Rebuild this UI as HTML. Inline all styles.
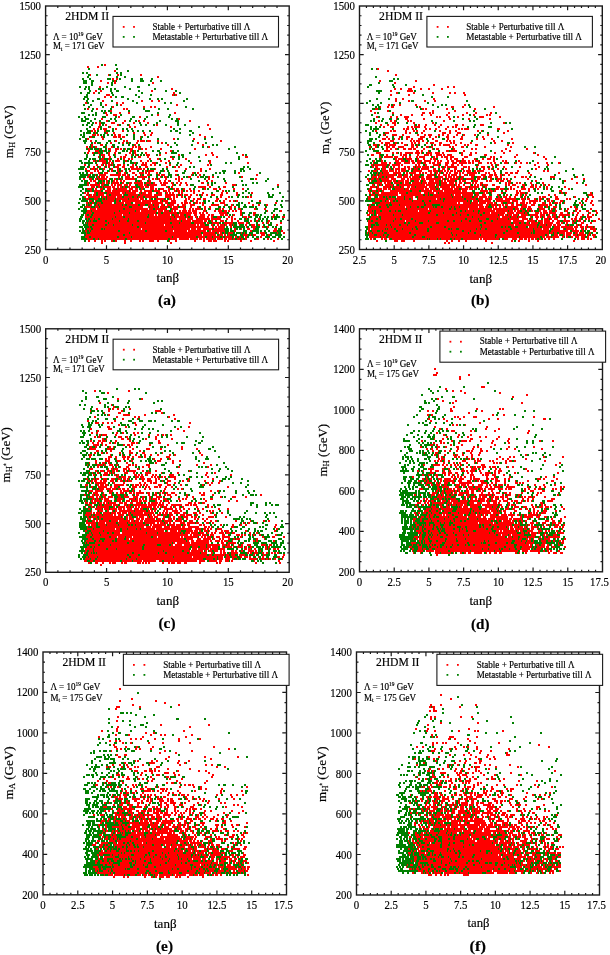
<!DOCTYPE html>
<html><head><meta charset="utf-8"><style>
html,body{margin:0;padding:0;background:#fff;width:610px;height:955px;overflow:hidden}
svg{display:block;will-change:transform}
text{font-family:"Liberation Serif",serif;stroke:#000;stroke-width:0.18px}
</style></head><body>
<svg width="610" height="955" viewBox="0 0 610 955" font-family='"Liberation Serif", serif' fill="#000">
<path d="M104 65h2M87 67h2m8 0h2M377 69h2M114 71h2m271 0h2M90 75h1m17 0h1m8 0h2m21 0h2m253 0h2M157 77h2M112 79h2m2 0h2M100 81h2m12 0h2m263 0h2m34 0h2M107 83h2m5 0h2m36 0h2m240 0h2M433 85h2M99 87h2m312 0h2m32 0h2m4 0h2M171 89h2m221 0h2m4 0h2m6 0h4m8 0h2m6 0h2m11 0h2M95 91h2m3 0h2m49 0h2m237 0h2m15 0h6M93 93h2m78 0h2m221 0h2m15 0h2m17 0h2m15 0h2m3 0h2m7 0h2M106 95h4m62 0h2m1 0h2m213 0h2m16 0h2m54 0h2M104 97h2m4 0h2M395 99h2m5 0h2m29 0h2M102 101h2m37 0h2m8 0h2m5 0h2m235 0h2m11 0h2m14 0h2m8 0h2M85 103h2m29 0h2m4 0h2M105 105h2m13 0h2m54 0h2m210 0h2m3 0h2m4 0h2m14 0h2m47 0h2M112 107h2m29 0h2m5 0h2m2 0h2m224 0h1m6 0h2m2 0h3m25 0h2m30 0h3m8 0h2m29 0h2M87 109h2m7 0h2m25 0h2m1 0h2m247 0h3m44 0h2m1 0h2m19 0h2m26 0h2M110 111h2m258 0h2m15 0h2m43 0h2m20 0h2M105 113h2m12 0h2m7 0h2m44 0h2m198 0h2m16 0h2m28 0h3m4 0h2m1 0h2m14 0h2m16 0h2m7 0h2m13 0h2M106 115h2m5 0h4m40 0h2m241 0h2m9 0h2m8 0h2m7 0h2m14 0h2m14 0h2m9 0h2m11 0h2m1 0h2M118 117h2m19 0h2m235 0h2m12 0h2m4 0h2m6 0h5m27 0h2m1 0h2m7 0h2m7 0h2m20 0h5m15 0h2M101 119h2m75 0h2m216 0h1m8 0h3m15 0h2m24 0h2m17 0h2m19 0h2M106 121h2m16 0h2m12 0h2m3 0h2m44 0h2m187 0h2m10 0h2m2 0h2m11 0h2m1 0h2m31 0h2M95 123h2m2 0h2m10 0h4m7 0h2m9 0h2m12 0h2m226 0h2m15 0h4m17 0h2m17 0h2m69 0h2M99 125h2m4 0h2m10 0h2m10 0h1m26 0h2m49 0h2m171 0h2m5 0h2m5 0h2m18 0h1m3 0h2m5 0h2m7 0h2m4 0h2m13 0h3m4 0h2m16 0h4M98 127h2m9 0h2m18 0h2m3 0h2m34 0h2m211 0h2m5 0h4m13 0h2m2 0h2m1 0h6m4 0h2m12 0h2m7 0h2m3 0h2m1 0h2M93 129h2m2 0h2m4 0h4m8 0h2m92 0h2m192 0h2m1 0h3m3 0h2m11 0h2m2 0h2m4 0h2m8 0h2m11 0h2m1 0h2m1 0h5m28 0h3M91 131h2m1 0h2m8 0h2m16 0h2m251 0h2m13 0h2m1 0h3m9 0h2m6 0h2m1 0h2m5 0h2m14 0h2m8 0h2m4 0h2m20 0h2m2 0h1m25 0h2M95 133h1m10 0h2m5 0h2m18 0h2m8 0h2m6 0h2m232 0h4m16 0h2m2 0h2m10 0h2m19 0h4m3 0h2m6 0h4m42 0h2M92 135h4m1 0h2m15 0h2m2 0h3m23 0h2m4 0h2m47 0h2m182 0h2m7 0h5m5 0h2m13 0h2m5 0h2m2 0h4m6 0h2m2 0h2m3 0h2m7 0h2m5 0h2m9 0h2m11 0h2M90 137h2m9 0h2m10 0h4m1 0h3m1 0h3m15 0h1m63 0h2m180 0h2m11 0h2m5 0h4m10 0h5m4 0h2m4 0h2m9 0h3m4 0h2m6 0h2m19 0h2M87 139h2m13 0h2m69 0h2m18 0h2m187 0h4m2 0h2m4 0h1m3 0h2m6 0h2m3 0h2m5 0h5m9 0h2m13 0h2m11 0h3m13 0h2m5 0h2m6 0h2m18 0h2M90 141h2m23 0h2m6 0h2m1 0h2m9 0h2m1 0h5m2 0h4m6 0h2m61 0h2m157 0h2m9 0h4m16 0h2m1 0h2m1 0h4m2 0h2m11 0h3m8 0h2m1 0h2m2 0h2m38 0h2m6 0h2M94 143h2m14 0h2m10 0h2m4 0h1m7 0h2m23 0h2m34 0h2m182 0h2m2 0h5m5 0h2m4 0h2m8 0h2m1 0h2m2 0h2m6 0h2m2 0h4m5 0h3m8 0h2m1 0h2m5 0h2m8 0h2m22 0h2m16 0h2M91 145h2m7 0h3m31 0h2m31 0h2m33 0h2m169 0h4m2 0h1m5 0h3m1 0h7m8 0h3m4 0h3m3 0h1m16 0h2m3 0h2m2 0h7m5 0h2m7 0h2m1 0h2m6 0h3m29 0h2M86 147h2m3 0h2m2 0h2m9 0h1m4 0h2m19 0h2m1 0h2m1 0h3m9 0h2m56 0h2m159 0h2m4 0h2m9 0h4m2 0h3m3 0h6m7 0h3m2 0h2m8 0h3m2 0h2m16 0h2m1 0h2m7 0h3m20 0h2m24 0h2M88 149h2m9 0h1m8 0h3m4 0h4m1 0h2m3 0h1m4 0h3m5 0h2m1 0h2m2 0h2m13 0h2m32 0h2m177 0h2m11 0h2m2 0h2m3 0h2m6 0h3m2 0h4m1 0h3m7 0h2m7 0h1m3 0h3m14 0h2m16 0h2m2 0h2m28 0h2m19 0h2M88 151h2m5 0h4m4 0h1m6 0h1m4 0h2m13 0h2m2 0h2m34 0h2m212 0h6m26 0h3m2 0h2m5 0h1m17 0h3m1 0h7m6 0h2m36 0h2m6 0h2M87 153h2m3 0h2m4 0h2m8 0h2m4 0h2m13 0h2m3 0h2m9 0h2m18 0h2m44 0h2m163 0h5m11 0h2m2 0h2m2 0h2m3 0h8m2 0h5m1 0h1m5 0h5m3 0h5m2 0h2m17 0h2m7 0h2m3 0h2m17 0h2m7 0h2m28 0h2M101 155h4m3 0h2m5 0h1m9 0h2m4 0h1m3 0h2m9 0h4m9 0h2m17 0h2m25 0h2m5 0h2m28 0h2m127 0h3m5 0h1m6 0h2m12 0h2m1 0h4m10 0h2m5 0h5m1 0h2m4 0h6m1 0h2m2 0h5m9 0h2m6 0h3m12 0h3m29 0h2m19 0h2M98 157h1m4 0h2m4 0h2m9 0h2m1 0h3m12 0h3m6 0h2m21 0h2m44 0h2m27 0h3m131 0h2m3 0h9m1 0h4m4 0h2m1 0h2m2 0h2m5 0h2m1 0h6m8 0h2m1 0h2m3 0h2m1 0h4m2 0h4m10 0h4m22 0h2m1 0h2m5 0h2m12 0h2m27 0h2M101 159h3m4 0h2m7 0h2m4 0h2m3 0h2m1 0h2m16 0h2m6 0h2m13 0h2m11 0h2m194 0h1m13 0h2m1 0h5m3 0h6m5 0h2m4 0h2m5 0h2m1 0h3m10 0h2m2 0h2m2 0h4m4 0h2m10 0h2m6 0h2m3 0h4m2 0h2m50 0h2M93 161h2m1 0h1m2 0h7m3 0h2m4 0h5m5 0h2m13 0h2m5 0h2m11 0h2m6 0h2m39 0h2m162 0h2m6 0h2m12 0h4m2 0h4m3 0h2m1 0h3m3 0h5m2 0h7m3 0h2m1 0h2m1 0h2m5 0h2m2 0h3m2 0h4m1 0h5m2 0h2m2 0h2m1 0h4m14 0h2m7 0h2m1 0h2m11 0h2M102 163h4m2 0h2m1 0h2m21 0h2m6 0h2m1 0h2m5 0h4m9 0h2m23 0h2m17 0h2m36 0h2m124 0h1m7 0h6m2 0h2m5 0h5m3 0h6m2 0h3m2 0h4m2 0h3m3 0h2m1 0h3m2 0h4m4 0h4m3 0h5m2 0h8m1 0h3m1 0h2m4 0h4m5 0h2m1 0h2m2 0h2m8 0h4m7 0h2m3 0h2m4 0h2m9 0h2m7 0h2m10 0h2M84 165h2m10 0h2m3 0h2m2 0h2m1 0h3m1 0h1m4 0h4m2 0h2m7 0h2m7 0h6m3 0h2m2 0h2m13 0h2m9 0h2m25 0h2m162 0h2m1 0h13m2 0h1m2 0h8m1 0h2m12 0h2m1 0h2m5 0h2m6 0h6m6 0h3m3 0h3m3 0h2m2 0h2m15 0h1m12 0h2m4 0h2m35 0h2m11 0h2M89 167h1m3 0h2m4 0h2m3 0h1m3 0h2m5 0h4m3 0h3m5 0h4m2 0h2m7 0h3m18 0h2m6 0h2m2 0h2m192 0h2m1 0h3m4 0h4m2 0h1m4 0h2m3 0h2m4 0h2m1 0h3m3 0h2m1 0h5m1 0h7m1 0h2m6 0h2m1 0h1m2 0h2m1 0h10m6 0h4m1 0h2m6 0h2m3 0h4m2 0h1m4 0h2m9 0h2m14 0h2m17 0h2M85 169h2m4 0h4m1 0h2m5 0h2m6 0h2m4 0h2m5 0h1m6 0h11m1 0h2m10 0h1m29 0h2m13 0h2m7 0h2m165 0h4m2 0h4m3 0h2m2 0h1m1 0h5m1 0h5m2 0h2m1 0h1m2 0h4m3 0h8m4 0h3m6 0h3m2 0h1m6 0h3m4 0h2m5 0h2m13 0h2m3 0h2m1 0h1m5 0h2m6 0h2m28 0h2M87 171h3m4 0h2m1 0h2m10 0h1m1 0h2m4 0h2m2 0h2m6 0h2m14 0h2m1 0h6m10 0h1m10 0h3m22 0h2m166 0h2m3 0h4m5 0h6m1 0h5m1 0h2m1 0h2m1 0h5m7 0h9m6 0h4m1 0h5m2 0h3m1 0h2m1 0h2m1 0h3m1 0h2m1 0h3m3 0h2m1 0h5m3 0h2m1 0h7m9 0h2m22 0h2m24 0h2m2 0h2M90 173h3m5 0h2m4 0h4m10 0h3m3 0h2m6 0h3m4 0h5m1 0h2m1 0h2m6 0h2m34 0h2m3 0h2m39 0h2m137 0h1m2 0h2m1 0h6m4 0h8m5 0h2m1 0h7m3 0h2m1 0h2m1 0h2m3 0h2m2 0h1m1 0h2m1 0h2m2 0h1m2 0h2m1 0h2m3 0h4m1 0h2m1 0h2m3 0h10m8 0h2m1 0h2m4 0h2m9 0h3m2 0h3m2 0h3m10 0h2m28 0h2M88 175h2m5 0h1m3 0h7m4 0h11m1 0h4m1 0h2m6 0h2m4 0h1m5 0h3m8 0h2m1 0h4m10 0h2m14 0h1m7 0h2m55 0h2m115 0h1m2 0h2m1 0h17m2 0h4m2 0h4m4 0h1m1 0h6m7 0h7m2 0h1m1 0h2m3 0h4m1 0h2m1 0h6m2 0h2m3 0h3m2 0h6m6 0h5m3 0h4m1 0h3m3 0h2m1 0h2m3 0h2m20 0h2M87 177h2m8 0h2m2 0h4m1 0h2m10 0h2m5 0h5m2 0h2m4 0h9m13 0h1m3 0h3m11 0h2m8 0h3m6 0h2m9 0h2m2 0h2m27 0h2m129 0h5m1 0h4m2 0h2m1 0h7m3 0h5m1 0h5m1 0h2m1 0h7m2 0h3m2 0h6m2 0h1m3 0h5m2 0h2m1 0h4m1 0h2m1 0h3m2 0h3m7 0h3m3 0h4m2 0h2m3 0h4m3 0h3m2 0h2m12 0h2m5 0h3m1 0h2m23 0h5m21 0h2M83 179h2m4 0h3m3 0h2m1 0h9m2 0h1m4 0h2m2 0h1m2 0h1m3 0h10m7 0h2m4 0h2m2 0h2m1 0h2m1 0h2m5 0h2m8 0h2m1 0h2m1 0h2m25 0h2m45 0h2m110 0h2m2 0h3m2 0h3m2 0h8m2 0h5m5 0h4m2 0h2m1 0h10m1 0h4m1 0h15m1 0h2m2 0h3m1 0h8m2 0h3m3 0h8m3 0h3m1 0h2m7 0h2m5 0h4m2 0h2m1 0h2m19 0h2m42 0h2m10 0h2M90 181h2m1 0h3m6 0h1m3 0h2m5 0h2m1 0h2m2 0h2m1 0h2m12 0h1m2 0h2m7 0h2m8 0h2m3 0h2m2 0h2m8 0h2m26 0h2m3 0h2m155 0h2m1 0h1m5 0h3m2 0h10m1 0h3m2 0h6m1 0h4m1 0h1m3 0h5m1 0h1m2 0h3m3 0h5m1 0h4m2 0h2m1 0h2m1 0h8m4 0h2m1 0h4m7 0h5m8 0h2m1 0h3m4 0h3m1 0h4m4 0h3m24 0h2m27 0h2M87 183h2m6 0h2m2 0h1m2 0h3m1 0h2m1 0h1m2 0h7m3 0h2m5 0h3m2 0h9m3 0h5m2 0h2m5 0h2m1 0h5m3 0h2m3 0h2m2 0h2m3 0h2m14 0h3m21 0h2m147 0h8m2 0h2m1 0h4m3 0h6m2 0h2m1 0h4m3 0h9m1 0h5m1 0h11m2 0h6m2 0h5m1 0h2m2 0h3m4 0h5m1 0h2m1 0h2m3 0h3m22 0h2m1 0h3m5 0h2m1 0h2m9 0h2m10 0h2m32 0h2M87 185h2m1 0h10m1 0h3m7 0h2m1 0h2m1 0h5m2 0h4m1 0h2m7 0h5m1 0h3m2 0h8m4 0h5m6 0h2m5 0h2m5 0h2m19 0h2m23 0h4m41 0h2m93 0h2m3 0h2m1 0h2m3 0h8m3 0h1m2 0h26m1 0h9m2 0h2m2 0h13m1 0h2m1 0h2m3 0h2m5 0h1m3 0h2m1 0h2m1 0h2m1 0h5m4 0h3m10 0h2m1 0h2m2 0h4m6 0h3m6 0h2m2 0h2m6 0h2m3 0h2m35 0h2M91 187h4m3 0h2m2 0h1m1 0h7m1 0h3m2 0h2m1 0h2m1 0h2m3 0h2m1 0h5m4 0h4m1 0h4m1 0h4m12 0h2m3 0h2m25 0h8m3 0h2m12 0h3m144 0h6m1 0h2m4 0h7m1 0h2m1 0h6m1 0h3m3 0h3m1 0h4m1 0h11m2 0h6m1 0h3m1 0h10m1 0h4m1 0h6m3 0h4m1 0h9m3 0h1m2 0h2m9 0h4m10 0h2m5 0h2m4 0h2m5 0h4m1 0h2m2 0h2m5 0h2m16 0h2M87 189h5m3 0h2m3 0h3m4 0h4m2 0h3m1 0h10m2 0h4m2 0h3m3 0h2m7 0h4m1 0h2m3 0h4m4 0h2m3 0h2m1 0h3m4 0h2m4 0h2m13 0h2m7 0h4m2 0h2m12 0h2m7 0h2m125 0h3m4 0h6m1 0h4m1 0h3m4 0h9m1 0h4m1 0h14m1 0h4m1 0h6m2 0h1m3 0h11m1 0h5m2 0h7m1 0h4m1 0h2m5 0h2m7 0h1m4 0h4m1 0h4m4 0h1m1 0h2m1 0h2m6 0h5m2 0h2m3 0h1m3 0h2m7 0h2m20 0h2M90 191h2m2 0h7m4 0h6m1 0h17m1 0h1m1 0h6m2 0h2m2 0h8m2 0h6m3 0h4m1 0h2m4 0h2m1 0h3m1 0h2m3 0h2m2 0h2m1 0h2m3 0h2m22 0h2m144 0h2m2 0h4m2 0h2m2 0h2m6 0h20m2 0h7m2 0h11m1 0h10m1 0h17m1 0h5m13 0h8m1 0h4m1 0h2m9 0h2m9 0h2m1 0h2m7 0h2m29 0h3M84 193h2m1 0h2m5 0h2m2 0h6m3 0h13m2 0h3m1 0h10m3 0h2m1 0h4m2 0h4m6 0h4m4 0h2m1 0h2m1 0h2m4 0h2m1 0h2m10 0h2m7 0h2m17 0h2m3 0h2m8 0h2m13 0h2m116 0h2m1 0h1m2 0h4m2 0h17m1 0h7m2 0h13m3 0h4m1 0h5m2 0h2m1 0h34m2 0h4m4 0h2m1 0h2m3 0h1m9 0h2m13 0h3m1 0h5m2 0h1m33 0h2m2 0h2m23 0h2M86 195h3m1 0h2m1 0h3m2 0h6m2 0h3m2 0h11m1 0h1m4 0h10m2 0h12m2 0h8m3 0h10m1 0h2m2 0h2m2 0h4m2 0h2m4 0h2m3 0h2m3 0h2m3 0h4m5 0h3m13 0h2m133 0h4m3 0h20m3 0h22m2 0h3m1 0h1m3 0h18m1 0h2m1 0h6m1 0h11m3 0h3m3 0h4m11 0h2m7 0h2m7 0h3m2 0h2m3 0h2m21 0h2m4 0h2m32 0h5M84 197h2m2 0h12m2 0h4m1 0h9m1 0h5m2 0h8m2 0h3m1 0h5m2 0h12m8 0h6m2 0h2m1 0h2m3 0h2m5 0h3m29 0h2m6 0h2m17 0h2m1 0h2m116 0h3m3 0h1m4 0h4m2 0h1m1 0h2m2 0h1m5 0h7m1 0h8m2 0h1m2 0h34m1 0h9m1 0h9m2 0h4m1 0h8m1 0h4m6 0h2m3 0h4m2 0h2m3 0h2m4 0h1m3 0h2m13 0h2m1 0h4m9 0h3m16 0h2m16 0h2M86 199h3m5 0h4m4 0h1m2 0h1m1 0h8m1 0h12m1 0h10m1 0h4m5 0h2m5 0h8m5 0h3m1 0h2m10 0h2m1 0h2m3 0h2m2 0h4m2 0h3m10 0h3m6 0h2m141 0h3m4 0h11m2 0h7m1 0h8m1 0h4m2 0h2m5 0h18m1 0h3m1 0h2m2 0h19m2 0h10m2 0h5m2 0h4m1 0h2m3 0h8m2 0h11m5 0h4m2 0h3m4 0h2m3 0h3m4 0h1m1 0h2m5 0h4m7 0h2m1 0h2m11 0h2m2 0h2M89 201h3m3 0h1m6 0h12m2 0h3m3 0h19m1 0h16m2 0h2m1 0h5m3 0h5m8 0h3m5 0h2m2 0h2m17 0h3m5 0h2m4 0h2m2 0h2m1 0h2m21 0h2m114 0h5m2 0h3m1 0h3m1 0h3m2 0h1m2 0h14m1 0h9m2 0h5m2 0h12m1 0h23m1 0h2m3 0h5m1 0h12m5 0h14m2 0h6m4 0h3m4 0h9m1 0h2m6 0h3m1 0h2m7 0h3m22 0h2m4 0h2M86 203h2m1 0h1m2 0h2m3 0h4m2 0h9m4 0h8m1 0h6m4 0h16m1 0h11m2 0h3m2 0h6m5 0h2m1 0h4m1 0h2m4 0h3m1 0h2m1 0h2m16 0h5m23 0h2m25 0h2m95 0h3m5 0h10m1 0h33m1 0h32m1 0h2m3 0h7m1 0h7m1 0h7m1 0h6m1 0h2m5 0h2m4 0h5m1 0h1m2 0h2m2 0h5m1 0h2m1 0h2m2 0h3m6 0h3m4 0h2m3 0h4m1 0h2m3 0h1m14 0h2m9 0h2M87 205h1m2 0h2m4 0h2m1 0h23m1 0h2m2 0h11m2 0h5m3 0h5m1 0h5m2 0h3m3 0h7m3 0h2m3 0h4m4 0h5m7 0h2m7 0h8m5 0h2m5 0h2m19 0h2m4 0h2m6 0h2m101 0h2m7 0h8m2 0h1m3 0h7m1 0h24m2 0h6m8 0h43m3 0h3m2 0h6m1 0h3m1 0h2m1 0h3m3 0h3m2 0h4m2 0h5m4 0h4m5 0h8m1 0h3m29 0h2m9 0h2M85 207h6m4 0h4m1 0h29m3 0h11m5 0h1m1 0h8m2 0h8m2 0h2m1 0h5m2 0h5m5 0h2m5 0h2m5 0h2m3 0h2m19 0h2m2 0h2m132 0h2m1 0h8m2 0h6m2 0h16m1 0h4m1 0h6m2 0h2m3 0h9m1 0h1m2 0h4m2 0h8m1 0h2m1 0h4m1 0h18m1 0h5m1 0h3m4 0h2m1 0h2m2 0h2m2 0h2m2 0h11m3 0h6m1 0h3m7 0h5m3 0h2m5 0h4m13 0h2m2 0h2M90 209h6m1 0h26m2 0h23m1 0h4m2 0h11m6 0h6m5 0h3m3 0h2m1 0h2m1 0h6m3 0h2m4 0h1m8 0h2m1 0h2m6 0h2m6 0h3m13 0h2m8 0h2m102 0h38m1 0h21m1 0h20m2 0h3m2 0h12m1 0h23m1 0h20m2 0h4m1 0h3m4 0h5m7 0h6m6 0h2m2 0h1m5 0h1m5 0h2m6 0h3m12 0h2M87 211h4m1 0h27m1 0h15m1 0h4m1 0h16m1 0h5m1 0h5m2 0h2m1 0h2m3 0h2m1 0h5m1 0h3m1 0h5m6 0h3m8 0h2m2 0h4m2 0h3m1 0h2m2 0h2m1 0h2m3 0h2m25 0h1m12 0h2m86 0h4m1 0h1m2 0h4m2 0h7m2 0h4m1 0h2m3 0h17m1 0h11m1 0h29m2 0h3m1 0h7m1 0h4m2 0h15m1 0h12m1 0h4m1 0h2m1 0h3m2 0h3m2 0h2m2 0h2m1 0h1m4 0h2m2 0h4m2 0h3m3 0h2m8 0h3m7 0h2m2 0h2m5 0h3m6 0h2M86 213h6m2 0h20m1 0h14m1 0h26m2 0h3m2 0h14m2 0h13m1 0h4m2 0h2m1 0h2m2 0h2m11 0h8m13 0h2m11 0h3m113 0h5m2 0h52m2 0h13m1 0h12m1 0h21m1 0h4m2 0h5m1 0h14m2 0h7m2 0h8m1 0h2m8 0h4m1 0h2m1 0h5m1 0h7m4 0h3m4 0h1m4 0h2m3 0h2m10 0h2m5 0h2M85 215h2m2 0h2m2 0h29m1 0h25m1 0h5m1 0h2m1 0h12m1 0h1m2 0h5m1 0h4m2 0h5m3 0h3m3 0h5m3 0h2m1 0h3m6 0h4m1 0h3m5 0h2m5 0h2m11 0h2m18 0h2m92 0h3m3 0h1m2 0h1m1 0h15m1 0h8m1 0h33m2 0h14m2 0h6m1 0h6m2 0h11m2 0h16m1 0h5m1 0h2m1 0h4m1 0h5m3 0h7m2 0h8m2 0h5m3 0h2m3 0h3m3 0h11m6 0h2m4 0h2m3 0h2m3 0h2M85 217h5m2 0h23m1 0h7m2 0h22m2 0h25m1 0h10m1 0h2m2 0h3m2 0h2m2 0h6m2 0h2m2 0h2m4 0h3m8 0h2m1 0h2m10 0h4m1 0h2m22 0h2m8 0h3m86 0h8m2 0h91m1 0h27m2 0h8m1 0h6m1 0h8m4 0h1m4 0h4m1 0h2m1 0h2m2 0h4m1 0h4m2 0h2m2 0h2m11 0h2m3 0h2m5 0h5M87 219h1m2 0h4m1 0h3m2 0h12m1 0h15m1 0h41m1 0h6m2 0h7m1 0h6m3 0h14m1 0h10m5 0h2m3 0h2m1 0h2m10 0h1m11 0h2m110 0h6m2 0h2m1 0h14m1 0h4m2 0h9m2 0h52m2 0h11m1 0h7m3 0h8m1 0h10m1 0h10m3 0h6m3 0h2m3 0h2m6 0h5m1 0h2m2 0h4m6 0h2m5 0h2m1 0h3m2 0h2m4 0h2m1 0h2m8 0h2M89 221h1m1 0h2m4 0h8m2 0h12m1 0h7m2 0h8m2 0h42m1 0h9m1 0h11m1 0h3m4 0h2m7 0h4m7 0h2m4 0h2m11 0h2m4 0h2m10 0h2m98 0h3m2 0h20m1 0h11m1 0h9m1 0h12m1 0h18m2 0h4m2 0h6m1 0h7m2 0h8m3 0h9m2 0h18m2 0h11m3 0h8m3 0h5m1 0h6m2 0h2m3 0h3m3 0h7m2 0h1m1 0h2m2 0h3m2 0h1m9 0h3M86 223h1m1 0h20m1 0h36m1 0h24m2 0h7m1 0h11m3 0h10m3 0h2m3 0h7m5 0h9m5 0h6m2 0h2m14 0h2m3 0h2m11 0h2m86 0h7m3 0h26m2 0h2m2 0h9m4 0h13m3 0h45m2 0h25m2 0h6m2 0h3m2 0h3m2 0h7m2 0h3m1 0h9m3 0h4m1 0h2m3 0h2m4 0h2m7 0h3m6 0h2M88 225h4m2 0h11m2 0h6m1 0h18m1 0h31m1 0h31m1 0h2m1 0h5m6 0h2m4 0h2m1 0h4m1 0h2m2 0h3m1 0h1m5 0h1m5 0h2m4 0h4m3 0h2m16 0h2m90 0h3m4 0h1m3 0h7m1 0h3m1 0h8m2 0h6m1 0h72m2 0h32m1 0h22m2 0h7m1 0h5m1 0h3m1 0h4m4 0h2m2 0h1m6 0h2m1 0h3m4 0h2M89 227h1m2 0h45m2 0h33m1 0h36m3 0h2m1 0h2m1 0h7m5 0h2m14 0h1m5 0h4m6 0h2m3 0h2m99 0h3m2 0h18m1 0h23m2 0h13m2 0h12m2 0h35m1 0h19m2 0h2m1 0h2m3 0h4m3 0h8m3 0h8m1 0h2m2 0h9m3 0h6m1 0h12m1 0h4m2 0h4m1 0h2m1 0h5m1 0h1M87 229h4m2 0h8m2 0h1m1 0h36m1 0h48m1 0h5m1 0h4m2 0h9m2 0h10m10 0h2m5 0h1m5 0h3m3 0h2m19 0h3m91 0h2m1 0h14m1 0h1m1 0h6m2 0h6m1 0h9m1 0h3m2 0h9m2 0h19m2 0h1m1 0h4m3 0h17m1 0h3m1 0h4m2 0h23m2 0h21m1 0h8m1 0h6m4 0h7m3 0h1m2 0h8m1 0h2m4 0h2m2 0h2m3 0h6M85 231h2m2 0h1m1 0h27m2 0h25m2 0h18m2 0h6m1 0h13m1 0h18m3 0h2m1 0h13m9 0h2m14 0h2m21 0h4m4 0h2m85 0h2m2 0h5m3 0h2m1 0h13m2 0h29m2 0h33m2 0h6m1 0h35m2 0h25m2 0h14m2 0h17m4 0h7m3 0h2m9 0h3M86 233h1m3 0h39m1 0h71m2 0h12m2 0h2m1 0h2m2 0h1m3 0h5m8 0h1m2 0h1m15 0h5m12 0h1m5 0h2m82 0h1m1 0h3m1 0h11m3 0h22m2 0h40m1 0h16m1 0h5m2 0h27m2 0h12m2 0h12m1 0h1m2 0h14m1 0h3m1 0h3m2 0h6m1 0h6m3 0h3m1 0h5m5 0h2M86 235h37m2 0h77m1 0h13m3 0h4m1 0h2m2 0h2m13 0h5m2 0h1m2 0h3m5 0h4m3 0h2m99 0h5m3 0h6m1 0h3m2 0h25m2 0h36m1 0h3m1 0h23m1 0h14m2 0h48m2 0h2m5 0h4m1 0h1m3 0h2m1 0h5m2 0h4m1 0h8m2 0h2m2 0h4M85 237h4m2 0h26m2 0h12m1 0h40m1 0h23m2 0h7m2 0h5m1 0h7m2 0h1m2 0h7m3 0h2m2 0h2m4 0h2m13 0h2m107 0h11m1 0h5m2 0h24m2 0h8m3 0h70m1 0h23m1 0h20m2 0h3m1 0h5m1 0h7m3 0h2m2 0h2m3 0h2m2 0h4m2 0h4m2 0h2m4 0h2M87 239h6m2 0h3m1 0h26m2 0h41m2 0h7m2 0h10m1 0h8m1 0h3m1 0h2m1 0h9m2 0h6m1 0h3m1 0h4m1 0h2m2 0h3m1 0h2m2 0h2m9 0h3m8 0h2m8 0h2m91 0h2m1 0h1m7 0h2m1 0h3m2 0h1m2 0h35m1 0h1m1 0h7m1 0h2m1 0h9m2 0h2m1 0h6m2 0h16m1 0h2m1 0h16m5 0h4m4 0h5m2 0h4m1 0h3m1 0h2m1 0h3m1 0h2m2 0h2m3 0h2m2 0h2m3 0h2m22 0h2m2 0h4m2 0h2m1 0h2M88 241h2m4 0h2m5 0h2m1 0h2m5 0h2m2 0h2m7 0h2m4 0h2m7 0h2m1 0h2m5 0h5m3 0h2m10 0h1m5 0h2m17 0h2m7 0h2m3 0h4m1 0h4m7 0h2m1 0h2m11 0h2m8 0h2m21 0h2m101 0h2m16 0h4m3 0h4m8 0h2m31 0h2m3 0h2m5 0h2m5 0h2m18 0h2m24 0h2m5 0h2m8 0h2m7 0h2m34 0h2M101 243h2m21 0h2m44 0h2m272 0h2m2 0h2m41 0h2M434 369h2M436 373h2M433 375h4m31 0h2M459 377h2M459 379h2M481 387h4M445 389h2M94 391h2m32 0h2m322 0h2m6 0h2M107 393h2m355 0h2m33 0h2M526 395h2M512 397h2M117 399h2m22 0h2m294 0h2M442 401h2m11 0h2M99 403h2m351 0h2m67 0h2M111 405h1M113 407h2m338 0h2M96 409h2m10 0h2m2 0h2m3 0h2m10 0h2m319 0h2m24 0h2m21 0h2m1 0h2M90 411h1m17 0h2m11 0h2m32 0h6m266 0h2m3 0h2m16 0h3m28 0h2M104 413h1m13 0h3m40 0h2m305 0h2M108 415h2m13 0h7m14 0h2m27 0h2m252 0h2m2 0h2m59 0h2m9 0h2M94 417h2m20 0h2m16 0h2m2 0h2m28 0h2m284 0h2m1 0h2m4 0h2m8 0h4m56 0h2M122 419h2m13 0h1m36 0h2m252 0h2m13 0h2m14 0h2m27 0h2m7 0h2m44 0h3M87 421h2m25 0h2m314 0h2m14 0h2M95 423h4m3 0h2m3 0h2m2 0h2m21 0h2m53 0h2m288 0h2M118 425h2m15 0h2m315 0h2m2 0h2m7 0h1M107 427h3m15 0h2m61 0h2m244 0h2m50 0h2M90 429h2m16 0h4m65 0h2m260 0h2m5 0h2m37 0h2m11 0h2M97 431h2m84 0h2m266 0h4m15 0h2m2 0h1m19 0h2m32 0h2M91 433h2m3 0h2m18 0h2m4 0h2m9 0h2m2 0h2m297 0h2m89 0h2M99 435h2m1 0h5m8 0h2m17 0h2m12 0h2m7 0h2m3 0h2m1 0h1m4 0h2m271 0h2m13 0h2m10 0h2M94 437h2m2 0h2m18 0h4m4 0h2m27 0h2m289 0h2m9 0h2m8 0h2m10 0h2m4 0h2m11 0h2M102 439h2m2 0h1m14 0h3m3 0h2m16 0h2m8 0h2m14 0h2m261 0h1m7 0h2m26 0h3m23 0h2m10 0h2M90 441h2m6 0h3m1 0h4m9 0h2m12 0h2m27 0h2m261 0h2m17 0h2m9 0h2m8 0h6m2 0h2m9 0h2m10 0h2m13 0h2m30 0h2m11 0h2M92 443h2m3 0h2m2 0h2m6 0h2m3 0h2m15 0h4m1 0h2m20 0h3m272 0h2m5 0h2m1 0h2m13 0h2m31 0h2m15 0h2M88 445h1m4 0h6m3 0h1m2 0h2m16 0h2m2 0h3m1 0h2m16 0h2m16 0h2m261 0h3m3 0h2m12 0h2m9 0h2m31 0h2M90 447h2m3 0h2m12 0h2m2 0h1m15 0h2m50 0h2m237 0h2m15 0h3m5 0h2m9 0h3m14 0h2m2 0h2m11 0h2m16 0h2m23 0h2M89 449h7m11 0h6m19 0h2m12 0h4m10 0h2m19 0h2m13 0h2m228 0h2m3 0h2m3 0h2m19 0h2m13 0h2m6 0h2m24 0h2m6 0h2m25 0h2M96 451h3m11 0h2m17 0h2m8 0h2m291 0h2m4 0h1m5 0h2m3 0h2m5 0h2m8 0h4m1 0h2m7 0h3m3 0h2M94 453h2m5 0h2m3 0h2m11 0h2m8 0h4m9 0h3m17 0h1m36 0h2m223 0h1m10 0h3m24 0h1m7 0h2m7 0h2M89 455h3m18 0h1m11 0h1m12 0h2m7 0h2m4 0h2m5 0h2m10 0h2m3 0h2m25 0h2m231 0h2m2 0h1m5 0h2m7 0h2m1 0h2m4 0h2m7 0h2m5 0h2m45 0h2M89 457h2m17 0h4m3 0h2m5 0h4m1 0h3m2 0h2m4 0h3m3 0h2m20 0h4m268 0h1m2 0h2m11 0h3m1 0h2m6 0h2m3 0h2m26 0h2m8 0h2m2 0h2m28 0h2m17 0h2M105 459h2m1 0h2m6 0h1m6 0h2m2 0h2m2 0h1m21 0h2m5 0h2m7 0h2m267 0h2m1 0h4m20 0h1m2 0h2m1 0h1m2 0h1m2 0h2m17 0h2m4 0h2m3 0h2m16 0h2M95 461h2m8 0h5m7 0h4m10 0h2m24 0h4m11 0h2m5 0h2m253 0h2m1 0h2m1 0h2m2 0h1m3 0h2m12 0h4m8 0h2m1 0h4m8 0h2m1 0h2m11 0h2m2 0h3m2 0h2m28 0h2M89 463h1m5 0h2m5 0h3m3 0h2m16 0h2m27 0h2m15 0h2m29 0h2m238 0h2m8 0h2m4 0h2m5 0h2m6 0h1m2 0h1m15 0h2m1 0h2m1 0h1m5 0h2m52 0h2M87 465h1m9 0h6m1 0h2m3 0h4m3 0h2m10 0h3m1 0h2m1 0h2m9 0h4m46 0h2m12 0h2m211 0h2m8 0h7m2 0h2m2 0h2m2 0h2m2 0h2m1 0h2m1 0h2m19 0h4m70 0h2M97 467h2m13 0h2m6 0h1m5 0h3m13 0h2m4 0h2m28 0h2m27 0h2m235 0h2m9 0h2m9 0h2m2 0h2m1 0h3m1 0h4m1 0h4m3 0h2m1 0h4m11 0h2m3 0h2M89 469h4m15 0h1m2 0h2m1 0h4m5 0h4m1 0h2m7 0h2m289 0h6m8 0h2m4 0h2m7 0h2m3 0h2m7 0h6m5 0h2m11 0h2m2 0h2m24 0h2M95 471h2m3 0h4m3 0h3m2 0h3m1 0h2m5 0h2m1 0h1m2 0h7m6 0h2m4 0h1m6 0h2m32 0h1m227 0h2m4 0h1m6 0h2m3 0h4m4 0h2m4 0h2m10 0h4m1 0h2m2 0h5m4 0h2m13 0h2m2 0h4m25 0h2M89 473h1m2 0h1m4 0h2m5 0h4m1 0h2m1 0h2m10 0h4m5 0h2m10 0h6m10 0h1m15 0h2m27 0h2m6 0h2m214 0h4m8 0h4m2 0h4m3 0h3m9 0h2m2 0h2m7 0h2m3 0h6m3 0h2m2 0h2m14 0h2m41 0h2M93 475h2m8 0h5m6 0h2m1 0h2m15 0h3m1 0h2m1 0h2m3 0h2m4 0h2m1 0h2m12 0h5m31 0h2m23 0h2m190 0h2m4 0h2m5 0h3m6 0h2m2 0h2m2 0h2m3 0h2m4 0h1m6 0h4m8 0h2m1 0h4m3 0h4m7 0h2M100 477h2m14 0h3m2 0h5m2 0h2m5 0h4m1 0h4m7 0h2m1 0h2m1 0h2m2 0h2m1 0h2m4 0h6m31 0h2m203 0h2m12 0h1m4 0h1m4 0h2m13 0h2m1 0h2m1 0h2m1 0h2m2 0h2m4 0h2m1 0h2m11 0h2m6 0h2m13 0h2m34 0h2m6 0h2M86 479h2m5 0h2m1 0h3m4 0h4m4 0h4m3 0h3m2 0h3m1 0h2m6 0h2m4 0h4m2 0h4m4 0h2m1 0h2m7 0h1m6 0h2m12 0h2m22 0h2m208 0h2m2 0h2m2 0h2m6 0h4m2 0h7m2 0h3m3 0h5m6 0h2m1 0h7m6 0h3m2 0h3m1 0h3m6 0h2m2 0h2m27 0h4m2 0h2m11 0h2M88 481h2m1 0h2m1 0h3m3 0h2m1 0h4m3 0h4m3 0h1m2 0h3m2 0h2m1 0h4m10 0h2m3 0h5m3 0h2m5 0h1m4 0h4m11 0h2m3 0h2m15 0h2m13 0h2m197 0h2m4 0h2m1 0h2m5 0h2m4 0h2m2 0h10m4 0h4m5 0h4m3 0h1m2 0h2m1 0h4m11 0h5m4 0h2m9 0h1m11 0h2m22 0h3M91 483h1m3 0h11m7 0h2m8 0h2m14 0h2m3 0h2m4 0h2m1 0h4m9 0h2m6 0h2m31 0h2m2 0h2m5 0h2m201 0h1m4 0h6m4 0h2m1 0h2m3 0h4m4 0h3m4 0h13m9 0h6m4 0h2m2 0h2m7 0h2m9 0h3m1 0h2m1 0h2M85 485h3m9 0h2m1 0h4m1 0h3m6 0h10m2 0h1m5 0h2m1 0h4m1 0h2m1 0h2m1 0h2m10 0h4m5 0h4m9 0h2m20 0h2m5 0h2m214 0h2m4 0h2m3 0h4m1 0h1m2 0h3m9 0h4m1 0h5m1 0h2m3 0h2m4 0h5m3 0h2m1 0h2m2 0h2m3 0h5m4 0h2m25 0h2m7 0h2m9 0h2M85 487h1m5 0h2m5 0h9m3 0h2m2 0h4m14 0h5m2 0h2m4 0h2m1 0h2m4 0h4m1 0h2m4 0h2m4 0h2m54 0h2m199 0h1m8 0h2m3 0h7m6 0h4m4 0h2m3 0h5m2 0h7m3 0h3m2 0h2m2 0h6m6 0h9m12 0h2m10 0h2m3 0h2m14 0h2m1 0h2M96 489h1m2 0h5m2 0h5m1 0h4m2 0h3m1 0h3m2 0h2m4 0h2m9 0h2m3 0h2m13 0h2m11 0h2m2 0h2m236 0h4m14 0h3m3 0h1m2 0h1m1 0h4m1 0h2m2 0h4m5 0h2m1 0h9m2 0h3m1 0h2m2 0h7m3 0h5m2 0h2m1 0h4m12 0h2m2 0h2m4 0h2m2 0h4m10 0h2m1 0h2m3 0h2M89 491h4m2 0h8m6 0h4m7 0h2m1 0h6m3 0h2m5 0h2m22 0h2m45 0h2m5 0h2m217 0h2m1 0h1m2 0h2m1 0h9m1 0h2m1 0h2m6 0h3m2 0h3m4 0h3m1 0h2m7 0h2m31 0h2m4 0h4m8 0h3m15 0h2M88 493h1m4 0h5m5 0h1m5 0h3m4 0h2m2 0h4m5 0h3m1 0h2m1 0h8m3 0h3m5 0h2m2 0h2m1 0h2m2 0h2m3 0h4m24 0h2m2 0h2m224 0h1m2 0h5m4 0h3m2 0h5m1 0h1m1 0h3m2 0h10m2 0h3m7 0h2m5 0h2m2 0h2m2 0h4m4 0h3m2 0h2m10 0h2m14 0h2m1 0h2M84 495h2m6 0h2m1 0h4m3 0h3m6 0h1m5 0h3m4 0h2m6 0h1m3 0h3m9 0h2m4 0h3m7 0h2m1 0h4m4 0h2m9 0h2m13 0h4m7 0h2m46 0h2m152 0h2m4 0h1m10 0h4m3 0h3m1 0h2m3 0h2m2 0h3m4 0h5m4 0h3m4 0h2m3 0h7m1 0h5m1 0h2m7 0h2m3 0h4m4 0h1m2 0h2m16 0h2m19 0h2M88 497h1m1 0h4m2 0h2m1 0h2m2 0h3m2 0h5m5 0h3m3 0h5m4 0h5m4 0h3m4 0h2m5 0h6m8 0h2m14 0h2m4 0h2m26 0h2m10 0h4m9 0h2m184 0h1m5 0h8m1 0h5m4 0h1m8 0h2m1 0h2m2 0h4m4 0h2m1 0h5m4 0h3m1 0h4m1 0h4m1 0h3m9 0h2m2 0h2m1 0h2m2 0h4m1 0h2m9 0h2M92 499h3m1 0h3m2 0h2m1 0h5m5 0h1m2 0h6m6 0h6m1 0h2m1 0h2m1 0h2m5 0h2m1 0h5m1 0h2m3 0h4m11 0h2m2 0h2m1 0h2m6 0h1m9 0h2m5 0h3m210 0h2m1 0h2m6 0h3m2 0h3m2 0h1m2 0h1m2 0h6m8 0h2m5 0h2m2 0h2m1 0h7m2 0h3m1 0h2m2 0h3m4 0h2m3 0h2m13 0h2m3 0h2m3 0h2m17 0h4M85 501h1m5 0h2m1 0h6m4 0h7m6 0h4m5 0h4m2 0h6m1 0h3m1 0h4m8 0h2m3 0h2m3 0h4m10 0h2m24 0h2m21 0h2m6 0h2m182 0h2m3 0h2m1 0h2m1 0h3m6 0h1m1 0h4m2 0h2m1 0h7m2 0h8m2 0h8m2 0h5m1 0h3m2 0h6m2 0h2m2 0h5m3 0h2m1 0h4m3 0h2m2 0h1m1 0h2m2 0h1m15 0h6M85 503h3m1 0h1m2 0h4m3 0h3m1 0h2m1 0h2m1 0h7m3 0h4m1 0h3m3 0h3m3 0h5m7 0h2m1 0h7m1 0h2m1 0h2m4 0h2m18 0h4m2 0h2m2 0h2m2 0h3m212 0h4m3 0h2m1 0h2m3 0h12m3 0h5m1 0h14m2 0h5m3 0h5m5 0h3m3 0h4m1 0h2m8 0h2m6 0h2m2 0h2m18 0h3M88 505h4m6 0h1m1 0h2m2 0h8m1 0h5m6 0h3m1 0h2m3 0h14m1 0h9m1 0h6m2 0h2m3 0h11m3 0h4m1 0h2m1 0h4m10 0h2m206 0h2m5 0h2m4 0h2m2 0h1m2 0h1m3 0h3m4 0h2m1 0h2m1 0h4m1 0h6m1 0h3m3 0h10m2 0h16m2 0h2m6 0h2m1 0h4m16 0h2m8 0h2m1 0h2M85 507h1m5 0h2m1 0h1m2 0h12m4 0h2m3 0h7m1 0h4m1 0h2m2 0h2m1 0h2m1 0h11m1 0h3m1 0h2m1 0h2m1 0h4m3 0h2m2 0h2m3 0h1m2 0h2m12 0h2m9 0h2m2 0h2m204 0h1m13 0h5m4 0h3m3 0h4m8 0h1m1 0h2m1 0h5m2 0h8m7 0h7m1 0h4m2 0h1m1 0h2m4 0h2m5 0h5m4 0h4m5 0h2m1 0h2m2 0h4m2 0h4m1 0h2m9 0h2M88 509h2m5 0h7m2 0h5m1 0h7m1 0h4m1 0h2m2 0h5m2 0h5m1 0h3m4 0h1m2 0h2m2 0h3m7 0h9m2 0h2m2 0h2m2 0h2m3 0h2m7 0h2m3 0h2m14 0h2m7 0h2m189 0h2m6 0h5m1 0h7m2 0h12m4 0h13m2 0h7m2 0h6m2 0h7m1 0h2m6 0h4m3 0h3m5 0h2m4 0h2m5 0h2m9 0h2m17 0h2M91 511h1m5 0h1m1 0h4m4 0h2m3 0h1m2 0h2m2 0h15m1 0h11m2 0h2m1 0h2m1 0h2m7 0h2m1 0h2m4 0h6m2 0h2m17 0h1m9 0h2m1 0h2m210 0h5m2 0h5m2 0h3m3 0h8m4 0h14m1 0h2m1 0h16m1 0h6m1 0h1m2 0h1m1 0h3m8 0h3m11 0h2m3 0h2m2 0h2m4 0h4m8 0h2M86 513h6m1 0h2m1 0h4m3 0h7m1 0h5m1 0h4m1 0h5m1 0h2m1 0h12m1 0h10m5 0h2m1 0h2m1 0h3m1 0h3m2 0h6m3 0h3m7 0h4m2 0h2m9 0h2m9 0h2m191 0h2m2 0h2m3 0h3m2 0h3m1 0h7m3 0h6m3 0h7m1 0h10m2 0h4m2 0h2m1 0h11m2 0h7m4 0h2m4 0h2m18 0h2m1 0h2m1 0h2m3 0h5M85 515h6m1 0h1m2 0h7m1 0h10m1 0h2m2 0h6m4 0h3m2 0h15m1 0h3m1 0h2m2 0h4m2 0h4m2 0h4m7 0h5m1 0h6m4 0h2m4 0h2m10 0h2m199 0h2m10 0h2m1 0h4m2 0h6m1 0h2m1 0h6m2 0h9m3 0h2m2 0h6m1 0h4m1 0h2m1 0h2m3 0h6m2 0h1m2 0h6m1 0h7m2 0h2m2 0h1m2 0h3m1 0h9m1 0h3M87 517h2m2 0h6m2 0h22m1 0h1m3 0h2m1 0h3m4 0h2m1 0h5m3 0h2m1 0h3m1 0h4m5 0h2m4 0h2m2 0h2m3 0h3m2 0h5m3 0h2m1 0h3m11 0h6m11 0h2m191 0h1m2 0h3m2 0h3m1 0h3m2 0h1m3 0h9m1 0h6m3 0h9m1 0h13m2 0h3m4 0h18m3 0h2m7 0h2m2 0h9m3 0h4m4 0h3m6 0h1m10 0h2M88 519h3m2 0h1m2 0h2m1 0h2m2 0h21m2 0h2m1 0h5m2 0h4m1 0h3m1 0h10m2 0h4m1 0h3m3 0h4m1 0h2m3 0h4m4 0h2m6 0h2m1 0h2m3 0h2m2 0h2m205 0h3m4 0h2m6 0h2m1 0h13m1 0h8m2 0h12m2 0h8m1 0h9m1 0h7m1 0h12m1 0h3m1 0h9m5 0h2m9 0h1m12 0h2m7 0h2M86 521h2m4 0h3m1 0h2m1 0h10m2 0h7m1 0h11m1 0h3m1 0h4m1 0h3m1 0h18m2 0h8m3 0h7m1 0h1m5 0h4m11 0h2m4 0h2m3 0h2m18 0h2m13 0h1m12 0h2m3 0h2m143 0h2m5 0h2m2 0h7m1 0h5m2 0h11m1 0h3m1 0h5m2 0h2m2 0h25m2 0h1m3 0h2m2 0h1m1 0h8m1 0h2m3 0h2m2 0h2m2 0h2m5 0h1m12 0h4m3 0h3m5 0h2M86 523h10m2 0h7m1 0h10m2 0h9m1 0h15m2 0h10m2 0h2m1 0h4m1 0h3m1 0h2m2 0h2m5 0h5m2 0h8m1 0h3m7 0h3m3 0h2m29 0h2m3 0h2m7 0h1m157 0h2m9 0h3m5 0h6m1 0h3m1 0h4m4 0h25m1 0h14m1 0h2m2 0h16m4 0h2m2 0h1m7 0h4m2 0h2m4 0h4m6 0h4m2 0h3M88 525h2m1 0h5m2 0h8m1 0h11m1 0h9m2 0h1m2 0h2m1 0h10m4 0h2m1 0h13m3 0h6m1 0h5m2 0h3m1 0h3m9 0h3m1 0h2m15 0h2m10 0h2m6 0h2m3 0h2m28 0h2m139 0h3m3 0h1m1 0h1m1 0h3m1 0h3m2 0h5m4 0h5m2 0h2m2 0h24m2 0h1m2 0h5m2 0h21m2 0h6m6 0h1m1 0h2m1 0h2m9 0h1m3 0h2m1 0h1m2 0h1m2 0h4m4 0h2M87 527h1m4 0h4m4 0h44m2 0h5m1 0h10m2 0h6m1 0h10m1 0h3m3 0h11m5 0h3m1 0h2m1 0h1m19 0h3m40 0h2m136 0h1m3 0h1m2 0h3m2 0h9m1 0h2m2 0h3m2 0h14m4 0h4m2 0h12m2 0h2m1 0h8m2 0h3m2 0h7m1 0h2m1 0h3m1 0h4m1 0h4m1 0h2m1 0h1m3 0h6m1 0h1m4 0h2m9 0h4m1 0h2m1 0h2M87 529h6m1 0h21m1 0h4m2 0h5m1 0h8m1 0h3m1 0h14m1 0h36m3 0h6m2 0h3m1 0h2m1 0h2m5 0h5m54 0h2m136 0h1m4 0h3m1 0h1m2 0h6m2 0h3m2 0h1m1 0h1m3 0h8m2 0h4m1 0h2m1 0h3m1 0h19m2 0h3m2 0h15m2 0h4m1 0h8m1 0h3m2 0h1m1 0h3m3 0h1m2 0h1m10 0h2m9 0h1M85 531h2m4 0h12m1 0h16m2 0h42m3 0h1m2 0h7m1 0h3m5 0h7m1 0h4m1 0h2m3 0h4m1 0h1m5 0h2m4 0h2m1 0h5m16 0h2m27 0h2m140 0h6m2 0h4m2 0h8m2 0h1m4 0h14m1 0h6m2 0h5m3 0h16m4 0h3m1 0h2m1 0h13m1 0h2m1 0h3m4 0h6m5 0h4m3 0h2m1 0h2m6 0h2m2 0h1M89 533h2m1 0h7m1 0h7m2 0h3m2 0h6m2 0h24m1 0h10m1 0h22m1 0h2m2 0h5m1 0h7m2 0h4m3 0h2m2 0h2m1 0h2m3 0h5m2 0h4m2 0h3m14 0h2m5 0h2m160 0h2m1 0h2m3 0h2m1 0h2m1 0h7m2 0h3m2 0h7m1 0h35m1 0h4m1 0h22m4 0h3m1 0h3m1 0h1m1 0h6m1 0h2m4 0h2m9 0h1m2 0h6M87 535h5m1 0h7m1 0h87m2 0h2m1 0h8m1 0h5m3 0h4m8 0h3m11 0h4m1 0h2m1 0h2m4 0h1m2 0h2m4 0h2m14 0h2m143 0h2m4 0h3m2 0h1m1 0h4m1 0h8m2 0h7m2 0h6m1 0h4m1 0h27m2 0h3m1 0h6m1 0h2m1 0h12m7 0h5m7 0h2m1 0h2m5 0h4M86 537h4m2 0h17m2 0h6m1 0h7m1 0h6m1 0h18m2 0h4m1 0h22m1 0h2m1 0h14m3 0h2m1 0h2m1 0h4m2 0h1m2 0h4m2 0h8m10 0h2m20 0h2m8 0h3m8 0h2m129 0h4m1 0h3m3 0h3m1 0h2m1 0h8m3 0h62m3 0h4m1 0h5m2 0h7m1 0h7m4 0h2m3 0h2m2 0h12M88 539h4m2 0h6m5 0h10m2 0h7m2 0h3m1 0h54m2 0h7m4 0h4m2 0h8m2 0h2m4 0h2m1 0h2m4 0h2m3 0h2m1 0h4m16 0h2m6 0h1m148 0h1m2 0h2m1 0h3m2 0h4m2 0h15m2 0h9m1 0h8m1 0h52m1 0h3m4 0h2m1 0h2m2 0h1m4 0h1m2 0h1m2 0h6m5 0h1m8 0h2M86 541h8m2 0h3m1 0h2m2 0h8m2 0h1m2 0h15m2 0h52m1 0h2m2 0h3m2 0h13m1 0h2m3 0h5m1 0h2m1 0h4m4 0h1m20 0h2m1 0h2m15 0h2m144 0h2m2 0h1m1 0h4m3 0h4m2 0h7m1 0h10m2 0h26m1 0h3m1 0h23m3 0h6m1 0h4m1 0h4m2 0h1m7 0h5m2 0h3m2 0h2m4 0h2m1 0h2M85 543h1m1 0h2m6 0h32m2 0h43m1 0h2m2 0h13m1 0h18m12 0h3m4 0h8m7 0h1m167 0h5m4 0h1m2 0h1m1 0h5m1 0h11m3 0h22m2 0h12m1 0h1m3 0h9m2 0h9m2 0h3m3 0h11m1 0h8m8 0h4m12 0h1m2 0h3M89 545h9m2 0h10m1 0h32m2 0h12m4 0h8m2 0h2m2 0h7m2 0h22m1 0h13m2 0h4m1 0h3m3 0h1m4 0h1m2 0h2m4 0h4m10 0h5m3 0h3m140 0h1m4 0h2m2 0h1m5 0h2m1 0h2m1 0h1m2 0h4m4 0h8m1 0h4m2 0h6m1 0h2m2 0h3m2 0h13m2 0h24m3 0h12m1 0h2m4 0h3m2 0h4m2 0h2m2 0h1m6 0h2M87 547h3m2 0h2m1 0h47m2 0h46m2 0h6m2 0h6m1 0h4m1 0h6m4 0h1m2 0h7m1 0h1m3 0h6m2 0h2m3 0h2m13 0h2m1 0h2m139 0h3m6 0h4m6 0h1m2 0h6m1 0h2m2 0h4m1 0h3m2 0h52m2 0h8m2 0h4m2 0h10m2 0h1m2 0h8m1 0h3m3 0h3m9 0h2M85 549h8m1 0h12m2 0h8m1 0h25m2 0h45m3 0h5m1 0h11m1 0h8m2 0h5m19 0h3m1 0h3m3 0h2m9 0h2m1 0h1m4 0h3m1 0h2m133 0h2m4 0h4m1 0h3m3 0h3m3 0h47m1 0h5m1 0h10m1 0h1m2 0h6m1 0h5m2 0h3m1 0h9m3 0h1m2 0h5m5 0h3M85 551h2m2 0h4m1 0h69m1 0h18m2 0h6m1 0h12m2 0h2m2 0h3m2 0h4m2 0h2m1 0h2m6 0h3m1 0h2m4 0h2m5 0h6m1 0h2m3 0h1m151 0h1m4 0h6m3 0h8m1 0h13m2 0h20m1 0h23m1 0h5m1 0h17m4 0h6m2 0h10m3 0h2m2 0h2m1 0h2m6 0h2M84 553h2m2 0h3m1 0h1m2 0h1m1 0h35m2 0h24m1 0h6m2 0h20m2 0h11m1 0h6m4 0h2m7 0h2m1 0h3m3 0h1m1 0h7m9 0h2m1 0h2m2 0h4m4 0h2m2 0h2m3 0h2m1 0h2m1 0h2m134 0h1m6 0h1m14 0h5m1 0h10m2 0h1m6 0h2m2 0h2m2 0h3m3 0h8m4 0h1m2 0h2m3 0h3m2 0h3m13 0h2m2 0h1m5 0h2m11 0h2m8 0h2m3 0h4m3 0h3M88 555h39m2 0h9m2 0h67m2 0h3m2 0h11m1 0h3m2 0h4m4 0h6m8 0h2m8 0h3m17 0h2m151 0h2M86 557h2m1 0h8m1 0h31m2 0h42m1 0h18m1 0h24m1 0h5m3 0h4m2 0h5m3 0h2m2 0h4m1 0h2m7 0h1m3 0h2m13 0h3m2 0h2M85 559h5m1 0h4m2 0h29m1 0h9m1 0h66m3 0h7m2 0h2m1 0h5m2 0h5m2 0h2m3 0h1m11 0h8m4 0h4m1 0h2m1 0h2m3 0h2m6 0h1M84 561h3m3 0h3m2 0h25m2 0h10m1 0h9m1 0h13m3 0h3m2 0h33m2 0h6m4 0h8m2 0h3m3 0h4m2 0h2m21 0h1m23 0h2M88 563h2m5 0h3m4 0h2m5 0h2m1 0h4m5 0h2m1 0h3m10 0h4m1 0h2m1 0h2m1 0h2m12 0h2m4 0h2m1 0h4m2 0h4m3 0h3m12 0h2m15 0h2m1 0h2m34 0h2m22 0h2M100 565h2M119 689h2M440 695h2M131 699h2m317 0h2M119 701h2m34 0h2M164 703h2M132 705h2m44 0h2m250 0h2m8 0h2m33 0h2M116 707h4m19 0h2m288 0h2m1 0h3m24 0h2M115 709h2m316 0h2M429 711h2m2 0h4M117 717h2m311 0h2m2 0h2m24 0h2m9 0h2M430 719h2M116 721h2M440 723h2m35 0h2M160 725h2m46 0h2m217 0h2M117 727h2m70 0h2M116 729h2m297 0h2m10 0h2m39 0h2M101 731h2m13 0h2m65 0h2m241 0h2m6 0h2m22 0h2m14 0h2m1 0h2m23 0h2M145 733h2m6 0h2M115 735h2m11 0h2m20 0h2m8 0h2m2 0h2m25 0h2m238 0h2M98 737h2m42 0h2m41 0h2m245 0h1m3 0h2m11 0h5m22 0h2M130 739h2m3 0h2m3 0h2m12 0h2m22 0h2m19 0h2m247 0h2m4 0h2m11 0h2M109 741h2m4 0h2m2 0h2m57 0h2m289 0h2M122 743h2m6 0h2m16 0h2m12 0h2m25 0h2m241 0h2m2 0h2m4 0h2m1 0h2m10 0h2m15 0h2m22 0h2M113 745h2m317 0h2m104 0h2M114 747h3m8 0h2m9 0h2m14 0h2m59 0h2m201 0h2m4 0h2m30 0h2m7 0h2m2 0h2m7 0h2m70 0h2M116 749h2m2 0h2m13 0h2m2 0h2m9 0h2m76 0h2m204 0h2m13 0h2m4 0h2m19 0h2m30 0h2M111 751h1m52 0h2m25 0h2m238 0h4m6 0h2m37 0h2m8 0h2M159 753h2m14 0h2m291 0h2m9 0h2m25 0h2M116 755h2m6 0h3m322 0h2m12 0h2m5 0h2m15 0h2m17 0h4M118 757h3m47 0h2m34 0h2m31 0h2m189 0h2m8 0h2m35 0h2m9 0h2m5 0h2M165 759h2m43 0h2m202 0h2m17 0h2m34 0h2m7 0h2m9 0h2m3 0h2M135 761h1m1 0h2m12 0h2m3 0h2m20 0h2m8 0h2m245 0h2m22 0h2m4 0h2m12 0h3M124 763h2m23 0h6m22 0h2m5 0h2m237 0h2m29 0h2m8 0h2m8 0h3m2 0h2M112 765h2m5 0h2m5 0h2m14 0h2m35 0h2m24 0h2m4 0h2m203 0h2m29 0h2m2 0h1m5 0h2m25 0h2m3 0h2m18 0h2M106 767h2m1 0h2m10 0h2m4 0h2m5 0h2m1 0h2m17 0h4m56 0h2m6 0h2m221 0h2m22 0h2m2 0h5m15 0h2m20 0h2M129 769h3m17 0h2m3 0h2m11 0h2m20 0h2m238 0h2m7 0h2m2 0h2m11 0h2m4 0h2m5 0h2m5 0h2m11 0h2M134 771h4m6 0h3m2 0h4m1 0h2m2 0h2m17 0h2m19 0h2m5 0h2m220 0h3m2 0h2m20 0h2m4 0h2m2 0h1m10 0h2m1 0h2m74 0h2M118 773h1m22 0h2m8 0h2m11 0h5m4 0h2m33 0h2m222 0h1m7 0h6m10 0h2m1 0h3m5 0h2m3 0h2m6 0h2m28 0h2M116 775h4m20 0h2m14 0h4m14 0h2m2 0h2m32 0h2m204 0h1m13 0h2m23 0h3m2 0h5m16 0h2m9 0h2m24 0h2M110 777h2m10 0h2m3 0h2m8 0h1m12 0h2m14 0h3m42 0h2m202 0h1m16 0h4m7 0h2m2 0h2m10 0h2m5 0h2m4 0h2m17 0h2M103 779h2m9 0h2m10 0h4m8 0h2m2 0h2m8 0h2m15 0h2m10 0h2m235 0h2m5 0h2m3 0h2m18 0h2m3 0h2m3 0h1m8 0h2m3 0h3m9 0h2m3 0h4m8 0h2M97 781h2m7 0h2m13 0h1m25 0h2m2 0h2m23 0h2m28 0h2m228 0h2m2 0h2m3 0h2m1 0h4m7 0h3m3 0h6m28 0h2m17 0h2m16 0h2M104 783h1m3 0h3m11 0h2m42 0h2m3 0h3m5 0h2m23 0h2m228 0h4m1 0h2m10 0h2m9 0h2m1 0h2m1 0h2m7 0h2m1 0h2M95 785h3m34 0h2m1 0h2m3 0h1m43 0h2m2 0h3m1 0h2m236 0h2m6 0h4m7 0h2m3 0h2m17 0h2m2 0h2m17 0h2m5 0h2m11 0h2m16 0h2M107 787h2m1 0h2m5 0h2m8 0h2m4 0h2m10 0h2m8 0h1m2 0h1m20 0h2m12 0h2m5 0h2m44 0h2m173 0h1m1 0h2m3 0h2m1 0h2m10 0h4m2 0h2m4 0h2m7 0h2m1 0h4m2 0h2m8 0h2m6 0h2m44 0h2m12 0h2M121 789h2m7 0h2m8 0h4m3 0h4m9 0h5m1 0h2m32 0h2m3 0h2m14 0h2m206 0h2m22 0h4m5 0h2m3 0h2m3 0h2m17 0h3m12 0h2m2 0h4M122 791h1m2 0h2m8 0h2m7 0h7m1 0h2m3 0h2m3 0h2m1 0h2m10 0h2m15 0h2m24 0h2m19 0h2m177 0h2m1 0h2m2 0h5m12 0h2m14 0h2m3 0h1m17 0h2m1 0h2m2 0h2m4 0h3m2 0h2m7 0h2M120 793h2m4 0h3m3 0h3m7 0h2m16 0h2m6 0h2m2 0h2m5 0h2m39 0h2m209 0h1m2 0h3m2 0h2m15 0h1m6 0h2m4 0h4m1 0h2m7 0h4m14 0h3m22 0h2m21 0h2M112 795h1m7 0h1m2 0h4m13 0h2m2 0h2m1 0h2m1 0h2m2 0h2m11 0h2m5 0h3m4 0h4m2 0h2m27 0h2m12 0h2m4 0h2m4 0h2m166 0h1m23 0h4m2 0h3m8 0h2m1 0h3m2 0h3m2 0h3m3 0h2m2 0h2m1 0h6m2 0h2m2 0h2m6 0h2m2 0h2m7 0h2m20 0h2m5 0h2m3 0h2M111 797h1m2 0h4m1 0h2m3 0h3m5 0h1m8 0h2m2 0h1m3 0h2m6 0h2m4 0h3m19 0h2m5 0h2m37 0h2m183 0h2m8 0h2m1 0h3m1 0h6m3 0h3m2 0h2m17 0h7m3 0h6m5 0h2m9 0h3m4 0h2m18 0h2m21 0h2M115 799h1m2 0h5m9 0h8m3 0h2m2 0h2m1 0h2m5 0h6m4 0h2m1 0h3m5 0h2m6 0h2m4 0h1m2 0h2m2 0h2m2 0h2m13 0h2m13 0h2m185 0h2m5 0h1m8 0h4m2 0h7m3 0h2m4 0h1m2 0h2m1 0h4m1 0h2m1 0h5m15 0h4m13 0h4m10 0h2m12 0h2m2 0h2M113 801h2m6 0h1m4 0h2m6 0h3m4 0h2m3 0h3m1 0h2m7 0h5m3 0h2m1 0h4m14 0h2m12 0h2m4 0h2m205 0h2m4 0h2m4 0h2m3 0h2m1 0h2m4 0h4m3 0h2m5 0h1m2 0h2m5 0h2m4 0h3m20 0h4m2 0h3m1 0h2m3 0h1m7 0h1M104 803h2m3 0h1m11 0h3m2 0h4m7 0h3m1 0h2m6 0h2m9 0h2m2 0h3m3 0h6m4 0h1m3 0h2m11 0h2m8 0h2m11 0h2m2 0h2m183 0h2m15 0h2m5 0h5m3 0h2m9 0h2m1 0h1m2 0h2m1 0h7m3 0h3m2 0h3m1 0h4m4 0h4m4 0h2m2 0h2m7 0h2m8 0h1M113 805h2m4 0h4m6 0h4m4 0h2m6 0h2m13 0h2m4 0h3m4 0h2m4 0h4m10 0h2m6 0h1m31 0h2m2 0h2m179 0h2m5 0h2m2 0h2m2 0h2m4 0h2m4 0h2m2 0h4m1 0h3m4 0h7m1 0h4m3 0h2m5 0h8m1 0h2m16 0h2m3 0h6m4 0h2m16 0h2M103 807h4m16 0h4m2 0h3m4 0h6m2 0h2m6 0h3m1 0h2m2 0h2m2 0h2m1 0h2m5 0h3m6 0h1m6 0h4m31 0h2m14 0h2m181 0h2m1 0h3m1 0h7m4 0h3m5 0h2m2 0h1m2 0h2m1 0h4m5 0h1m2 0h1m4 0h3m7 0h8m4 0h2m11 0h2m22 0h4M111 809h2m5 0h3m2 0h11m14 0h4m3 0h5m6 0h2m6 0h2m10 0h2m1 0h2m1 0h5m3 0h2m207 0h2m2 0h2m6 0h2m3 0h3m4 0h4m4 0h2m2 0h2m5 0h2m1 0h2m3 0h4m2 0h2m4 0h6m1 0h2m5 0h2m1 0h4m2 0h4m17 0h2m5 0h2m11 0h2M104 811h2m2 0h2m7 0h7m3 0h2m1 0h2m4 0h3m2 0h5m1 0h5m1 0h2m1 0h5m5 0h2m6 0h2m1 0h2m6 0h2m2 0h2m13 0h2m4 0h2m19 0h2m9 0h2m178 0h2m1 0h2m2 0h6m5 0h3m1 0h2m1 0h3m2 0h3m3 0h7m2 0h3m2 0h2m1 0h5m7 0h4m2 0h5m2 0h2m5 0h2m7 0h2m2 0h2m2 0h2m3 0h2m13 0h2m2 0h2M114 813h3m2 0h3m6 0h5m5 0h3m2 0h2m8 0h6m1 0h3m1 0h4m3 0h2m2 0h2m3 0h2m1 0h2m4 0h2m1 0h2m5 0h1m3 0h2m18 0h2m13 0h2m170 0h2m4 0h2m10 0h1m2 0h1m5 0h4m6 0h2m2 0h4m3 0h9m2 0h2m1 0h8m2 0h11m9 0h4m15 0h2m9 0h3M93 815h2m5 0h4m11 0h9m2 0h2m3 0h2m1 0h3m1 0h5m1 0h9m3 0h4m3 0h8m3 0h2m2 0h2m1 0h2m6 0h1m2 0h1m4 0h2m5 0h2m11 0h2m8 0h2m190 0h2m3 0h2m3 0h3m1 0h2m1 0h8m1 0h6m5 0h2m1 0h2m4 0h6m2 0h1m1 0h2m4 0h2m4 0h2m1 0h6m1 0h2m2 0h4m1 0h2m2 0h5m7 0h1m33 0h2M111 817h1m2 0h2m2 0h2m1 0h5m3 0h4m3 0h3m1 0h5m2 0h2m2 0h4m1 0h6m1 0h2m3 0h2m11 0h2m4 0h2m6 0h4m3 0h2m2 0h2m5 0h2m11 0h2m182 0h1m15 0h2m3 0h1m2 0h6m2 0h9m2 0h6m1 0h10m2 0h2m1 0h2m5 0h2m1 0h2m2 0h2m3 0h2m2 0h2m5 0h3m1 0h3m10 0h2m2 0h2m2 0h2m4 0h2m5 0h2m1 0h2M103 819h1m4 0h2m4 0h2m5 0h2m2 0h2m2 0h3m3 0h2m2 0h2m1 0h4m2 0h2m1 0h4m2 0h3m5 0h2m9 0h3m1 0h3m3 0h6m3 0h2m1 0h3m3 0h2m4 0h4m2 0h2m3 0h3m205 0h4m4 0h1m5 0h1m2 0h6m2 0h2m3 0h4m1 0h4m2 0h3m1 0h9m6 0h6m3 0h2m7 0h2m6 0h2m3 0h5m6 0h2m2 0h2m1 0h2m3 0h2M101 821h4m2 0h2m4 0h2m1 0h4m3 0h2m1 0h4m4 0h1m5 0h3m1 0h4m1 0h3m4 0h5m1 0h13m2 0h2m5 0h2m4 0h3m22 0h2m7 0h2m4 0h2m185 0h1m3 0h2m1 0h5m1 0h4m3 0h9m1 0h2m2 0h9m1 0h2m2 0h20m4 0h2m5 0h8m3 0h2m9 0h2m1 0h5m2 0h2m9 0h2m1 0h3m4 0h2M100 823h2m12 0h1m3 0h4m7 0h10m1 0h9m1 0h3m1 0h5m2 0h11m7 0h2m3 0h3m2 0h2m9 0h5m17 0h4m20 0h2m166 0h2m4 0h2m5 0h2m2 0h3m2 0h2m2 0h3m8 0h7m1 0h2m3 0h3m2 0h1m4 0h12m4 0h3m3 0h1m5 0h6m10 0h1m1 0h2m4 0h2m2 0h2m2 0h2m9 0h2m6 0h2M98 825h2m5 0h2m12 0h2m1 0h3m2 0h3m2 0h16m2 0h8m2 0h2m2 0h2m2 0h3m2 0h2m2 0h5m1 0h3m1 0h2m7 0h2m4 0h2m11 0h4m12 0h2m3 0h3m175 0h2m2 0h2m8 0h3m2 0h1m1 0h5m1 0h5m1 0h3m1 0h29m1 0h6m1 0h5m1 0h7m1 0h2m1 0h4m2 0h2m1 0h3m4 0h2m20 0h3m3 0h2M99 827h1m5 0h2m5 0h10m1 0h5m3 0h9m2 0h5m4 0h7m2 0h1m3 0h5m3 0h5m1 0h3m2 0h2m2 0h2m3 0h4m4 0h2m14 0h2m3 0h2m9 0h2m10 0h2m173 0h2m1 0h3m3 0h2m3 0h13m1 0h3m1 0h7m2 0h4m3 0h11m1 0h6m1 0h9m4 0h9m1 0h6m1 0h4m3 0h2m1 0h2m2 0h3m3 0h2m12 0h3M102 829h2m2 0h1m12 0h3m2 0h11m1 0h4m2 0h6m1 0h2m2 0h2m1 0h4m1 0h11m2 0h1m2 0h5m3 0h4m1 0h1m4 0h3m5 0h2m5 0h2m3 0h2m6 0h2m196 0h1m2 0h5m2 0h1m2 0h1m4 0h1m4 0h10m1 0h10m3 0h15m1 0h6m6 0h2m1 0h3m6 0h2m2 0h4m1 0h2m1 0h2m4 0h2m18 0h2m4 0h2m1 0h2M103 831h2m1 0h2m4 0h2m1 0h3m2 0h5m1 0h2m1 0h2m3 0h5m1 0h1m1 0h2m1 0h5m2 0h4m1 0h11m1 0h5m6 0h4m1 0h2m3 0h3m19 0h6m2 0h2m3 0h4m4 0h2m2 0h2m187 0h1m3 0h4m6 0h7m1 0h14m1 0h8m2 0h1m2 0h6m2 0h20m2 0h3m1 0h3m3 0h2m5 0h7M102 833h1m2 0h1m5 0h2m2 0h1m1 0h3m1 0h1m1 0h2m6 0h5m1 0h7m4 0h2m2 0h20m1 0h2m4 0h3m2 0h2m6 0h2m2 0h1m3 0h2m2 0h1m2 0h1m35 0h2m1 0h2m160 0h2m5 0h2m4 0h2m1 0h2m1 0h2m1 0h8m1 0h7m1 0h4m1 0h5m4 0h1m2 0h9m2 0h16m2 0h2m2 0h2m1 0h5m4 0h4m5 0h2m2 0h1m5 0h2m1 0h4m6 0h1m3 0h2M99 835h3m8 0h2m1 0h3m6 0h3m3 0h16m2 0h9m1 0h4m1 0h2m4 0h11m4 0h1m2 0h2m7 0h2m6 0h2m6 0h2m12 0h2m2 0h1m3 0h3m6 0h3m171 0h4m1 0h4m5 0h1m2 0h4m2 0h10m1 0h1m2 0h2m2 0h1m1 0h2m1 0h8m2 0h20m2 0h3m6 0h6m1 0h2m1 0h5m1 0h3m2 0h3m3 0h1m3 0h2m3 0h2m1 0h3m7 0h1m6 0h4M102 837h2m2 0h2m3 0h6m9 0h5m2 0h7m1 0h4m1 0h11m3 0h20m3 0h1m2 0h8m1 0h2m8 0h5m5 0h2m1 0h2m9 0h5m9 0h2m164 0h2m5 0h4m1 0h2m1 0h7m4 0h3m4 0h11m2 0h15m1 0h11m3 0h2m1 0h5m4 0h8m3 0h3m2 0h2m2 0h4m1 0h4m4 0h2m13 0h1m10 0h2M101 839h1m3 0h3m2 0h3m1 0h3m1 0h1m2 0h15m2 0h14m1 0h11m1 0h17m3 0h5m1 0h2m1 0h2m8 0h2m4 0h2m4 0h7m3 0h2m7 0h1m2 0h2m1 0h2m169 0h1m4 0h1m2 0h5m2 0h7m3 0h2m3 0h6m2 0h3m2 0h12m1 0h4m1 0h3m3 0h5m2 0h4m5 0h4m2 0h3m4 0h2m1 0h3m3 0h1m6 0h4m3 0h2m2 0h1m1 0h1m6 0h1m1 0h4m8 0h2M97 841h3m9 0h6m2 0h13m1 0h46m2 0h9m1 0h3m1 0h2m2 0h2m3 0h1m5 0h4m9 0h2m1 0h2m14 0h2m166 0h1m3 0h2m3 0h2m4 0h11m2 0h2m4 0h18m4 0h11m2 0h18m1 0h2m2 0h4m1 0h2m1 0h3m1 0h2m6 0h7m3 0h2m7 0h2m1 0h3m13 0h1M95 843h2m4 0h7m5 0h3m2 0h5m2 0h2m2 0h3m2 0h8m1 0h3m1 0h29m4 0h4m2 0h2m2 0h12m6 0h1m2 0h2m19 0h2m1 0h2m172 0h1m3 0h4m2 0h2m4 0h4m2 0h1m3 0h6m1 0h7m1 0h3m2 0h8m1 0h28m1 0h5m1 0h12m1 0h3m2 0h2m3 0h4m5 0h2m2 0h2m3 0h1m3 0h2m5 0h3M92 845h4m4 0h3m2 0h1m2 0h2m4 0h12m1 0h2m1 0h3m2 0h2m1 0h14m2 0h7m2 0h2m1 0h5m1 0h8m2 0h4m1 0h3m1 0h2m1 0h2m1 0h2m2 0h3m4 0h2m1 0h3m2 0h4m15 0h1m4 0h2m174 0h3m1 0h7m2 0h11m2 0h6m2 0h19m1 0h2m2 0h21m4 0h2m2 0h4m1 0h1m2 0h3m3 0h5m2 0h6m5 0h2m7 0h2m1 0h2M99 847h3m2 0h4m6 0h1m2 0h5m2 0h2m2 0h6m2 0h1m2 0h4m1 0h18m4 0h4m1 0h6m1 0h7m3 0h3m3 0h3m2 0h6m2 0h2m4 0h2m3 0h2m7 0h2m2 0h2m11 0h3m166 0h1m4 0h4m2 0h16m2 0h21m1 0h36m3 0h9m1 0h6m3 0h3m4 0h1m3 0h1m2 0h2m5 0h2m1 0h3m1 0h3m6 0h2m1 0h2M96 849h2m7 0h2m2 0h1m2 0h1m4 0h1m2 0h6m1 0h48m2 0h4m3 0h2m1 0h6m1 0h3m7 0h3m1 0h5m1 0h3m4 0h4m8 0h7m3 0h3m162 0h2m7 0h2m1 0h7m3 0h17m2 0h4m1 0h44m1 0h2m2 0h2m1 0h2m2 0h5m3 0h2m2 0h2m4 0h1m1 0h6m3 0h1m4 0h2m2 0h4m3 0h4M101 851h2m1 0h1m2 0h3m1 0h5m3 0h7m3 0h1m2 0h2m1 0h3m1 0h13m2 0h20m1 0h3m1 0h4m1 0h1m3 0h3m1 0h2m1 0h4m2 0h6m5 0h7m10 0h4m178 0h1m2 0h2m2 0h3m4 0h1m2 0h2m4 0h13m1 0h2m1 0h3m1 0h3m2 0h20m1 0h5m4 0h10m2 0h2m1 0h4m3 0h2m2 0h5m2 0h2m10 0h5m6 0h3M99 853h22m1 0h2m1 0h23m2 0h12m1 0h5m1 0h14m3 0h7m2 0h1m1 0h7m4 0h3m2 0h7m1 0h4m18 0h1m164 0h3m2 0h1m5 0h6m1 0h2m2 0h2m1 0h7m1 0h14m2 0h2m2 0h25m2 0h3m1 0h14m1 0h2m1 0h3m2 0h6m2 0h1m2 0h4m2 0h4m9 0h2m2 0h7m1 0h4M97 855h2m1 0h3m7 0h2m1 0h5m1 0h12m3 0h11m2 0h2m1 0h5m2 0h8m1 0h11m1 0h13m2 0h2m1 0h2m1 0h2m1 0h4m2 0h1m1 0h11m3 0h1m6 0h3m1 0h2m6 0h3m163 0h1m3 0h1m5 0h2m3 0h3m3 0h2m1 0h1m2 0h3m3 0h17m1 0h13m2 0h23m1 0h2m2 0h10m1 0h3m2 0h3m2 0h2m6 0h3m1 0h5m4 0h2m8 0h3M98 857h1m5 0h11m4 0h9m1 0h15m1 0h8m1 0h6m1 0h4m2 0h11m1 0h12m1 0h8m4 0h4m3 0h4m6 0h9m2 0h2m3 0h2m1 0h5m169 0h3m4 0h1m4 0h12m1 0h2m3 0h4m1 0h9m2 0h2m2 0h8m2 0h27m1 0h4m2 0h6m3 0h9m1 0h6m1 0h1m2 0h3m12 0h4m2 0h3M98 859h2m3 0h4m6 0h6m2 0h1m1 0h2m2 0h1m2 0h1m1 0h8m1 0h9m1 0h11m1 0h6m1 0h8m1 0h2m1 0h5m1 0h4m1 0h8m1 0h4m5 0h3m3 0h2m1 0h4m2 0h2m1 0h3m2 0h3m3 0h1m173 0h3m4 0h1m2 0h1m2 0h3m2 0h1m2 0h15m1 0h30m1 0h21m2 0h2m2 0h5m1 0h6m4 0h1m2 0h2m1 0h3m1 0h5m3 0h2m1 0h2m4 0h3M95 861h3m2 0h2m2 0h3m2 0h2m3 0h3m5 0h10m2 0h1m1 0h8m2 0h4m1 0h17m1 0h19m2 0h3m5 0h3m2 0h2m2 0h5m4 0h2m3 0h5m3 0h2m1 0h3m3 0h2m3 0h4m164 0h1m2 0h2m3 0h14m3 0h5m1 0h9m1 0h3m2 0h11m2 0h2m2 0h2m3 0h36m2 0h1m1 0h1m3 0h2m2 0h7m1 0h2m3 0h1m1 0h2m2 0h2m3 0h2m2 0h3M95 863h2m3 0h9m1 0h3m7 0h9m3 0h3m1 0h12m4 0h13m2 0h14m1 0h3m2 0h24m1 0h6m1 0h5m5 0h1m3 0h2m1 0h2m1 0h1m2 0h2m3 0h2m169 0h2m8 0h13m1 0h7m1 0h16m2 0h11m1 0h5m3 0h1m3 0h3m3 0h6m1 0h11m1 0h2m2 0h2m4 0h4m2 0h1m5 0h4m6 0h1m2 0h1m5 0h1M103 865h2m2 0h5m1 0h5m2 0h10m2 0h1m2 0h8m1 0h3m1 0h12m1 0h14m1 0h14m3 0h7m1 0h3m1 0h2m1 0h2m1 0h3m2 0h2m1 0h1m3 0h1m3 0h4m8 0h2m166 0h1m2 0h3m5 0h4m1 0h1m2 0h1m2 0h2m2 0h12m2 0h26m2 0h20m2 0h4m2 0h5m1 0h3m1 0h1m1 0h5m1 0h5m1 0h3m1 0h1m5 0h3m3 0h2m1 0h1m1 0h4m1 0h2m3 0h3M93 867h5m3 0h1m9 0h1m2 0h16m3 0h12m3 0h6m2 0h35m1 0h2m2 0h5m2 0h6m3 0h1m2 0h2m1 0h6m2 0h9m2 0h1m3 0h3m1 0h1m1 0h3m156 0h1m10 0h1m2 0h2m2 0h7m3 0h4m3 0h9m2 0h1m3 0h2m1 0h6m2 0h14m1 0h28m6 0h6m3 0h5m3 0h9m1 0h2m2 0h1m4 0h9M95 869h4m2 0h2m3 0h5m1 0h13m1 0h1m3 0h7m2 0h33m1 0h4m2 0h12m1 0h7m1 0h3m2 0h1m2 0h7m4 0h1m1 0h2m5 0h9m1 0h3m1 0h4m1 0h2m160 0h3m1 0h1m2 0h3m2 0h7m2 0h4m2 0h6m4 0h3m5 0h1m3 0h5m2 0h2m2 0h24m1 0h4m2 0h4m2 0h9m2 0h3m3 0h1m4 0h2m1 0h6m1 0h9m4 0h1m2 0h2M95 871h2m1 0h1m4 0h5m1 0h2m2 0h33m3 0h6m2 0h11m1 0h18m2 0h7m2 0h7m1 0h1m2 0h5m4 0h6m2 0h3m4 0h2m3 0h6m1 0h3m170 0h5m2 0h3m1 0h3m2 0h2m2 0h1m1 0h5m2 0h9m2 0h3m2 0h24m3 0h2m1 0h16m1 0h4m1 0h9m2 0h3m2 0h1m2 0h2m2 0h1m2 0h2m4 0h1m2 0h4m5 0h2M97 873h13m1 0h2m2 0h22m2 0h6m2 0h2m2 0h8m4 0h5m2 0h9m3 0h13m2 0h1m2 0h4m1 0h6m3 0h2m1 0h4m4 0h1m3 0h1m2 0h5m3 0h1m2 0h1m168 0h2m7 0h2m1 0h1m1 0h3m3 0h1m1 0h7m3 0h10m2 0h3m1 0h8m1 0h13m4 0h8m3 0h11m1 0h6m6 0h2m7 0h2m4 0h2m4 0h2m5 0h2m1 0h2M104 875h1m3 0h5m1 0h10m1 0h2m3 0h5m2 0h4m2 0h4m1 0h2m3 0h1m1 0h3m1 0h13m1 0h2m1 0h10m3 0h4m1 0h4m1 0h5m5 0h1m2 0h2m1 0h3m2 0h2m25 0h2m179 0h4m3 0h2m3 0h2m2 0h2m1 0h2m14 0h6M113 877h2m8 0h2m2 0h2m15 0h2m5 0h2m2 0h2m2 0h5m2 0h4m5 0h3m1 0h2m6 0h2m13 0h2" stroke="#ff0000" stroke-width="2" fill="none"/>
<path d="M101 65h2m12 0h2M88 69h2m26 0h2m253 0h2m3 0h1M127 71h2M82 73h2m2 0h2m28 0h2m2 0h2M88 75h2m6 0h2m11 0h2m9 0h2M87 77h2m27 0h2m6 0h2m249 0h2M82 79h2m5 0h2m16 0h4m8 0h2m10 0h2m7 0h3m8 0h2m240 0h2m2 0h2M83 81h4m4 0h3m18 0h2m2 0h1m14 0h2m7 0h4m6 0h2m8 0h2m227 0h4M83 83h4m4 0h2m18 0h2m265 0h2M91 85h2m18 0h2m35 0h2m219 0h3m20 0h2m11 0h2M79 87h2m4 0h2m1 0h2m16 0h2m16 0h2m11 0h3m227 0h2m24 0h2M84 89h2m2 0h2m8 0h3m1 0h2m6 0h2m2 0h2m13 0h2m23 0h2M89 91h2m19 0h2m4 0h3m19 0h2m25 0h2m8 0h2m199 0h6m32 0h2M80 93h2m5 0h3m8 0h2m11 0h2m28 0h2m36 0h2m197 0h2m18 0h2M86 95h2m24 0h2m21 0h2m13 0h2m22 0h1m247 0h2M84 97h4m27 0h2m4 0h3m14 0h2m291 0h2m14 0h2M83 99h2m2 0h2m8 0h3m27 0h2m20 0h2m6 0h2m2 0h2m23 0h2m188 0h2m10 0h2M86 101h2m4 0h2m17 0h2m19 0h2m49 0h2m184 0h2m40 0h3m52 0h2M87 103h2m11 0h2m34 0h2m26 0h2m4 0h2m194 0h2m12 0h2m17 0h2m26 0h2M83 105h2m5 0h2m8 0h2m14 0h2m254 0h2m3 0h2m12 0h2m39 0h2m7 0h2m2 0h2m21 0h2M88 107h2m12 0h2m7 0h1m73 0h2m188 0h2m1 0h2m36 0h2m19 0h2m30 0h2M84 109h2m6 0h2m16 0h2m31 0h2m13 0h2m7 0h2m23 0h2m178 0h3m3 0h3m39 0h2m30 0h2m30 0h2M91 111h2m8 0h2m1 0h2m2 0h2m18 0h2m15 0h5m239 0h2m82 0h2M81 113h4m10 0h2m6 0h2m5 0h2m45 0h2m218 0h2m116 0h2M88 115h2m2 0h2m1 0h2m23 0h2m29 0h2m16 0h2m200 0h2m19 0h2m75 0h2M78 117h2m4 0h2m16 0h4m9 0h2m15 0h3m11 0h2m20 0h2m208 0h2m73 0h2m19 0h2M81 119h2m2 0h4m5 0h2m14 0h2m2 0h2m14 0h2m12 0h2m25 0h2m3 0h2m195 0h2m7 0h2m5 0h3m5 0h2m63 0h2m12 0h2M81 121h5m4 0h2m7 0h2m7 0h2m5 0h2m12 0h2m4 0h2m22 0h2m14 0h4m191 0h2m1 0h2m6 0h2m13 0h1m34 0h2m20 0h2m14 0h2m2 0h2M87 123h3m2 0h2m7 0h4m34 0h2m15 0h2m19 0h2m206 0h3m9 0h2m7 0h2m27 0h2m53 0h2m13 0h2m2 0h2M82 125h2m2 0h2m3 0h2m9 0h2m15 0h2m6 0h2m11 0h2m3 0h2m6 0h2m10 0h2m10 0h2m5 0h2m179 0h4m46 0h2m57 0h2M89 127h2m9 0h2m6 0h1m89 0h2m170 0h2m3 0h2m2 0h2m86 0h2m4 0h2m13 0h4M86 129h2m12 0h2m10 0h2m8 0h2m2 0h2m3 0h2m40 0h2m4 0h2m189 0h2m1 0h6m13 0h2m21 0h2m94 0h2M80 131h2m5 0h4m6 0h2m7 0h4m2 0h2m13 0h2m3 0h2m3 0h2m3 0h2m5 0h2m19 0h2m3 0h3m11 0h3m173 0h2m5 0h2m60 0h2m46 0h2m13 0h2M83 133h2m1 0h5m2 0h2m1 0h2m6 0h2m73 0h2m11 0h2m175 0h2m5 0h2m5 0h2m30 0h3m61 0h2m6 0h2M80 135h2m1 0h2m15 0h2m1 0h2m2 0h2m2 0h2m13 0h2m5 0h2m54 0h2m178 0h2m8 0h2m4 0h1m76 0h1m14 0h2M82 137h3m4 0h1m2 0h3m8 0h2m28 0h2m6 0h2m4 0h2m62 0h2m165 0h2m12 0h2m7 0h2m35 0h2m36 0h2m19 0h2M79 139h2m4 0h2m33 0h2m11 0h2m5 0h2m15 0h2m18 0h2m25 0h2m163 0h4m2 0h2m15 0h2m7 0h2m23 0h2m14 0h3M83 141h4m8 0h2m11 0h3m3 0h1m31 0h1m45 0h2m173 0h5m55 0h2m42 0h2M84 143h2m5 0h2m4 0h4m5 0h2m10 0h2m6 0h2m1 0h2m26 0h2m6 0h2m7 0h2m29 0h2m160 0h2m4 0h2m18 0h2m2 0h2m91 0h2m15 0h3M90 145h1m14 0h2m5 0h3m7 0h2m4 0h2m2 0h2m4 0h2m36 0h2m13 0h2m19 0h2m2 0h2m150 0h3m6 0h2m5 0h1m22 0h1m7 0h2m1 0h2m4 0h2m5 0h2M89 147h2m2 0h2m8 0h3m7 0h2m2 0h2m51 0h2m30 0h2m3 0h1m26 0h2m135 0h1m5 0h2m2 0h2m38 0h2m6 0h2m35 0h2m56 0h2m8 0h2M86 149h2m2 0h3m1 0h5m1 0h2m3 0h2m16 0h2m2 0h3m10 0h1m87 0h2m139 0h2m1 0h1m9 0h2m13 0h2m34 0h2m16 0h2M99 151h4m1 0h3m1 0h2m12 0h3m1 0h2m4 0h2m3 0h2m13 0h2m3 0h3m12 0h2m3 0h2m186 0h2m6 0h6m50 0h2m7 0h2m9 0h1m40 0h2M84 153h2m8 0h4m2 0h3m3 0h2m10 0h3m11 0h2m7 0h2m16 0h2m10 0h6m12 0h2m45 0h2m160 0h1m23 0h2m2 0h1m32 0h2m74 0h1M86 155h2m5 0h2m4 0h2m12 0h2m17 0h2m3 0h2m1 0h2m1 0h2m11 0h2m23 0h3m61 0h2m120 0h2m11 0h4m8 0h2m15 0h2M86 157h2m11 0h2m1 0h1m11 0h2m15 0h2m1 0h2m36 0h3m3 0h2m2 0h2m14 0h2m38 0h2m141 0h2m48 0h2m47 0h6m68 0h2M84 159h3m2 0h2m1 0h4m3 0h2m3 0h4m2 0h2m8 0h2m37 0h2m3 0h2m12 0h2m58 0h2m129 0h2m4 0h2m2 0h2m12 0h2m8 0h3m9 0h2m19 0h2m38 0h2m18 0h2M79 161h3m6 0h2m5 0h1m1 0h2m7 0h2m4 0h2m9 0h2m2 0h2m1 0h2m18 0h2m36 0h2m9 0h2m7 0h1m157 0h2m4 0h1m3 0h5m3 0h2m19 0h3m7 0h2m43 0h1m18 0h1m35 0h2m15 0h2M81 163h2m1 0h9m2 0h2m9 0h2m5 0h1m9 0h2m5 0h4m2 0h2m18 0h2m11 0h2m6 0h2m46 0h2m3 0h2m138 0h2m2 0h4m16 0h2m25 0h2m77 0h2m6 0h1m5 0h1m14 0h2m20 0h2m7 0h1M88 165h2m13 0h1m7 0h1m1 0h2m12 0h2m6 0h2m22 0h2m15 0h2m32 0h2m153 0h4m4 0h1m13 0h2m34 0h2m14 0h2m34 0h3m17 0h2M80 167h5m2 0h2m8 0h2m6 0h2m6 0h2m24 0h2m31 0h2m15 0h2m2 0h2m48 0h2m2 0h2m121 0h2m14 0h2m2 0h2m23 0h1m16 0h2m8 0h2m44 0h2m5 0h2m14 0h2m33 0h2M78 169h6m6 0h1m4 0h1m3 0h4m6 0h2m8 0h2m4 0h2m1 0h2m17 0h2m1 0h5m7 0h2m2 0h2m72 0h4m5 0h2m123 0h2m5 0h1m9 0h2m19 0h2m4 0h2m18 0h2m8 0h2m13 0h1m8 0h2m2 0h2m1 0h2m11 0h2m8 0h2m27 0h2m11 0h2m1 0h2m23 0h2M85 171h2m15 0h2m3 0h2m4 0h3m3 0h2m4 0h2m10 0h2m3 0h2m3 0h1m12 0h4m3 0h2m15 0h2m19 0h2m15 0h4m8 0h2m4 0h2m1 0h2m126 0h2m4 0h1m2 0h2m24 0h3m2 0h2m25 0h2m20 0h2m10 0h2m26 0h2m25 0h2m36 0h2M79 173h2m1 0h2m2 0h2m12 0h3m13 0h2m8 0h2m31 0h2m7 0h2m12 0h3m9 0h2m19 0h2m2 0h2m2 0h2m9 0h2m23 0h2m109 0h2m1 0h4m1 0h2m2 0h1m20 0h2m30 0h1m5 0h2m35 0h2m20 0h2M80 175h8m2 0h1m1 0h3m1 0h2m31 0h1m10 0h1m1 0h2m6 0h2m4 0h2m10 0h4m5 0h2m13 0h2m1 0h2m6 0h2m7 0h2m153 0h2m2 0h2m1 0h2m2 0h1m17 0h1m5 0h2m6 0h2m8 0h4m10 0h2m31 0h1m34 0h1m51 0h2m17 0h2m7 0h2M79 177h7m3 0h6m1 0h1m2 0h1m21 0h2m14 0h1m10 0h2m6 0h2m3 0h2m4 0h2m1 0h2m11 0h2m1 0h2m12 0h4m1 0h3m9 0h2m20 0h2m124 0h2m4 0h1m10 0h2m2 0h1m32 0h2m14 0h3m21 0h2m13 0h3m8 0h2m42 0h2m3 0h2m38 0h2M79 179h2m11 0h2m3 0h1m12 0h3m3 0h2m1 0h2m1 0h1m12 0h2m7 0h1m12 0h1m32 0h2m12 0h2m17 0h2m25 0h4m13 0h2m100 0h2m3 0h2m3 0h2m63 0h2m12 0h2m3 0h3m8 0h2m7 0h4m5 0h2m1 0h2m4 0h1m8 0h2m28 0h2m8 0h2m1 0h2m4 0h2M81 181h2m1 0h4m10 0h4m1 0h2m3 0h2m1 0h2m22 0h2m1 0h2m7 0h2m21 0h1m27 0h2m24 0h2m15 0h2m22 0h2m105 0h5m3 0h2m14 0h2m13 0h3m7 0h2m16 0h2m14 0h2m14 0h2m34 0h1m23 0h2m29 0h2m19 0h2M84 183h3m2 0h1m7 0h2m1 0h2m6 0h1m2 0h1m8 0h2m4 0h3m15 0h2m5 0h2m20 0h1m33 0h2m2 0h2m1 0h2m36 0h2m2 0h2m111 0h5m17 0h2m7 0h2m7 0h2m10 0h1m17 0h2m23 0h2m33 0h2m10 0h2m11 0h2m10 0h4m22 0h2m18 0h2M79 185h8m17 0h5m26 0h3m9 0h2m25 0h2m14 0h4m17 0h2m23 0h1m5 0h2m1 0h2m119 0h3m5 0h1m4 0h1m2 0h1m10 0h1m3 0h2m37 0h1m2 0h2m13 0h1m16 0h2m9 0h1m42 0h2m6 0h1m6 0h2m3 0h1M78 187h5m13 0h2m2 0h2m1 0h1m18 0h1m2 0h3m8 0h4m28 0h2m24 0h2m22 0h2m12 0h2m43 0h2m97 0h1m13 0h1m2 0h1m6 0h1m14 0h1m19 0h1m33 0h1m13 0h2m20 0h2m14 0h2m20 0h2m6 0h2m5 0h2M82 189h2m1 0h2m5 0h2m9 0h2m11 0h1m22 0h2m2 0h2m13 0h2m10 0h3m8 0h2m10 0h2m7 0h2m3 0h2m38 0h2m23 0h2m93 0h2m23 0h3m9 0h1m31 0h2m1 0h1m19 0h2m15 0h1m1 0h2m5 0h2m1 0h2m1 0h4m9 0h4m26 0h2m7 0h2m5 0h2m9 0h2m8 0h2M80 191h2m3 0h5m2 0h2m7 0h2m26 0h1m22 0h2m22 0h1m6 0h2m31 0h3m6 0h2m1 0h2m3 0h2m10 0h2m123 0h2m4 0h2m2 0h2m28 0h2m7 0h2m51 0h3m18 0h1m7 0h2m31 0h2m15 0h3M82 193h2m12 0h2m6 0h3m18 0h1m15 0h1m14 0h2m7 0h1m45 0h2m29 0h2m4 0h2m17 0h2m10 0h2m92 0h2m31 0h2m20 0h1m9 0h1m34 0h2m4 0h4m5 0h3m12 0h3m19 0h2m10 0h2m2 0h2m16 0h2m2 0h2m18 0h4m5 0h1M80 195h2m7 0h1m6 0h2m11 0h2m13 0h4m10 0h2m38 0h2m2 0h1m16 0h2m37 0h2m10 0h2m16 0h2m2 0h2m91 0h2m2 0h2m4 0h3m45 0h2m3 0h1m1 0h3m18 0h1m22 0h2m13 0h3m7 0h2m2 0h2m5 0h2m10 0h2m5 0h2m33 0h2m20 0h2M82 197h2m17 0h1m4 0h1m15 0h2m8 0h2m3 0h1m5 0h2m12 0h1m26 0h2m14 0h2m8 0h2m4 0h2m13 0h2m4 0h2m3 0h2m1 0h2m21 0h5m9 0h2m83 0h1m7 0h3m5 0h2m1 0h1m2 0h2m1 0h4m8 0h1m11 0h2m34 0h1m9 0h1m9 0h2m22 0h2m2 0h2m19 0h2m4 0h2m21 0h2m21 0h1m13 0h2M79 199h2m1 0h4m3 0h5m4 0h4m1 0h2m1 0h1m8 0h1m12 0h1m16 0h2m4 0h2m1 0h2m8 0h2m1 0h2m197 0h2m3 0h4m11 0h2m7 0h1m8 0h1m4 0h2m6 0h1m22 0h1m2 0h2m19 0h2m10 0h2m11 0h1m26 0h4m5 0h1m10 0h2m4 0h2m3 0h1m30 0h2M81 201h7m4 0h2m2 0h6m12 0h2m3 0h2m41 0h1m27 0h2m11 0h3m2 0h2m9 0h2m14 0h1m15 0h2m23 0h2m3 0h2m82 0h10m5 0h2m3 0h1m7 0h2m1 0h2m14 0h1m9 0h2m5 0h2m12 0h1m23 0h1m2 0h2m6 0h1m14 0h2m49 0h2m7 0h2m8 0h2m10 0h2m4 0h2M78 203h2m8 0h1m1 0h2m2 0h3m4 0h2m11 0h2m15 0h2m35 0h2m23 0h2m9 0h2m6 0h2m24 0h2m1 0h2m13 0h5m114 0h5m10 0h1m33 0h1m45 0h1m25 0h1m6 0h4m5 0h1m32 0h1m6 0h2m8 0h2m10 0h2m6 0h2M82 205h3m1 0h1m1 0h2m4 0h2m2 0h1m23 0h1m2 0h2m11 0h2m5 0h3m5 0h1m10 0h1m61 0h2m5 0h1m2 0h4m4 0h2m18 0h2m8 0h2m4 0h2m85 0h2m2 0h4m1 0h2m8 0h2m1 0h3m7 0h1m24 0h2m6 0h8m49 0h2m6 0h1m22 0h2m16 0h2m15 0h2m2 0h2m12 0h6m5 0h2M80 207h3m1 0h1m6 0h4m4 0h1m29 0h3m17 0h1m8 0h1m9 0h2m8 0h2m5 0h1m13 0h2m17 0h3m2 0h2m3 0h2m8 0h2m3 0h4m2 0h5m1 0h2m8 0h2m14 0h2m87 0h1m8 0h2m6 0h2m21 0h1m6 0h2m2 0h3m9 0h1m1 0h2m4 0h2m8 0h1m2 0h1m4 0h1m28 0h4m13 0h2m37 0h2m2 0h2m9 0h2m15 0h2m3 0h2M78 209h2m3 0h4m36 0h2m28 0h2m11 0h1m3 0h2m29 0h2m5 0h2m5 0h4m10 0h1m4 0h2m5 0h2m13 0h2m16 0h4m128 0h1m42 0h2m3 0h2m57 0h2m8 0h3m11 0h2m9 0h2m3 0h2m4 0h2m3 0h2m16 0h4M81 211h6m4 0h1m27 0h1m15 0h1m33 0h2m35 0h1m15 0h2m41 0h2m6 0h2m4 0h1m87 0h1m4 0h1m1 0h2m4 0h2m7 0h2m4 0h1m2 0h3m29 0h1m29 0h2m3 0h1m7 0h1m4 0h2m28 0h1m11 0h2m3 0h2m2 0h2m4 0h4m13 0h3m9 0h1m8 0h2m17 0h3M83 213h3m6 0h2m20 0h1m14 0h1m26 0h2m3 0h2m14 0h2m48 0h2m13 0h3m4 0h3m12 0h2m5 0h2m93 0h2m6 0h2m52 0h2m13 0h1m12 0h1m21 0h1m4 0h2m39 0h1m2 0h2m39 0h2m18 0h1M81 215h3m3 0h2m2 0h2m55 0h1m23 0h2m10 0h2m43 0h2m1 0h1m9 0h1m5 0h2m5 0h4m1 0h2m14 0h2m5 0h2m86 0h2m1 0h2m17 0h1m8 0h1m33 0h2m14 0h2m6 0h1m6 0h2m11 0h2m16 0h1m8 0h1m10 0h1m9 0h2m16 0h2m4 0h1m3 0h1m15 0h2m21 0h2M80 217h3m7 0h2m23 0h1m7 0h2m22 0h2m25 0h1m10 0h1m2 0h2m7 0h1m15 0h4m3 0h2m1 0h2m17 0h1m7 0h2m3 0h3m1 0h2m3 0h2m1 0h2m2 0h1m2 0h6m89 0h2m8 0h2m91 0h1m37 0h1m6 0h1m13 0h2m9 0h1m13 0h2m6 0h2m2 0h2m12 0h4M79 219h3m3 0h2m1 0h2m4 0h1m3 0h2m12 0h1m15 0h1m41 0h1m68 0h3m2 0h2m1 0h2m5 0h2m4 0h1m1 0h2m2 0h2m3 0h2m1 0h3m5 0h2m82 0h4m6 0h2m2 0h1m14 0h1m4 0h2m9 0h2m52 0h2m11 0h1m7 0h3m8 0h1m10 0h1m20 0h2m10 0h2m6 0h1m31 0h2M79 221h2m1 0h3m1 0h3m1 0h1m2 0h4m8 0h2m12 0h1m7 0h2m8 0h2m42 0h1m26 0h3m4 0h2m8 0h2m17 0h5m5 0h2m2 0h2m1 0h2m3 0h2m12 0h2m85 0h1m3 0h2m20 0h1m21 0h1m12 0h1m18 0h2m4 0h2m6 0h1m7 0h2m8 0h3m9 0h2m42 0h2m23 0h3m10 0h1m2 0h2m6 0h2m2 0h2m1 0h2M82 223h2m1 0h1m1 0h1m20 0h1m36 0h1m24 0h2m7 0h1m11 0h3m10 0h2m3 0h3m7 0h2m1 0h2m9 0h4m11 0h2m6 0h2m8 0h1m3 0h2m103 0h3m26 0h2m2 0h2m9 0h4m13 0h3m45 0h2m25 0h2m6 0h2m3 0h2m3 0h1m8 0h2m23 0h2m9 0h3M83 225h5m4 0h2m11 0h2m6 0h1m18 0h1m72 0h4m4 0h2m9 0h1m7 0h1m1 0h3m3 0h4m5 0h2m5 0h2m5 0h2m3 0h4m99 0h4m1 0h3m7 0h1m3 0h1m8 0h2m6 0h1m72 0h2m55 0h2m7 0h1m20 0h2m1 0h4m4 0h1M79 227h4m1 0h5m1 0h2m45 0h2m33 0h1m53 0h2m5 0h12m2 0h2m2 0h1m4 0h4m4 0h3m5 0h2m1 0h2m3 0h2m83 0h3m3 0h2m18 0h1m23 0h2m13 0h2m12 0h2m35 0h1m19 0h2m2 0h1m2 0h3m4 0h3m8 0h2m9 0h1m2 0h2m10 0h2m33 0h1m5 0h1M82 229h2m1 0h2m4 0h2m8 0h2m1 0h1m107 0h2m10 0h5m1 0h2m4 0h2m1 0h2m2 0h2m10 0h4m7 0h2m10 0h4m84 0h2m17 0h1m1 0h1m6 0h2m6 0h1m9 0h1m3 0h2m9 0h2m19 0h2m1 0h1m4 0h3m17 0h1m3 0h1m4 0h2m23 0h2m21 0h1m16 0h3m11 0h2m17 0h1m12 0h1M79 231h2m1 0h3m2 0h2m1 0h1m27 0h2m25 0h2m18 0h2m40 0h2m16 0h4m1 0h4m9 0h4m5 0h7m1 0h2m2 0h2m2 0h2m7 0h4m84 0h2m3 0h2m5 0h3m2 0h1m13 0h2m29 0h2m33 0h2m6 0h1m35 0h2m25 0h2m14 0h2m19 0h2m8 0h2m2 0h2m1 0h3M81 233h5m1 0h3m39 0h1m71 0h2m12 0h2m5 0h2m1 0h3m5 0h2m1 0h5m1 0h2m1 0h2m2 0h4m3 0h3m6 0h2m3 0h7m1 0h3m84 0h2m1 0h1m3 0h1m11 0h3m22 0h2m40 0h1m16 0h1m5 0h2m27 0h2m12 0h2m12 0h1m1 0h2m14 0h1m3 0h1m3 0h2m14 0h2m10 0h4m2 0h2m3 0h2M84 235h2m37 0h2m92 0h2m8 0h1m2 0h7m3 0h3m5 0h2m1 0h2m13 0h2m2 0h2m3 0h7m83 0h4m5 0h3m6 0h1m3 0h2m25 0h2m36 0h1m3 0h1m23 0h1m14 0h2m48 0h2m4 0h3m6 0h3m14 0h1m9 0h1m2 0h1M81 237h4m4 0h2m26 0h2m12 0h1m40 0h1m23 0h2m7 0h2m5 0h1m7 0h2m1 0h2m7 0h2m3 0h2m2 0h3m3 0h2m3 0h2m2 0h3m6 0h5m2 0h4m2 0h3m2 0h2m81 0h2m12 0h1m5 0h2m24 0h2m8 0h3m70 0h1m23 0h1m20 0h2m9 0h1m12 0h1m3 0h3m14 0h2m8 0h2M81 239h6m6 0h2m3 0h1m26 0h2m41 0h2m45 0h1m16 0h1m2 0h2m3 0h1m2 0h2m9 0h2m7 0h2m5 0h2m9 0h2m82 0h4m5 0h2m14 0h2m35 0h1m1 0h1m7 0h1m2 0h1m9 0h2m2 0h1m6 0h2m36 0h1m2 0h2m33 0h2m2 0h2m18 0h2m11 0h2M84 241h2m27 0h2m52 0h2m216 0h2m127 0h2M487 383h2M439 387h2m22 0h2M116 389h2m16 0h2m2 0h2m288 0h2M82 391h2m15 0h2m329 0h2m5 0h2m7 0h2m46 0h2M85 393h2m14 0h4m40 0h2m285 0h2M421 395h2M85 397h2m9 0h3m13 0h2m327 0h2m9 0h3M85 399h2m16 0h4m32 0h2m290 0h2m2 0h2m36 0h2m36 0h2M81 401h2m15 0h2m17 0h2m9 0h2m27 0h2m2 0h2m261 0h2m7 0h2M107 403h2m18 0h2m24 0h2m269 0h3m1 0h2m19 0h2M79 405h2m3 0h2m18 0h2m6 0h2m322 0h2M91 407h2m11 0h2m1 0h2m6 0h4m6 0h2m1 0h2m289 0h3m16 0h2M83 409h2m5 0h2m18 0h1m12 0h2m35 0h2m259 0h3m13 0h3M91 411h4m2 0h2m2 0h2m20 0h2m294 0h2m15 0h2m37 0h2m47 0h2m7 0h2M90 413h2m10 0h2m24 0h2m21 0h2m2 0h2m6 0h2m270 0h2m60 0h2M97 415h2m2 0h2m1 0h2m1 0h1m308 0h2m11 0h2m13 0h2m50 0h2m16 0h2M89 417h2m76 0h1m245 0h2m13 0h2m2 0h4m6 0h2m78 0h2M87 419h2m8 0h2m6 0h3m5 0h3m16 0h2m4 0h2m287 0h1m6 0h2m2 0h2m11 0h2m96 0h2M92 421h2m1 0h2m31 0h4m7 0h4m5 0h4m2 0h2m15 0h2m4 0h3m245 0h2m56 0h2M88 423h2m1 0h2m27 0h2m10 0h2m284 0h2m2 0h2m5 0h2m4 0h2m6 0h2m6 0h2M81 425h2m5 0h4m6 0h2m1 0h2m18 0h5m1 0h2m15 0h2m16 0h2m243 0h2m15 0h4m21 0h2m8 0h2m2 0h2m67 0h2M82 427h2m3 0h4m8 0h2m12 0h2m13 0h2m12 0h2m30 0h2m4 0h2m334 0h2M89 429h1m29 0h2m13 0h2m5 0h2m5 0h2m2 0h2m279 0h2m6 0h2m29 0h2m1 0h2m36 0h2m26 0h2M80 431h2m1 0h2m3 0h2m6 0h1m20 0h4m4 0h2m30 0h2m11 0h2m241 0h2m3 0h2m5 0h2m5 0h2m4 0h2m2 0h2m2 0h3m26 0h2M82 433h4m26 0h2m6 0h2m4 0h2m13 0h2m6 0h2m48 0h2m209 0h3m11 0h2m4 0h2m7 0h2m14 0h2m5 0h2M83 435h2m4 0h2m5 0h2m3 0h1m28 0h2m29 0h1m4 0h2m238 0h2m9 0h2m9 0h2m3 0h2m10 0h2m16 0h2m70 0h2M80 437h4m13 0h1m2 0h1m5 0h2m6 0h2m9 0h1m3 0h2m7 0h2m8 0h2m11 0h2m3 0h2m18 0h2m14 0h2m209 0h2m6 0h2m4 0h4m1 0h3m15 0h2m9 0h2m71 0h2M90 439h2m12 0h2m23 0h2m2 0h2m7 0h2m259 0h2m13 0h2m10 0h4m13 0h2m1 0h2m64 0h2M81 441h2m3 0h3m4 0h2m11 0h1m3 0h2m20 0h2m5 0h2m54 0h2m4 0h2m200 0h7m6 0h2m6 0h2m9 0h2m2 0h1m13 0h2m4 0h2m65 0h2m4 0h2m7 0h2M79 443h2m1 0h3m2 0h2m23 0h2m3 0h2m19 0h2m9 0h4m23 0h2m3 0h4m13 0h3m217 0h2m2 0h2m3 0h2m1 0h2m15 0h2m4 0h2m49 0h2m20 0h2m4 0h2M86 445h2m12 0h2m15 0h6m71 0h2m213 0h2m9 0h2m2 0h6m3 0h2m18 0h2m22 0h2M84 447h3m2 0h1m2 0h3m4 0h2m6 0h2m5 0h2m9 0h2m9 0h2m14 0h2m6 0h3m1 0h2m46 0h2m190 0h2m1 0h3m12 0h2m1 0h2m4 0h2m2 0h2m6 0h2m71 0h2m6 0h2m26 0h2M87 449h2m16 0h2m6 0h2m7 0h2m84 0h3m197 0h4m18 0h1m19 0h2m41 0h2m5 0h2M82 451h4m15 0h2m2 0h2m14 0h2m20 0h2m19 0h2m3 0h2m27 0h2m14 0h2m184 0h2m7 0h4m6 0h2m1 0h2m3 0h2m10 0h3m76 0h2M80 453h2m4 0h2m2 0h2m5 0h2m4 0h2m17 0h2m12 0h2m17 0h2m3 0h2m10 0h2m18 0h2m212 0h2m8 0h2m1 0h2m1 0h2m1 0h2m1 0h2m2 0h2m4 0h3m6 0h2m4 0h2m8 0h2m31 0h2m34 0h2m1 0h2m7 0h2M82 455h5m1 0h1m4 0h2m2 0h4m10 0h2m6 0h2m2 0h2m4 0h2m9 0h2m31 0h1m230 0h2m16 0h6m3 0h2m3 0h2m17 0h1m64 0h2m5 0h2m13 0h2m5 0h2M83 457h2m56 0h2m6 0h2m44 0h2m9 0h2m10 0h2m182 0h2m1 0h4m1 0h2m15 0h4m5 0h2m5 0h2m77 0h2m21 0h2M81 459h2m3 0h4m1 0h5m3 0h4m11 0h2m16 0h2m13 0h4m1 0h1m14 0h2m26 0h2m8 0h4m193 0h2m3 0h2m2 0h2m4 0h2m5 0h3m1 0h2m22 0h2m2 0h2m2 0h2m1 0h2m1 0h2m4 0h2m6 0h2m57 0h2M115 461h2m7 0h2m3 0h2m9 0h2m3 0h2m1 0h4m2 0h2m42 0h2m205 0h2m2 0h2m1 0h2m3 0h2m10 0h2m11 0h2m68 0h2m17 0h2M85 463h4m10 0h2m4 0h2m3 0h2m4 0h2m14 0h2m15 0h5m11 0h2m56 0h2m174 0h2m8 0h2m2 0h2m4 0h6m1 0h2m7 0h3m10 0h2m6 0h2m17 0h2m23 0h2M85 465h2m1 0h2m2 0h5m6 0h1m10 0h2m2 0h1m42 0h4m14 0h2m35 0h2m186 0h2m1 0h2m9 0h2m1 0h2m8 0h2m29 0h2m4 0h2m72 0h2m17 0h2M87 467h2m1 0h2m1 0h2m5 0h3m1 0h4m7 0h2m1 0h2m15 0h2m1 0h2m36 0h2m20 0h2m1 0h2m2 0h2m18 0h2m174 0h5m7 0h2m5 0h4m6 0h4m16 0h2m7 0h2m11 0h1m24 0h2m7 0h1m13 0h2m37 0h2M83 469h2m21 0h2m5 0h1m25 0h1m9 0h2m13 0h2m45 0h2m6 0h2m6 0h2m173 0h2m1 0h2m4 0h3m4 0h2m3 0h4m17 0h4m5 0h2m1 0h1m3 0h2m16 0h2m10 0h2m31 0h2m15 0h2M86 471h4m7 0h2m5 0h1m5 0h2m6 0h2m7 0h2m17 0h2m1 0h2m17 0h2m18 0h1m1 0h2m26 0h2m11 0h2m167 0h9m3 0h2m5 0h1m1 0h2m19 0h1m5 0h1m26 0h2m11 0h2m18 0h2m21 0h2m29 0h2M80 473h2m1 0h6m1 0h2m1 0h3m3 0h2m10 0h1m2 0h1m21 0h2m2 0h2m20 0h3m5 0h2m24 0h2m13 0h2m190 0h2m12 0h2m3 0h2m2 0h4m4 0h2m26 0h2m27 0h2m13 0h2m9 0h2M82 475h4m2 0h4m3 0h2m3 0h2m6 0h2m1 0h2m3 0h1m4 0h2m1 0h2m19 0h1m13 0h2m17 0h2m3 0h2m231 0h6m2 0h4m2 0h2m1 0h2m3 0h5m11 0h1m6 0h2m46 0h2m42 0h2M87 477h2m5 0h2m23 0h2m9 0h1m2 0h2m24 0h2m7 0h2m19 0h3m4 0h2m3 0h2m13 0h2m7 0h2m3 0h2m171 0h4m2 0h3m6 0h2m5 0h1m1 0h2m3 0h2m7 0h3m52 0h3m12 0h2m8 0h2m17 0h2M83 479h3m2 0h2m1 0h2m2 0h1m5 0h2m4 0h2m6 0h3m3 0h1m7 0h1m1 0h2m6 0h2m24 0h2m19 0h2m34 0h4m2 0h2m11 0h2m160 0h3m4 0h4m2 0h3m5 0h2m2 0h2m3 0h2m1 0h2m18 0h1m78 0h2M78 481h2m1 0h4m2 0h1m2 0h1m24 0h2m6 0h2m2 0h1m32 0h2m1 0h2m14 0h2m8 0h1m22 0h2m7 0h2m24 0h2m155 0h2m2 0h4m2 0h3m3 0h4m2 0h1m2 0h3m5 0h2m4 0h1m10 0h2m16 0h2m1 0h2m7 0h4m2 0h2m16 0h2m6 0h2m19 0h2M86 483h4m2 0h2m14 0h2m2 0h1m51 0h2m12 0h2m18 0h2m5 0h2m25 0h2m6 0h2m159 0h2m4 0h4m2 0h8m3 0h2m6 0h3m3 0h1m9 0h2m37 0h2m57 0h2m6 0h2m4 0h2M80 485h2m7 0h2m4 0h2m11 0h1m1 0h2m15 0h2m1 0h2m41 0h2m10 0h3m12 0h2m2 0h1m42 0h2m159 0h2m3 0h2m3 0h6m3 0h3m3 0h3m6 0h2m3 0h5m2 0h2m39 0h2m7 0h2m11 0h3m1 0h2m4 0h2m21 0h2M80 487h5m1 0h2m1 0h2m2 0h4m21 0h2m9 0h2m11 0h2m31 0h2m22 0h5m41 0h2m157 0h2m2 0h2m2 0h2m1 0h3m3 0h4m4 0h2m1 0h5m2 0h3m17 0h3m3 0h2m6 0h2m25 0h3m26 0h2m4 0h2M86 489h2m4 0h4m1 0h2m17 0h2m13 0h2m40 0h2m8 0h1m6 0h2m208 0h2m3 0h2m2 0h2m1 0h2m9 0h6m2 0h6m3 0h2m2 0h2m1 0h1m30 0h2m41 0h2m19 0h3m17 0h2M81 491h8m18 0h2m20 0h3m2 0h1m25 0h2m29 0h2m26 0h2m2 0h2m10 0h2m10 0h2m4 0h2m144 0h2m1 0h6m7 0h2m1 0h2m5 0h2m5 0h2m1 0h1m2 0h1m1 0h2m2 0h1m9 0h1m2 0h1m3 0h2m1 0h2m10 0h2m6 0h2m13 0h2m20 0h3m27 0h3M85 493h2m2 0h3m9 0h2m9 0h2m11 0h2m19 0h1m5 0h2m3 0h2m5 0h2m13 0h2m3 0h2m28 0h2m2 0h2m15 0h2m11 0h2m150 0h17m1 0h8m1 0h2m8 0h2m1 0h1m3 0h2m5 0h1m50 0h2m23 0h2m3 0h2m24 0h2M80 495h4m2 0h4m4 0h1m5 0h2m3 0h2m5 0h5m3 0h4m2 0h2m5 0h2m17 0h2m5 0h2m23 0h2m2 0h2m52 0h2m6 0h4m1 0h2m142 0h5m1 0h8m3 0h1m1 0h2m3 0h3m1 0h4m5 0h2m3 0h1m3 0h2m2 0h2m3 0h3m6 0h1m2 0h1m3 0h4m12 0h1m5 0h1m12 0h2m9 0h2m2 0h2m9 0h2m20 0h3m3 0h2M80 497h2m4 0h2m1 0h1m11 0h2m11 0h4m3 0h3m16 0h2m3 0h2m4 0h2m10 0h2m13 0h2m30 0h3m9 0h1m1 0h2m175 0h5m1 0h3m2 0h10m1 0h4m1 0h3m1 0h5m8 0h1m5 0h4m6 0h3m5 0h2m4 0h2m12 0h2m24 0h2m2 0h2m11 0h1M80 499h2m1 0h9m3 0h1m3 0h2m14 0h2m6 0h2m10 0h1m9 0h2m4 0h1m15 0h4m23 0h2m4 0h2m28 0h2m168 0h4m2 0h2m2 0h3m1 0h2m2 0h2m10 0h4m3 0h2m3 0h2m1 0h2m1 0h2m6 0h4m2 0h2m3 0h2m1 0h1m19 0h1m7 0h1m10 0h3M79 501h4m1 0h1m1 0h2m2 0h1m9 0h2m9 0h1m2 0h3m5 0h3m6 0h1m17 0h6m8 0h2m5 0h2m4 0h2m13 0h2m2 0h2m205 0h7m4 0h2m1 0h3m4 0h2m5 0h1m3 0h2m1 0h3m6 0h2m10 0h2m8 0h2m8 0h2m9 0h2m32 0h2m7 0h2m8 0h3M81 503h3m6 0h2m5 0h2m9 0h1m32 0h2m1 0h2m54 0h2m48 0h4m11 0h2m2 0h2m131 0h2m1 0h6m19 0h2m12 0h3m20 0h2m38 0h1m5 0h2m3 0h2m23 0h2M85 505h3m6 0h4m1 0h1m2 0h2m14 0h2m7 0h1m2 0h3m80 0h2m2 0h4m29 0h2m4 0h2m7 0h2m4 0h2m2 0h4m122 0h4m1 0h2m1 0h6m2 0h2m2 0h1m3 0h2m3 0h2m1 0h2m1 0h3m3 0h2m4 0h1m2 0h1m4 0h1m10 0h3m10 0h1m17 0h2m6 0h2m7 0h1m19 0h2m2 0h2m12 0h3m4 0h2M83 507h2m3 0h3m2 0h1m2 0h1m12 0h4m3 0h2m12 0h1m2 0h1m28 0h1m10 0h1m6 0h2m23 0h2m7 0h2m40 0h2m148 0h6m2 0h3m1 0h13m5 0h3m4 0h3m5 0h7m1 0h1m18 0h4m10 0h1m4 0h2m6 0h2m4 0h2m8 0h2m14 0h2m16 0h2M79 509h2m2 0h5m2 0h2m10 0h1m6 0h1m33 0h4m1 0h1m3 0h2m5 0h2m33 0h2m216 0h2m6 0h1m2 0h3m5 0h1m7 0h2m12 0h4m13 0h2m7 0h2m15 0h1m3 0h4m5 0h3m7 0h1m5 0h1m3 0h2m10 0h2m3 0h3m5 0h2M81 511h10m7 0h1m6 0h2m6 0h2m19 0h1m11 0h2m9 0h2m27 0h2m9 0h2m7 0h2m11 0h2m6 0h2m17 0h2m152 0h4m1 0h2m4 0h5m1 0h6m6 0h2m5 0h2m4 0h2m8 0h4m14 0h1m2 0h1m23 0h1m1 0h2m29 0h1m10 0h2m16 0h2M78 513h4m1 0h3m14 0h2m8 0h1m19 0h1m24 0h3m28 0h2m24 0h2m2 0h2m9 0h2m15 0h2m9 0h2m7 0h2m3 0h2m2 0h2m124 0h7m4 0h2m4 0h2m3 0h2m3 0h2m3 0h1m7 0h3m6 0h3m7 0h1m10 0h2m4 0h2m2 0h1m20 0h2m11 0h2m4 0h2m7 0h2m9 0h2m11 0h2m1 0h2M83 515h2m6 0h1m1 0h2m7 0h1m23 0h2m3 0h2m15 0h1m12 0h2m4 0h2m7 0h2m16 0h2m20 0h1m12 0h2m35 0h2m133 0h7m1 0h5m3 0h2m1 0h7m2 0h1m4 0h2m16 0h2m10 0h2m2 0h2m11 0h1m5 0h1m8 0h2m21 0h2m1 0h2m13 0h1m16 0h4M80 517h2m1 0h4m2 0h2m6 0h2m22 0h1m2 0h2m6 0h4m13 0h1m15 0h4m12 0h2m15 0h2m15 0h2m22 0h2m2 0h2m20 0h2m8 0h2m124 0h16m2 0h2m3 0h2m3 0h1m3 0h2m1 0h3m9 0h1m6 0h3m64 0h2m23 0h2m1 0h2m2 0h2M80 519h6m1 0h1m6 0h2m2 0h1m2 0h2m21 0h2m30 0h1m19 0h2m4 0h2m49 0h7m1 0h2m3 0h2m1 0h2m16 0h2m132 0h2m1 0h2m1 0h2m1 0h3m3 0h4m2 0h6m2 0h1m13 0h1m8 0h2m12 0h2m8 0h1m44 0h1m6 0h2m3 0h2m3 0h6m1 0h3M82 521h4m2 0h4m17 0h2m23 0h1m27 0h2m8 0h1m11 0h3m9 0h2m19 0h2m22 0h3m7 0h3m11 0h2m14 0h2m118 0h2m1 0h5m1 0h2m3 0h5m2 0h2m7 0h1m5 0h2m11 0h1m3 0h1m5 0h2m2 0h2m25 0h2m1 0h3m2 0h2m13 0h3m2 0h2m2 0h2m8 0h4m21 0h2M79 523h6m11 0h2m18 0h2m9 0h1m15 0h2m19 0h1m30 0h1m6 0h2m5 0h2m29 0h2m3 0h1m1 0h1m5 0h4m5 0h2m137 0h2m1 0h5m1 0h2m1 0h2m2 0h9m3 0h5m6 0h1m3 0h1m4 0h4m43 0h2m17 0h2m3 0h2m3 0h2m11 0h2m10 0h2m11 0h2M79 525h7m10 0h2m8 0h1m11 0h1m9 0h2m1 0h2m2 0h1m10 0h3m18 0h2m12 0h2m27 0h2m2 0h2m7 0h2m1 0h2m11 0h1m25 0h3m13 0h2m121 0h3m3 0h6m3 0h3m1 0h1m1 0h1m3 0h1m3 0h2m5 0h4m5 0h2m2 0h2m24 0h2m1 0h2m5 0h2m21 0h2m6 0h6m1 0h1m6 0h8m1 0h1m4 0h1m1 0h2m1 0h2m6 0h2M79 527h8m1 0h4m4 0h4m112 0h2m3 0h2m3 0h2m10 0h4m4 0h3m14 0h2m1 0h2m16 0h4m118 0h6m1 0h3m1 0h3m1 0h2m3 0h2m9 0h1m2 0h2m3 0h2m14 0h4m4 0h2m12 0h2m2 0h1m8 0h2m3 0h2m7 0h1m11 0h1m7 0h1m10 0h1m2 0h2m7 0h2M80 529h7m6 0h1m26 0h2m5 0h1m8 0h1m3 0h1m60 0h2m12 0h2m13 0h2m8 0h2m6 0h2m4 0h2m9 0h2m6 0h2m3 0h2m122 0h12m1 0h4m3 0h1m1 0h2m6 0h2m3 0h2m1 0h1m1 0h3m8 0h2m4 0h1m2 0h1m3 0h1m19 0h2m3 0h2m15 0h1m14 0h1m3 0h2m9 0h2m1 0h9m9 0h3M83 531h2m2 0h4m12 0h1m16 0h2m43 0h2m14 0h5m15 0h2m5 0h1m22 0h2m2 0h2m10 0h2m5 0h2m1 0h2m1 0h3m13 0h2m125 0h3m4 0h3m1 0h2m6 0h2m4 0h2m8 0h2m1 0h4m14 0h1m6 0h2m5 0h3m16 0h4m20 0h1m6 0h4m15 0h1m8 0h4m3 0h2m3 0h2M78 533h2m5 0h4m2 0h1m7 0h1m7 0h2m3 0h2m32 0h1m10 0h1m22 0h1m2 0h2m13 0h2m6 0h1m18 0h1m4 0h2m9 0h2m1 0h2m7 0h2m3 0h2m11 0h2m8 0h2m119 0h4m1 0h11m2 0h1m2 0h3m2 0h1m2 0h1m7 0h2m3 0h2m7 0h1m35 0h1m4 0h1m22 0h4m3 0h1m3 0h1m8 0h1m2 0h4m2 0h2m1 0h6m2 0h1M82 535h5m5 0h1m7 0h1m106 0h2m19 0h3m17 0h2m2 0h1m2 0h1m5 0h3m3 0h2m8 0h5m117 0h6m3 0h10m1 0h1m2 0h4m3 0h2m1 0h1m4 0h1m8 0h2m7 0h2m6 0h1m4 0h1m27 0h2m10 0h1m15 0h7m9 0h3m5 0h5m4 0h3M79 537h7m4 0h2m17 0h2m14 0h1m25 0h2m45 0h1m12 0h2m21 0h2m1 0h2m3 0h1m6 0h2m1 0h2m10 0h6m129 0h15m4 0h1m3 0h3m3 0h1m2 0h1m8 0h3m62 0h2m5 0h1m5 0h2m7 0h1m7 0h4m3 0h2m2 0h2m15 0h2M82 539h6m4 0h2m6 0h5m10 0h2m7 0h2m58 0h2m26 0h1m17 0h3m2 0h1m12 0h3m2 0h3m9 0h2m11 0h4m118 0h13m1 0h2m6 0h2m4 0h2m15 0h2m9 0h1m8 0h1m52 0h1m3 0h4m5 0h2m6 0h2m1 0h2m9 0h2m2 0h2m2 0h3M81 541h2m1 0h2m8 0h2m3 0h1m2 0h2m8 0h2m1 0h2m15 0h2m52 0h1m41 0h4m6 0h2m4 0h3m1 0h2m5 0h1m2 0h3m7 0h4m3 0h2m5 0h2m117 0h8m1 0h6m1 0h2m2 0h2m1 0h1m4 0h3m4 0h2m7 0h1m10 0h2m26 0h1m3 0h1m23 0h3m6 0h1m4 0h1m4 0h2m1 0h4m1 0h2m5 0h2m3 0h2m2 0h4M82 543h3m1 0h1m2 0h6m32 0h2m43 0h1m38 0h2m4 0h2m7 0h2m9 0h2m1 0h3m10 0h6m2 0h6m4 0h6m3 0h4m117 0h2m3 0h5m5 0h4m1 0h2m1 0h1m5 0h1m11 0h3m22 0h2m12 0h1m1 0h3m9 0h2m9 0h2m3 0h3m11 0h1m8 0h8m4 0h9m1 0h2m1 0h2M83 545h6m9 0h2m10 0h1m32 0h2m12 0h4m8 0h2m35 0h1m19 0h1m4 0h2m6 0h2m13 0h4m8 0h2m5 0h2m1 0h2m2 0h2m119 0h4m1 0h6m1 0h4m2 0h2m1 0h5m2 0h1m2 0h1m1 0h2m4 0h4m8 0h1m4 0h2m6 0h1m2 0h2m3 0h2m13 0h2m24 0h3m15 0h1m2 0h1m3 0h2m8 0h2m3 0h4m2 0h3M80 547h7m3 0h2m2 0h1m47 0h2m46 0h2m6 0h2m6 0h1m11 0h2m3 0h2m9 0h3m7 0h1m3 0h2m2 0h2m2 0h5m1 0h2m3 0h1m3 0h10m2 0h2m115 0h2m1 0h6m3 0h6m4 0h6m1 0h2m6 0h1m2 0h2m4 0h1m3 0h2m52 0h2m8 0h2m4 0h2m10 0h2m1 0h2m14 0h1m3 0h5M81 549h3m9 0h1m12 0h2m8 0h1m25 0h2m45 0h2m27 0h2m7 0h7m2 0h2m3 0h2m8 0h1m6 0h5m4 0h1m1 0h2m13 0h2m115 0h7m2 0h2m2 0h4m4 0h1m3 0h3m3 0h3m47 0h1m5 0h1m10 0h1m1 0h2m6 0h1m5 0h2m3 0h1m10 0h2m1 0h2m5 0h2m1 0h2m3 0h3m1 0h2m1 0h2m1 0h3m1 0h2M79 551h6m2 0h2m4 0h1m69 0h1m18 0h2m20 0h1m3 0h1m3 0h2m25 0h2m2 0h2m13 0h2m1 0h2m5 0h2m3 0h4m1 0h2m120 0h2m1 0h2m4 0h2m2 0h4m6 0h2m23 0h2m20 0h1m23 0h1m5 0h1m17 0h2m20 0h3m2 0h2m9 0h2M81 553h2m3 0h2m3 0h1m1 0h2m1 0h1m35 0h2m24 0h1m6 0h2m20 0h2m11 0h1m12 0h2m12 0h2m1 0h1m9 0h7m5 0h2m4 0h4m6 0h2m9 0h3m1 0h2m120 0h3m6 0h2m5 0h2m6 0h2m9 0h1m10 0h2m2 0h2m5 0h2m20 0h2m31 0h2m3 0h2M78 555h2m3 0h5m39 0h2m9 0h2m67 0h2m3 0h2m11 0h1m3 0h2m4 0h3m7 0h3m1 0h4m3 0h3m2 0h2m3 0h4m4 0h3m153 0h2m16 0h2M78 557h2m2 0h4m2 0h1m8 0h1m31 0h2m42 0h1m43 0h1m6 0h2m4 0h2m5 0h3m13 0h3m3 0h2m5 0h3m4 0h4M80 559h2m1 0h2m5 0h1m4 0h2m29 0h1m9 0h1m66 0h3m7 0h2m2 0h1m16 0h3m1 0h3m1 0h4m11 0h1m1 0h2m4 0h1m2 0h1m3 0h2m4 0h4M87 561h3m3 0h2m25 0h2m10 0h1m29 0h2m43 0h2m20 0h1m21 0h3m3 0h2m1 0h2M90 563h2m170 0h2m11 0h2M137 693h2M457 697h2M461 705h2M170 707h2m259 0h1m44 0h2M108 709h2m29 0h2m301 0h2M120 713h4m2 0h2m2 0h2m310 0h2m33 0h2M135 715h2m16 0h2m271 0h2M144 717h2m278 0h2m84 0h2M108 719h2m66 0h3m25 0h2m228 0h2m36 0h2M122 721h2m5 0h2m287 0h2m12 0h2m6 0h2m44 0h2M108 723h2m36 0h2m269 0h2m30 0h2m61 0h2M129 725h2m9 0h4m272 0h2M111 727h2m21 0h2m9 0h2m277 0h2m7 0h2M107 731h2m21 0h2m21 0h2m264 0h2m3 0h2m25 0h2M112 733h2m4 0h3m34 0h2m71 0h2m183 0h2m10 0h2m58 0h2m9 0h2m42 0h2M108 735h2m15 0h3m44 0h2m261 0h2m30 0h3M107 737h3m313 0h2m5 0h2m1 0h2m79 0h2M98 739h2m2 0h2m11 0h2m1 0h2m42 0h2m33 0h2m251 0h1M147 741h2m360 0h2M99 743h2m4 0h2m7 0h3m8 0h2m5 0h1m287 0h3m106 0h2M97 745h2m10 0h2m299 0h2m13 0h2m33 0h2m5 0h2M134 747h2m2 0h2m23 0h2m264 0h2m1 0h2m7 0h2m23 0h1m23 0h2m27 0h2M124 749h2m1 0h3m29 0h3m72 0h2m176 0h2m13 0h2m11 0h2m9 0h2m14 0h2M93 751h2m4 0h2m2 0h4m2 0h2m5 0h2m7 0h2m4 0h4m15 0h2m17 0h2m248 0h2m1 0h2m4 0h3m19 0h2m13 0h3m5 0h2m34 0h2m3 0h2M90 753h2m1 0h2m124 0h2m193 0h2m2 0h4m10 0h2m4 0h2m5 0h4m56 0h1M103 755h2m2 0h2m1 0h2m3 0h1m62 0h2m274 0h2M96 757h6m2 0h2m2 0h2m14 0h2m120 0h2m160 0h2m2 0h4m2 0h2m6 0h2m17 0h2m5 0h2M94 759h2m8 0h5m1 0h5m7 0h2m3 0h2m10 0h2m13 0h2m256 0h2m4 0h2m2 0h2m2 0h4m6 0h3m25 0h2m14 0h2m74 0h2M91 761h2m6 0h2m12 0h2m18 0h2m32 0h2m35 0h2m212 0h8m7 0h2m2 0h1m6 0h2m5 0h4m86 0h2m12 0h2M91 763h2m16 0h7m5 0h3m4 0h4m1 0h2m11 0h3m12 0h2m23 0h1m221 0h2m6 0h2m1 0h2m4 0h2m9 0h2m5 0h2M86 765h2m7 0h2m4 0h2m3 0h2m15 0h2m6 0h2m15 0h2m10 0h2m55 0h4m180 0h2m16 0h8m12 0h2m8 0h2m1 0h2m5 0h1m3 0h2m4 0h2M91 767h2m1 0h6m8 0h1m4 0h2m8 0h2m282 0h4m3 0h2m2 0h2m9 0h6m14 0h1m1 0h2m10 0h2m9 0h1m45 0h2m29 0h2M89 769h2m2 0h3m10 0h4m7 0h2m1 0h6m25 0h1m75 0h2m169 0h2m23 0h2m3 0h1m8 0h1m12 0h2m33 0h2m8 0h2m51 0h2M93 771h2m15 0h2m1 0h2m3 0h2m11 0h2m43 0h1m230 0h3m1 0h2m6 0h2m3 0h2m5 0h1m2 0h2m26 0h2M95 773h2m4 0h2m5 0h2m6 0h2m3 0h2m10 0h2m2 0h2m279 0h3m1 0h3m2 0h5m1 0h2m30 0h2m20 0h2m10 0h2m25 0h2m23 0h2M86 775h4m1 0h3m2 0h2m8 0h2m4 0h2m7 0h4m8 0h2m10 0h2m5 0h2m8 0h2m236 0h2m1 0h2m1 0h2m5 0h2m4 0h2m5 0h4m4 0h1m6 0h3m3 0h2m47 0h2m20 0h2m11 0h2m27 0h2M83 777h2m7 0h2m6 0h6m2 0h2m2 0h2m4 0h2m15 0h2m10 0h2m15 0h2m4 0h6m6 0h3m231 0h2m11 0h3m7 0h2m36 0h2m18 0h2M99 779h2m32 0h3m1 0h1m8 0h2m6 0h1m11 0h2m254 0h2m3 0h3m4 0h4m20 0h2m4 0h2m22 0h1m6 0h1m2 0h2m22 0h2m25 0h2M119 781h2m1 0h2m10 0h2m269 0h2m2 0h4m1 0h2m5 0h3m4 0h4m6 0h1m3 0h2m11 0h2m5 0h2m77 0h2m6 0h2m5 0h2M87 783h3m1 0h2m1 0h2m6 0h2m1 0h2m4 0h5m2 0h2m19 0h2m3 0h4m26 0h3m222 0h2m2 0h2m5 0h2m5 0h4m6 0h4m1 0h2m7 0h2m1 0h3m97 0h2M84 785h4m5 0h2m7 0h2m2 0h11m1 0h4m3 0h2m11 0h2m1 0h2m13 0h2m4 0h3m15 0h2m36 0h2m3 0h3m6 0h2m10 0h2m152 0h2m9 0h3m3 0h2m2 0h3m1 0h5m8 0h2m20 0h2m4 0h2m20 0h2m32 0h2m16 0h2M91 787h5m4 0h2m3 0h2m6 0h3m3 0h2m15 0h2m3 0h2m13 0h2m40 0h2m41 0h2m156 0h2m5 0h4m2 0h2m1 0h6m1 0h1m4 0h1m5 0h9m11 0h2m3 0h2m44 0h2m24 0h2m22 0h2M83 789h3m3 0h2m5 0h2m2 0h5m3 0h2m1 0h4m9 0h2m25 0h4m15 0h2m26 0h2m205 0h2m8 0h4m6 0h4m9 0h2m8 0h2m15 0h2m13 0h2m1 0h3m42 0h2M85 791h4m4 0h2m4 0h2m1 0h4m3 0h9m2 0h2m8 0h2m9 0h3m10 0h1m36 0h2m30 0h2m20 0h3m156 0h2m3 0h3m5 0h3m2 0h1m2 0h2m6 0h2m15 0h2m10 0h2m2 0h2m3 0h2m26 0h2m6 0h2m13 0h2m31 0h2M85 793h4m2 0h2m14 0h2m7 0h2m5 0h3m4 0h2m4 0h2m66 0h2m39 0h2m152 0h6m13 0h11m3 0h2m3 0h1m3 0h1m7 0h2m3 0h2m9 0h4m8 0h2m15 0h2m4 0h1m44 0h2m6 0h2M97 795h2m1 0h5m1 0h2m1 0h2m2 0h3m1 0h3m7 0h2m4 0h2m37 0h2m4 0h2m41 0h2m173 0h3m2 0h2m8 0h2m7 0h6m3 0h2m13 0h2m46 0h4m12 0h2m24 0h2m13 0h2M92 797h7m4 0h2m1 0h3m3 0h2m15 0h2m2 0h3m4 0h1m2 0h2m2 0h2m6 0h2m3 0h2m21 0h2m13 0h2m15 0h2m181 0h3m1 0h4m2 0h4m2 0h2m6 0h2m4 0h1m10 0h2m10 0h3m7 0h2m49 0h2m21 0h2m1 0h4M85 799h5m6 0h2m10 0h2m6 0h2m6 0h4m24 0h1m1 0h2m24 0h2m2 0h2m7 0h2m31 0h2m11 0h2m160 0h6m5 0h2m1 0h2m5 0h2m4 0h3m3 0h2m23 0h2m10 0h1m10 0h2m59 0h2m6 0h2M85 801h3m6 0h3m2 0h4m4 0h2m6 0h6m3 0h2m2 0h2m22 0h1m52 0h2m11 0h2m178 0h2m4 0h3m1 0h3m1 0h3m2 0h3m5 0h2m2 0h2m3 0h1m2 0h1m1 0h2m15 0h2m9 0h2m8 0h2m3 0h4m1 0h2m18 0h2m6 0h2m7 0h3m6 0h3M85 803h3m1 0h2m2 0h2m1 0h3m2 0h2m3 0h3m1 0h2m2 0h4m1 0h2m3 0h2m17 0h1m8 0h4m1 0h2m22 0h2m61 0h2m154 0h2m9 0h2m1 0h4m6 0h2m2 0h2m8 0h2m5 0h3m8 0h2m58 0h3m33 0h2M86 805h4m2 0h6m4 0h5m10 0h2m8 0h2m19 0h2m8 0h2m38 0h3m3 0h2m199 0h2m6 0h2m1 0h2m2 0h2m13 0h1m1 0h2m2 0h1m5 0h2m4 0h1m3 0h1m1 0h2m12 0h1m27 0h2m57 0h2M88 807h2m2 0h2m1 0h4m1 0h3m4 0h4m1 0h4m1 0h5m10 0h4m10 0h2m29 0h2m2 0h2m20 0h2m4 0h2m5 0h2m4 0h2m175 0h2m3 0h6m7 0h3m2 0h2m17 0h1m3 0h2m2 0h1m5 0h2m8 0h2m3 0h2m1 0h2m20 0h2m21 0h2m36 0h2M84 809h7m8 0h12m5 0h2m3 0h2m11 0h1m8 0h4m6 0h2m5 0h1m3 0h2m49 0h2m185 0h6m3 0h2m2 0h6m2 0h3m3 0h1m7 0h4m3 0h1m2 0h2m1 0h2m2 0h1m14 0h3m59 0h2m6 0h2m3 0h2m10 0h2M83 811h6m2 0h4m2 0h2m1 0h4m8 0h2m10 0h1m4 0h1m31 0h4m28 0h2m203 0h4m4 0h2m1 0h2m2 0h4m4 0h1m2 0h1m2 0h1m8 0h4m6 0h1m3 0h2m13 0h2m4 0h1m2 0h1m5 0h4m25 0h2m7 0h2M85 813h3m1 0h2m1 0h2m2 0h2m1 0h3m3 0h2m5 0h2m3 0h2m3 0h6m5 0h1m7 0h2m4 0h2m51 0h3m26 0h2m14 0h2m151 0h2m5 0h2m1 0h2m2 0h4m2 0h6m2 0h2m1 0h2m2 0h4m4 0h2m1 0h2m21 0h2m26 0h2m1 0h2m28 0h2m27 0h2M83 815h2m12 0h2m5 0h1m1 0h2m1 0h4m11 0h2m2 0h3m6 0h1m5 0h1m46 0h2m3 0h2m3 0h2m23 0h2m177 0h3m1 0h4m3 0h2m1 0h1m7 0h2m4 0h1m2 0h1m15 0h2m5 0h1m4 0h2m6 0h2m1 0h1m45 0h2m1 0h2m2 0h2m6 0h2m14 0h2m1 0h2M88 817h7m6 0h4m2 0h4m1 0h2m2 0h1m16 0h3m3 0h1m38 0h3m2 0h2m37 0h2m8 0h7m161 0h5m6 0h2m7 0h4m8 0h2m17 0h2m6 0h1m10 0h2m5 0h2m8 0h2m7 0h2m14 0h1m40 0h4M96 819h2m2 0h2m2 0h3m3 0h4m2 0h5m2 0h2m7 0h2m3 0h1m3 0h1m4 0h2m2 0h1m4 0h2m3 0h2m8 0h4m19 0h2m34 0h2m166 0h4m5 0h3m1 0h2m1 0h13m1 0h2m4 0h4m1 0h4m2 0h2m11 0h2m29 0h1m11 0h2m27 0h2m3 0h1m10 0h1m2 0h2m1 0h2M86 821h9m1 0h5m4 0h2m2 0h2m4 0h1m4 0h3m2 0h1m6 0h2m1 0h4m47 0h1m13 0h3m6 0h2m6 0h2m3 0h2m174 0h2m1 0h2m2 0h2m1 0h2m1 0h2m2 0h2m2 0h2m2 0h1m5 0h1m5 0h2m23 0h1m2 0h2m27 0h2m60 0h2M87 823h4m1 0h3m7 0h2m1 0h9m1 0h3m4 0h7m10 0h1m13 0h1m18 0h1m5 0h1m8 0h2m5 0h2m203 0h3m1 0h2m3 0h4m4 0h2m5 0h4m2 0h2m3 0h2m2 0h2m4 0h7m16 0h2m25 0h2m13 0h2m8 0h1m20 0h2M82 825h2m2 0h5m1 0h6m2 0h5m2 0h12m2 0h1m3 0h2m21 0h2m12 0h2m18 0h1m11 0h2m2 0h2m21 0h2m1 0h2m13 0h1m167 0h5m9 0h2m2 0h2m4 0h2m1 0h1m5 0h1m5 0h1m3 0h1m53 0h1m4 0h2m15 0h2m10 0h2m7 0h2m8 0h2M88 827h2m1 0h2m4 0h2m3 0h2m3 0h5m10 0h1m5 0h3m16 0h3m8 0h2m1 0h2m14 0h1m11 0h2m13 0h3m39 0h2m152 0h2m1 0h4m1 0h8m10 0h2m36 0h1m30 0h2m1 0h1m29 0h2m3 0h2m22 0h3M86 829h3m1 0h6m2 0h2m4 0h2m2 0h8m1 0h2m3 0h2m16 0h2m9 0h2m2 0h1m4 0h1m14 0h2m12 0h1m8 0h2m2 0h1m2 0h2m10 0h1m7 0h2m8 0h2m160 0h8m1 0h3m1 0h2m3 0h3m1 0h2m2 0h1m8 0h2m1 0h4m1 0h3m11 0h1m10 0h2m31 0h1m31 0h2m3 0h2m5 0h2M85 831h2m1 0h4m1 0h10m2 0h1m2 0h4m2 0h1m3 0h2m5 0h1m2 0h1m3 0h2m5 0h1m34 0h5m8 0h1m5 0h1m3 0h3m1 0h3m2 0h4m8 0h1m25 0h2m152 0h7m1 0h2m5 0h4m1 0h8m1 0h2m5 0h6m7 0h1m26 0h2m28 0h2m7 0h2m3 0h2m13 0h2m7 0h2m10 0h3M84 833h3m2 0h2m1 0h2m3 0h5m1 0h2m8 0h2m5 0h1m1 0h1m2 0h6m13 0h4m2 0h2m30 0h2m13 0h3m5 0h2m1 0h2m2 0h2m6 0h4m3 0h2m11 0h2m3 0h1m151 0h11m5 0h2m2 0h4m5 0h1m2 0h1m8 0h1m7 0h1m4 0h1m7 0h2m1 0h2m9 0h2m20 0h1m3 0h1m5 0h2m1 0h1m12 0h1m1 0h2m10 0h1m1 0h4m2 0h2m9 0h4M86 835h6m1 0h6m4 0h7m2 0h1m3 0h6m3 0h3m16 0h2m9 0h1m27 0h2m3 0h2m7 0h3m4 0h2m8 0h2m10 0h2m8 0h2m158 0h3m2 0h8m2 0h4m4 0h1m4 0h5m1 0h2m4 0h2m10 0h1m1 0h2m2 0h2m1 0h1m2 0h1m8 0h2m20 0h2m3 0h6m20 0h1m7 0h2m3 0h2m9 0h4m2 0h2M86 837h4m2 0h9m3 0h2m2 0h3m6 0h9m5 0h2m12 0h1m35 0h2m1 0h2m24 0h2m25 0h2m160 0h3m2 0h4m3 0h1m1 0h3m4 0h1m10 0h4m3 0h4m11 0h2m27 0h3m8 0h4m8 0h3m7 0h2m23 0h5m15 0h2M85 839h4m3 0h2m4 0h3m1 0h1m1 0h1m3 0h2m3 0h1m3 0h1m1 0h2m15 0h2m14 0h1m30 0h2m5 0h1m15 0h2m4 0h3m9 0h2m5 0h2m3 0h2m158 0h2m2 0h2m1 0h2m1 0h2m1 0h2m2 0h4m1 0h2m5 0h2m7 0h3m2 0h3m6 0h2m3 0h2m12 0h1m8 0h3m5 0h2m7 0h2m4 0h2m3 0h2m4 0h1m4 0h2m1 0h2m13 0h2m1 0h1m3 0h4m9 0h2m1 0h2M85 841h2m1 0h2m1 0h5m5 0h4m1 0h2m7 0h2m13 0h1m46 0h2m21 0h2m10 0h3m22 0h2m4 0h2m154 0h4m1 0h4m1 0h2m4 0h2m2 0h4m11 0h2m2 0h4m18 0h4m31 0h1m11 0h1m24 0h1m2 0h2m4 0h1m12 0h4M83 843h2m1 0h7m4 0h2m9 0h5m3 0h1m6 0h2m2 0h2m3 0h2m12 0h1m29 0h2m6 0h2m2 0h1m14 0h5m1 0h2m10 0h4m5 0h2m5 0h4m2 0h2m3 0h2m149 0h4m4 0h2m1 0h3m4 0h2m2 0h4m4 0h1m2 0h3m6 0h1m7 0h1m3 0h2m8 0h1m28 0h1m18 0h1m4 0h1m9 0h5m2 0h2m6 0h2m4 0h2M86 845h6m7 0h1m3 0h2m1 0h2m2 0h2m1 0h1m12 0h1m2 0h1m3 0h2m2 0h1m14 0h2m7 0h2m8 0h1m8 0h2m4 0h1m3 0h1m8 0h2m3 0h2m21 0h2m4 0h2m1 0h2m158 0h10m2 0h7m4 0h1m7 0h2m11 0h2m6 0h2m19 0h1m2 0h2m22 0h3m2 0h2m6 0h2m3 0h1m7 0h2m14 0h2m11 0h4M85 847h2m1 0h2m3 0h6m3 0h2m4 0h6m1 0h2m5 0h2m2 0h2m6 0h2m1 0h2m4 0h1m20 0h2m25 0h3m4 0h1m6 0h1m4 0h3m3 0h2m2 0h2m11 0h2m161 0h17m1 0h2m1 0h1m4 0h2m16 0h2m21 0h1m36 0h2m18 0h2m4 0h3m2 0h2m12 0h1m7 0h1m2 0h2M83 849h6m1 0h2m2 0h2m2 0h1m1 0h2m1 0h2m2 0h2m1 0h2m1 0h4m1 0h2m6 0h1m48 0h2m4 0h3m2 0h1m6 0h1m13 0h1m5 0h1m3 0h2m6 0h3m3 0h2m167 0h2m2 0h4m2 0h7m10 0h3m17 0h2m4 0h1m44 0h1m2 0h2m2 0h1m2 0h2m5 0h3m6 0h1m2 0h1m1 0h1m6 0h2m2 0h2m10 0h2M86 851h7m1 0h7m4 0h2m3 0h1m5 0h3m7 0h3m1 0h2m2 0h1m3 0h1m13 0h2m20 0h1m3 0h1m6 0h3m6 0h1m4 0h2m6 0h2m11 0h4m2 0h3m8 0h5m156 0h2m3 0h8m1 0h2m2 0h1m4 0h4m1 0h2m2 0h4m13 0h1m2 0h1m3 0h1m3 0h2m20 0h1m5 0h4m10 0h2m7 0h1m4 0h2m9 0h3m3 0h3m9 0h2m4 0h1m4 0h2M85 853h3m3 0h8m22 0h1m2 0h1m23 0h2m12 0h1m5 0h1m14 0h3m7 0h2m10 0h2m4 0h2m7 0h1m4 0h2m1 0h2m1 0h5m2 0h2m1 0h2m155 0h6m2 0h2m3 0h2m1 0h5m9 0h2m2 0h1m7 0h1m14 0h2m2 0h2m25 0h2m3 0h1m17 0h1m3 0h2m6 0h2m2 0h1m4 0h2m4 0h9m2 0h2M86 855h4m2 0h5m2 0h1m3 0h7m2 0h1m5 0h1m12 0h3m11 0h2m2 0h1m5 0h2m8 0h1m11 0h1m13 0h2m2 0h1m2 0h1m2 0h1m4 0h2m13 0h2m2 0h2m2 0h2m6 0h3m162 0h4m1 0h2m1 0h3m1 0h5m2 0h3m3 0h3m2 0h1m1 0h2m3 0h3m17 0h1m13 0h2m26 0h2m10 0h1m3 0h2m7 0h3m6 0h1m7 0h2m2 0h2m1 0h5m3 0h3M84 857h2m1 0h2m2 0h7m2 0h3m12 0h4m9 0h1m15 0h1m8 0h1m6 0h1m4 0h2m11 0h1m12 0h1m8 0h4m5 0h2m5 0h5m13 0h2m163 0h10m1 0h4m3 0h4m1 0h4m12 0h1m2 0h3m4 0h1m9 0h2m2 0h2m8 0h2m32 0h2m27 0h2m3 0h4m3 0h5m4 0h2M85 859h8m2 0h3m2 0h3m4 0h6m6 0h2m1 0h1m2 0h2m1 0h2m1 0h1m8 0h1m9 0h1m11 0h1m6 0h1m8 0h1m2 0h1m5 0h1m20 0h2m6 0h1m2 0h1m4 0h2m12 0h2m1 0h2m2 0h3m148 0h5m1 0h2m1 0h9m3 0h4m1 0h2m1 0h2m3 0h2m1 0h2m15 0h1m30 0h1m21 0h2m2 0h2m5 0h1m8 0h2m1 0h2m2 0h1m3 0h1m5 0h2m3 0h1m2 0h4m3 0h2M86 861h2m2 0h5m3 0h2m2 0h2m3 0h2m2 0h3m3 0h5m10 0h2m1 0h1m8 0h2m4 0h1m17 0h1m19 0h2m3 0h5m3 0h2m2 0h2m5 0h2m5 0h2m10 0h1m3 0h1m4 0h3m154 0h4m1 0h9m1 0h2m2 0h3m14 0h3m5 0h1m9 0h1m3 0h2m11 0h2m2 0h2m2 0h3m36 0h2m1 0h1m1 0h3m3 0h1m10 0h3m1 0h1m7 0h2m7 0h2M86 863h9m2 0h3m9 0h1m3 0h7m9 0h3m3 0h1m12 0h4m13 0h2m14 0h1m3 0h2m24 0h1m12 0h4m2 0h2m6 0h1m1 0h2m3 0h2m152 0h15m1 0h3m2 0h8m13 0h1m7 0h1m16 0h2m11 0h1m5 0h3m1 0h3m3 0h3m6 0h1m11 0h1m2 0h2m10 0h2m1 0h5m4 0h4m1 0h1m1 0h2m1 0h5m1 0h2M84 865h19m2 0h2m5 0h1m5 0h2m10 0h2m1 0h2m8 0h1m3 0h1m12 0h1m14 0h1m14 0h3m11 0h1m2 0h1m2 0h1m3 0h2m2 0h1m1 0h3m1 0h2m7 0h6m2 0h3m154 0h2m1 0h6m1 0h2m3 0h5m4 0h1m1 0h2m1 0h2m2 0h2m12 0h2m26 0h2m20 0h2m4 0h2m5 0h1m3 0h1m1 0h1m5 0h1m5 0h1m3 0h1m1 0h2m1 0h2m4 0h2m2 0h1m1 0h1m4 0h1m3 0h2M83 867h10m5 0h3m1 0h9m1 0h2m16 0h3m12 0h3m6 0h2m35 0h1m2 0h2m5 0h2m6 0h3m1 0h2m9 0h2m9 0h2m1 0h3m3 0h1m151 0h2m1 0h2m1 0h2m3 0h10m1 0h2m2 0h2m7 0h3m4 0h3m9 0h2m1 0h3m2 0h1m6 0h2m14 0h1m28 0h6m7 0h2m5 0h3m12 0h2m1 0h4M85 869h2m2 0h6m4 0h2m2 0h3m5 0h1m13 0h1m1 0h3m7 0h2m33 0h1m4 0h2m12 0h1m7 0h1m3 0h2m1 0h2m7 0h4m4 0h5m13 0h1m155 0h2m1 0h3m9 0h1m1 0h2m3 0h2m7 0h2m4 0h2m6 0h4m3 0h5m1 0h3m5 0h2m2 0h2m24 0h1m4 0h2m4 0h2m9 0h1m4 0h3m2 0h3m2 0h1m6 0h1m9 0h4m5 0h2M85 871h2m1 0h3m1 0h3m2 0h1m1 0h4m5 0h1m2 0h2m33 0h3m6 0h2m11 0h1m18 0h2m7 0h2m7 0h1m1 0h2m5 0h4m6 0h2m3 0h2m5 0h2m6 0h1m153 0h20m5 0h2m3 0h1m3 0h2m2 0h2m1 0h1m5 0h2m9 0h2m3 0h2m24 0h3m19 0h1m4 0h1m9 0h2m3 0h2m1 0h2m3 0h1m1 0h2m4 0h2m1 0h2m6 0h3M83 873h4m1 0h9m13 0h1m2 0h2m22 0h2m6 0h2m2 0h2m8 0h4m5 0h2m9 0h3m13 0h2m1 0h2m4 0h1m7 0h2m2 0h1m4 0h4m1 0h3m1 0h2m5 0h3m1 0h2m1 0h2m156 0h2m3 0h2m5 0h2m7 0h1m1 0h1m3 0h2m2 0h1m7 0h2m11 0h2m3 0h1m8 0h1m13 0h4m29 0h2m6 0h2m3 0h2m8 0h1m1 0h2m2 0h2M84 875h4m1 0h4m1 0h2m1 0h2m1 0h4m1 0h3m16 0h1m2 0h3m5 0h2m5 0h1m7 0h3m1 0h1m17 0h1m20 0h1m13 0h2m1 0h2m14 0h2m1 0h2m2 0h2m1 0h2m6 0h2M153 877h2M159 879h2" stroke="#008000" stroke-width="2" fill="none"/>
<path d="M57.78 249.5v-2M57.78 6v2M69.96 249.5v-2M69.96 6v2M82.14 249.5v-2M82.14 6v2M94.32 249.5v-2M94.32 6v2M106.5 249.5v-4.2M106.5 6v4.2M118.68 249.5v-2M118.68 6v2M130.86 249.5v-2M130.86 6v2M143.04 249.5v-2M143.04 6v2M155.22 249.5v-2M155.22 6v2M167.4 249.5v-4.2M167.4 6v4.2M179.58 249.5v-2M179.58 6v2M191.76 249.5v-2M191.76 6v2M203.94 249.5v-2M203.94 6v2M216.12 249.5v-2M216.12 6v2M228.3 249.5v-4.2M228.3 6v4.2M240.48 249.5v-2M240.48 6v2M252.66 249.5v-2M252.66 6v2M264.84 249.5v-2M264.84 6v2M277.02 249.5v-2M277.02 6v2M45.6 239.76h2M289.2 239.76h-2M45.6 230.02h2M289.2 230.02h-2M45.6 220.28h2M289.2 220.28h-2M45.6 210.54h2M289.2 210.54h-2M45.6 200.8h4.2M289.2 200.8h-4.2M45.6 191.06h2M289.2 191.06h-2M45.6 181.32h2M289.2 181.32h-2M45.6 171.58h2M289.2 171.58h-2M45.6 161.84h2M289.2 161.84h-2M45.6 152.1h4.2M289.2 152.1h-4.2M45.6 142.36h2M289.2 142.36h-2M45.6 132.62h2M289.2 132.62h-2M45.6 122.88h2M289.2 122.88h-2M45.6 113.14h2M289.2 113.14h-2M45.6 103.4h4.2M289.2 103.4h-4.2M45.6 93.66h2M289.2 93.66h-2M45.6 83.92h2M289.2 83.92h-2M45.6 74.18h2M289.2 74.18h-2M45.6 64.44h2M289.2 64.44h-2M45.6 54.7h4.2M289.2 54.7h-4.2M45.6 44.96h2M289.2 44.96h-2M45.6 35.22h2M289.2 35.22h-2M45.6 25.48h2M289.2 25.48h-2M45.6 15.74h2M289.2 15.74h-2" stroke="#1a1a1a" stroke-width="1.2" fill="none"/>
<rect x="45.6" y="6" width="243.6" height="243.5" fill="none" stroke="#1a1a1a" stroke-width="1.4"/>
<text x="41" y="253.5" font-size="12" text-anchor="end" textLength="16.2" lengthAdjust="spacingAndGlyphs">250</text>
<text x="41" y="204.8" font-size="12" text-anchor="end" textLength="16.2" lengthAdjust="spacingAndGlyphs">500</text>
<text x="41" y="156.1" font-size="12" text-anchor="end" textLength="16.2" lengthAdjust="spacingAndGlyphs">750</text>
<text x="41" y="58.7" font-size="12" text-anchor="end" textLength="21.6" lengthAdjust="spacingAndGlyphs">1250</text>
<text x="41" y="10" font-size="12" text-anchor="end" textLength="21.6" lengthAdjust="spacingAndGlyphs">1500</text>
<text x="45.6" y="263.5" font-size="12" text-anchor="middle" textLength="5.4" lengthAdjust="spacingAndGlyphs">0</text>
<text x="106.5" y="263.5" font-size="12" text-anchor="middle" textLength="5.4" lengthAdjust="spacingAndGlyphs">5</text>
<text x="167.4" y="263.5" font-size="12" text-anchor="middle" textLength="10.8" lengthAdjust="spacingAndGlyphs">10</text>
<text x="228.3" y="263.5" font-size="12" text-anchor="middle" textLength="10.8" lengthAdjust="spacingAndGlyphs">15</text>
<text x="287.7" y="263.5" font-size="12" text-anchor="middle" textLength="10.8" lengthAdjust="spacingAndGlyphs">20</text>
<text x="65.2" y="19.9" font-size="12.5" text-anchor="start" textLength="43.9" lengthAdjust="spacingAndGlyphs">2HDM II</text>
<text x="52.9" y="40.1" font-size="10" textLength="50" lengthAdjust="spacingAndGlyphs">Λ = 10<tspan font-size="6" dy="-4.2">19</tspan><tspan dy="4.2"> GeV</tspan></text>
<text x="52.9" y="49" font-size="10" textLength="51.7" lengthAdjust="spacingAndGlyphs">M<tspan font-size="6.5" dy="1.5">t</tspan><tspan dy="-1.5"> = 171 GeV</tspan></text>
<rect x="113" y="16.4" width="165.5" height="30.6" fill="#fff" stroke="#1a1a1a" stroke-width="1.1"/>
<rect x="122.8" y="26" width="1.8" height="1.8" fill="#ff0000"/>
<rect x="122.8" y="36" width="1.8" height="1.8" fill="#008000"/>
<rect x="133.1" y="26" width="1.8" height="1.8" fill="#ff0000"/>
<rect x="133.1" y="36" width="1.8" height="1.8" fill="#008000"/>
<text x="152.4" y="30" font-size="9.5" text-anchor="start" textLength="98" lengthAdjust="spacingAndGlyphs">Stable + Perturbative till Λ</text>
<text x="152.4" y="39.8" font-size="9.5" text-anchor="start" textLength="115.7" lengthAdjust="spacingAndGlyphs">Metastable + Perturbative till Λ</text>
<text transform="translate(13.4,158.2) rotate(-90)" x="0" y="0" font-size="13.5" textLength="52.7" lengthAdjust="spacingAndGlyphs">m<tspan font-size="9" dy="1.6">H</tspan><tspan font-size="13.5" dy="-1.6"> (GeV)</tspan></text>
<text x="156.6" y="282.3" font-size="12.5" text-anchor="start" textLength="22.4" lengthAdjust="spacingAndGlyphs">tanβ</text>
<text x="158" y="305" font-size="14.5" text-anchor="start" font-weight="bold" textLength="18" lengthAdjust="spacingAndGlyphs">(a)</text>
<path d="M366.44 249.5v-2M366.44 6v2M373.37 249.5v-2M373.37 6v2M380.31 249.5v-2M380.31 6v2M387.25 249.5v-2M387.25 6v2M394.19 249.5v-4.2M394.19 6v4.2M401.12 249.5v-2M401.12 6v2M408.06 249.5v-2M408.06 6v2M415 249.5v-2M415 6v2M421.93 249.5v-2M421.93 6v2M428.87 249.5v-4.2M428.87 6v4.2M435.81 249.5v-2M435.81 6v2M442.75 249.5v-2M442.75 6v2M449.68 249.5v-2M449.68 6v2M456.62 249.5v-2M456.62 6v2M463.56 249.5v-4.2M463.56 6v4.2M470.49 249.5v-2M470.49 6v2M477.43 249.5v-2M477.43 6v2M484.37 249.5v-2M484.37 6v2M491.31 249.5v-2M491.31 6v2M498.24 249.5v-4.2M498.24 6v4.2M505.18 249.5v-2M505.18 6v2M512.12 249.5v-2M512.12 6v2M519.05 249.5v-2M519.05 6v2M525.99 249.5v-2M525.99 6v2M532.93 249.5v-4.2M532.93 6v4.2M539.87 249.5v-2M539.87 6v2M546.8 249.5v-2M546.8 6v2M553.74 249.5v-2M553.74 6v2M560.68 249.5v-2M560.68 6v2M567.61 249.5v-4.2M567.61 6v4.2M574.55 249.5v-2M574.55 6v2M581.49 249.5v-2M581.49 6v2M588.43 249.5v-2M588.43 6v2M595.36 249.5v-2M595.36 6v2M359.5 239.76h2M602.3 239.76h-2M359.5 230.02h2M602.3 230.02h-2M359.5 220.28h2M602.3 220.28h-2M359.5 210.54h2M602.3 210.54h-2M359.5 200.8h4.2M602.3 200.8h-4.2M359.5 191.06h2M602.3 191.06h-2M359.5 181.32h2M602.3 181.32h-2M359.5 171.58h2M602.3 171.58h-2M359.5 161.84h2M602.3 161.84h-2M359.5 152.1h4.2M602.3 152.1h-4.2M359.5 142.36h2M602.3 142.36h-2M359.5 132.62h2M602.3 132.62h-2M359.5 122.88h2M602.3 122.88h-2M359.5 113.14h2M602.3 113.14h-2M359.5 103.4h4.2M602.3 103.4h-4.2M359.5 93.66h2M602.3 93.66h-2M359.5 83.92h2M602.3 83.92h-2M359.5 74.18h2M602.3 74.18h-2M359.5 64.44h2M602.3 64.44h-2M359.5 54.7h4.2M602.3 54.7h-4.2M359.5 44.96h2M602.3 44.96h-2M359.5 35.22h2M602.3 35.22h-2M359.5 25.48h2M602.3 25.48h-2M359.5 15.74h2M602.3 15.74h-2" stroke="#1a1a1a" stroke-width="1.2" fill="none"/>
<rect x="359.5" y="6" width="242.8" height="243.5" fill="none" stroke="#1a1a1a" stroke-width="1.4"/>
<text x="354.9" y="253.5" font-size="12" text-anchor="end" textLength="16.2" lengthAdjust="spacingAndGlyphs">250</text>
<text x="354.9" y="204.8" font-size="12" text-anchor="end" textLength="16.2" lengthAdjust="spacingAndGlyphs">500</text>
<text x="354.9" y="156.1" font-size="12" text-anchor="end" textLength="16.2" lengthAdjust="spacingAndGlyphs">750</text>
<text x="354.9" y="58.7" font-size="12" text-anchor="end" textLength="21.6" lengthAdjust="spacingAndGlyphs">1250</text>
<text x="354.9" y="10" font-size="12" text-anchor="end" textLength="21.6" lengthAdjust="spacingAndGlyphs">1500</text>
<text x="359.5" y="263.5" font-size="12" text-anchor="middle" textLength="13.5" lengthAdjust="spacingAndGlyphs">2.5</text>
<text x="394.19" y="263.5" font-size="12" text-anchor="middle" textLength="5.4" lengthAdjust="spacingAndGlyphs">5</text>
<text x="428.87" y="263.5" font-size="12" text-anchor="middle" textLength="13.5" lengthAdjust="spacingAndGlyphs">7.5</text>
<text x="463.56" y="263.5" font-size="12" text-anchor="middle" textLength="10.8" lengthAdjust="spacingAndGlyphs">10</text>
<text x="498.24" y="263.5" font-size="12" text-anchor="middle" textLength="18.9" lengthAdjust="spacingAndGlyphs">12.5</text>
<text x="532.93" y="263.5" font-size="12" text-anchor="middle" textLength="10.8" lengthAdjust="spacingAndGlyphs">15</text>
<text x="567.61" y="263.5" font-size="12" text-anchor="middle" textLength="18.9" lengthAdjust="spacingAndGlyphs">17.5</text>
<text x="600.8" y="263.5" font-size="12" text-anchor="middle" textLength="10.8" lengthAdjust="spacingAndGlyphs">20</text>
<text x="379.1" y="19.9" font-size="12.5" text-anchor="start" textLength="43.9" lengthAdjust="spacingAndGlyphs">2HDM II</text>
<text x="366.8" y="40.1" font-size="10" textLength="50" lengthAdjust="spacingAndGlyphs">Λ = 10<tspan font-size="6" dy="-4.2">19</tspan><tspan dy="4.2"> GeV</tspan></text>
<text x="366.8" y="49" font-size="10" textLength="51.7" lengthAdjust="spacingAndGlyphs">M<tspan font-size="6.5" dy="1.5">t</tspan><tspan dy="-1.5"> = 171 GeV</tspan></text>
<rect x="426.9" y="16.4" width="165.5" height="30.6" fill="#fff" stroke="#1a1a1a" stroke-width="1.1"/>
<rect x="436.7" y="26" width="1.8" height="1.8" fill="#ff0000"/>
<rect x="436.7" y="36" width="1.8" height="1.8" fill="#008000"/>
<rect x="447" y="26" width="1.8" height="1.8" fill="#ff0000"/>
<rect x="447" y="36" width="1.8" height="1.8" fill="#008000"/>
<text x="466.3" y="30" font-size="9.5" text-anchor="start" textLength="98" lengthAdjust="spacingAndGlyphs">Stable + Perturbative till Λ</text>
<text x="466.3" y="39.8" font-size="9.5" text-anchor="start" textLength="115.7" lengthAdjust="spacingAndGlyphs">Metastable + Perturbative till Λ</text>
<text transform="translate(329.4,154) rotate(-90)" x="0" y="0" font-size="13.5" textLength="52.3" lengthAdjust="spacingAndGlyphs">m<tspan font-size="9" dy="1.6">A</tspan><tspan font-size="13.5" dy="-1.6"> (GeV)</tspan></text>
<text x="469.5" y="282.5" font-size="12.5" text-anchor="start" textLength="22.5" lengthAdjust="spacingAndGlyphs">tanβ</text>
<text x="471" y="305" font-size="14.5" text-anchor="start" font-weight="bold" textLength="18.5" lengthAdjust="spacingAndGlyphs">(b)</text>
<path d="M57.88 572.3v-2M57.88 328.8v2M70.05 572.3v-2M70.05 328.8v2M82.22 572.3v-2M82.22 328.8v2M94.4 572.3v-2M94.4 328.8v2M106.58 572.3v-4.2M106.58 328.8v4.2M118.75 572.3v-2M118.75 328.8v2M130.93 572.3v-2M130.93 328.8v2M143.1 572.3v-2M143.1 328.8v2M155.28 572.3v-2M155.28 328.8v2M167.45 572.3v-4.2M167.45 328.8v4.2M179.62 572.3v-2M179.62 328.8v2M191.8 572.3v-2M191.8 328.8v2M203.98 572.3v-2M203.98 328.8v2M216.15 572.3v-2M216.15 328.8v2M228.32 572.3v-4.2M228.32 328.8v4.2M240.5 572.3v-2M240.5 328.8v2M252.68 572.3v-2M252.68 328.8v2M264.85 572.3v-2M264.85 328.8v2M277.02 572.3v-2M277.02 328.8v2M45.7 562.56h2M289.2 562.56h-2M45.7 552.82h2M289.2 552.82h-2M45.7 543.08h2M289.2 543.08h-2M45.7 533.34h2M289.2 533.34h-2M45.7 523.6h4.2M289.2 523.6h-4.2M45.7 513.86h2M289.2 513.86h-2M45.7 504.12h2M289.2 504.12h-2M45.7 494.38h2M289.2 494.38h-2M45.7 484.64h2M289.2 484.64h-2M45.7 474.9h4.2M289.2 474.9h-4.2M45.7 465.16h2M289.2 465.16h-2M45.7 455.42h2M289.2 455.42h-2M45.7 445.68h2M289.2 445.68h-2M45.7 435.94h2M289.2 435.94h-2M45.7 426.2h4.2M289.2 426.2h-4.2M45.7 416.46h2M289.2 416.46h-2M45.7 406.72h2M289.2 406.72h-2M45.7 396.98h2M289.2 396.98h-2M45.7 387.24h2M289.2 387.24h-2M45.7 377.5h4.2M289.2 377.5h-4.2M45.7 367.76h2M289.2 367.76h-2M45.7 358.02h2M289.2 358.02h-2M45.7 348.28h2M289.2 348.28h-2M45.7 338.54h2M289.2 338.54h-2" stroke="#1a1a1a" stroke-width="1.2" fill="none"/>
<rect x="45.7" y="328.8" width="243.5" height="243.5" fill="none" stroke="#1a1a1a" stroke-width="1.4"/>
<text x="41.1" y="576.3" font-size="12" text-anchor="end" textLength="16.2" lengthAdjust="spacingAndGlyphs">250</text>
<text x="41.1" y="527.6" font-size="12" text-anchor="end" textLength="16.2" lengthAdjust="spacingAndGlyphs">500</text>
<text x="41.1" y="478.9" font-size="12" text-anchor="end" textLength="16.2" lengthAdjust="spacingAndGlyphs">750</text>
<text x="41.1" y="381.5" font-size="12" text-anchor="end" textLength="21.6" lengthAdjust="spacingAndGlyphs">1250</text>
<text x="41.1" y="332.8" font-size="12" text-anchor="end" textLength="21.6" lengthAdjust="spacingAndGlyphs">1500</text>
<text x="45.7" y="586.3" font-size="12" text-anchor="middle" textLength="5.4" lengthAdjust="spacingAndGlyphs">0</text>
<text x="106.58" y="586.3" font-size="12" text-anchor="middle" textLength="5.4" lengthAdjust="spacingAndGlyphs">5</text>
<text x="167.45" y="586.3" font-size="12" text-anchor="middle" textLength="10.8" lengthAdjust="spacingAndGlyphs">10</text>
<text x="228.32" y="586.3" font-size="12" text-anchor="middle" textLength="10.8" lengthAdjust="spacingAndGlyphs">15</text>
<text x="287.7" y="586.3" font-size="12" text-anchor="middle" textLength="10.8" lengthAdjust="spacingAndGlyphs">20</text>
<text x="65.3" y="342.7" font-size="12.5" text-anchor="start" textLength="43.9" lengthAdjust="spacingAndGlyphs">2HDM II</text>
<text x="53" y="362.9" font-size="10" textLength="50" lengthAdjust="spacingAndGlyphs">Λ = 10<tspan font-size="6" dy="-4.2">19</tspan><tspan dy="4.2"> GeV</tspan></text>
<text x="53" y="371.8" font-size="10" textLength="51.7" lengthAdjust="spacingAndGlyphs">M<tspan font-size="6.5" dy="1.5">t</tspan><tspan dy="-1.5"> = 171 GeV</tspan></text>
<rect x="113.1" y="339.2" width="165.5" height="30.6" fill="#fff" stroke="#1a1a1a" stroke-width="1.1"/>
<rect x="122.9" y="348.8" width="1.8" height="1.8" fill="#ff0000"/>
<rect x="122.9" y="358.8" width="1.8" height="1.8" fill="#008000"/>
<rect x="133.2" y="348.8" width="1.8" height="1.8" fill="#ff0000"/>
<rect x="133.2" y="358.8" width="1.8" height="1.8" fill="#008000"/>
<text x="152.5" y="352.8" font-size="9.5" text-anchor="start" textLength="98" lengthAdjust="spacingAndGlyphs">Stable + Perturbative till Λ</text>
<text x="152.5" y="362.6" font-size="9.5" text-anchor="start" textLength="115.7" lengthAdjust="spacingAndGlyphs">Metastable + Perturbative till Λ</text>
<text transform="translate(10.3,482.4) rotate(-90)" x="0" y="0" font-size="13.5" textLength="55.3" lengthAdjust="spacingAndGlyphs">m<tspan font-size="9" dy="1.6">H</tspan><tspan font-size="5" dy="-6">±</tspan><tspan font-size="13.5" dy="4.4"> (GeV)</tspan></text>
<text x="156.5" y="605" font-size="12.5" text-anchor="start" textLength="22.5" lengthAdjust="spacingAndGlyphs">tanβ</text>
<text x="158.5" y="628" font-size="14.5" text-anchor="start" font-weight="bold" textLength="17" lengthAdjust="spacingAndGlyphs">(c)</text>
<path d="M366.44 571.8v-2M366.44 328.8v2M373.39 571.8v-2M373.39 328.8v2M380.33 571.8v-2M380.33 328.8v2M387.27 571.8v-2M387.27 328.8v2M394.21 571.8v-4.2M394.21 328.8v4.2M401.16 571.8v-2M401.16 328.8v2M408.1 571.8v-2M408.1 328.8v2M415.04 571.8v-2M415.04 328.8v2M421.99 571.8v-2M421.99 328.8v2M428.93 571.8v-4.2M428.93 328.8v4.2M435.87 571.8v-2M435.87 328.8v2M442.81 571.8v-2M442.81 328.8v2M449.76 571.8v-2M449.76 328.8v2M456.7 571.8v-2M456.7 328.8v2M463.64 571.8v-4.2M463.64 328.8v4.2M470.59 571.8v-2M470.59 328.8v2M477.53 571.8v-2M477.53 328.8v2M484.47 571.8v-2M484.47 328.8v2M491.41 571.8v-2M491.41 328.8v2M498.36 571.8v-4.2M498.36 328.8v4.2M505.3 571.8v-2M505.3 328.8v2M512.24 571.8v-2M512.24 328.8v2M519.19 571.8v-2M519.19 328.8v2M526.13 571.8v-2M526.13 328.8v2M533.07 571.8v-4.2M533.07 328.8v4.2M540.01 571.8v-2M540.01 328.8v2M546.96 571.8v-2M546.96 328.8v2M553.9 571.8v-2M553.9 328.8v2M560.84 571.8v-2M560.84 328.8v2M567.79 571.8v-4.2M567.79 328.8v4.2M574.73 571.8v-2M574.73 328.8v2M581.67 571.8v-2M581.67 328.8v2M588.61 571.8v-2M588.61 328.8v2M595.56 571.8v-2M595.56 328.8v2M359.5 561.67h2M602.5 561.67h-2M359.5 551.55h2M602.5 551.55h-2M359.5 541.42h2M602.5 541.42h-2M359.5 531.3h4.2M602.5 531.3h-4.2M359.5 521.17h2M602.5 521.17h-2M359.5 511.05h2M602.5 511.05h-2M359.5 500.92h2M602.5 500.92h-2M359.5 490.8h4.2M602.5 490.8h-4.2M359.5 480.67h2M602.5 480.67h-2M359.5 470.55h2M602.5 470.55h-2M359.5 460.42h2M602.5 460.42h-2M359.5 450.3h4.2M602.5 450.3h-4.2M359.5 440.17h2M602.5 440.17h-2M359.5 430.05h2M602.5 430.05h-2M359.5 419.92h2M602.5 419.92h-2M359.5 409.8h4.2M602.5 409.8h-4.2M359.5 399.67h2M602.5 399.67h-2M359.5 389.55h2M602.5 389.55h-2M359.5 379.43h2M602.5 379.43h-2M359.5 369.3h4.2M602.5 369.3h-4.2M359.5 359.18h2M602.5 359.18h-2M359.5 349.05h2M602.5 349.05h-2M359.5 338.93h2M602.5 338.93h-2" stroke="#1a1a1a" stroke-width="1.2" fill="none"/>
<rect x="359.5" y="328.8" width="243" height="243" fill="none" stroke="#1a1a1a" stroke-width="1.4"/>
<text x="354.9" y="575.8" font-size="12" text-anchor="end" textLength="16.2" lengthAdjust="spacingAndGlyphs">200</text>
<text x="354.9" y="535.3" font-size="12" text-anchor="end" textLength="16.2" lengthAdjust="spacingAndGlyphs">400</text>
<text x="354.9" y="494.8" font-size="12" text-anchor="end" textLength="16.2" lengthAdjust="spacingAndGlyphs">600</text>
<text x="354.9" y="454.3" font-size="12" text-anchor="end" textLength="16.2" lengthAdjust="spacingAndGlyphs">800</text>
<text x="354.9" y="413.8" font-size="12" text-anchor="end" textLength="21.6" lengthAdjust="spacingAndGlyphs">1000</text>
<text x="354.9" y="373.3" font-size="12" text-anchor="end" textLength="21.6" lengthAdjust="spacingAndGlyphs">1200</text>
<text x="354.9" y="332.8" font-size="12" text-anchor="end" textLength="21.6" lengthAdjust="spacingAndGlyphs">1400</text>
<text x="359.5" y="585.8" font-size="12" text-anchor="middle" textLength="5.4" lengthAdjust="spacingAndGlyphs">0</text>
<text x="394.21" y="585.8" font-size="12" text-anchor="middle" textLength="13.5" lengthAdjust="spacingAndGlyphs">2.5</text>
<text x="428.93" y="585.8" font-size="12" text-anchor="middle" textLength="5.4" lengthAdjust="spacingAndGlyphs">5</text>
<text x="463.64" y="585.8" font-size="12" text-anchor="middle" textLength="13.5" lengthAdjust="spacingAndGlyphs">7.5</text>
<text x="498.36" y="585.8" font-size="12" text-anchor="middle" textLength="10.8" lengthAdjust="spacingAndGlyphs">10</text>
<text x="533.07" y="585.8" font-size="12" text-anchor="middle" textLength="18.9" lengthAdjust="spacingAndGlyphs">12.5</text>
<text x="567.79" y="585.8" font-size="12" text-anchor="middle" textLength="10.8" lengthAdjust="spacingAndGlyphs">15</text>
<text x="599.5" y="585.8" font-size="12" text-anchor="middle" textLength="18.9" lengthAdjust="spacingAndGlyphs">17.5</text>
<text x="378.9" y="343" font-size="12.5" text-anchor="start" textLength="43.6" lengthAdjust="spacingAndGlyphs">2HDM II</text>
<text x="366.9" y="367.2" font-size="10" textLength="49.9" lengthAdjust="spacingAndGlyphs">Λ = 10<tspan font-size="6" dy="-4.2">19</tspan><tspan dy="4.2"> GeV</tspan></text>
<text x="366.9" y="377.4" font-size="10" textLength="52.1" lengthAdjust="spacingAndGlyphs">M<tspan font-size="6.5" dy="1.5">t</tspan><tspan dy="-1.5"> = 175 GeV</tspan></text>
<rect x="439.9" y="331.1" width="165.7" height="31.1" fill="#fff" stroke="#1a1a1a" stroke-width="1.1"/>
<rect x="449.5" y="340.8" width="1.8" height="1.8" fill="#ff0000"/>
<rect x="449.5" y="350.8" width="1.8" height="1.8" fill="#008000"/>
<rect x="460" y="340.8" width="1.8" height="1.8" fill="#ff0000"/>
<rect x="460" y="350.8" width="1.8" height="1.8" fill="#008000"/>
<text x="479.7" y="344.4" font-size="9.5" text-anchor="start" textLength="98" lengthAdjust="spacingAndGlyphs">Stable + Perturbative till Λ</text>
<text x="479.7" y="354.5" font-size="9.5" text-anchor="start" textLength="114.8" lengthAdjust="spacingAndGlyphs">Metastable + Perturbative till Λ</text>
<text transform="translate(327,476.5) rotate(-90)" x="0" y="0" font-size="13.5" textLength="52.7" lengthAdjust="spacingAndGlyphs">m<tspan font-size="9" dy="1.6">H</tspan><tspan font-size="13.5" dy="-1.6"> (GeV)</tspan></text>
<text x="469.5" y="604.5" font-size="12.5" text-anchor="start" textLength="22.5" lengthAdjust="spacingAndGlyphs">tanβ</text>
<text x="471" y="628.5" font-size="14.5" text-anchor="start" font-weight="bold" textLength="18.5" lengthAdjust="spacingAndGlyphs">(d)</text>
<path d="M49.96 894.8v-2M49.96 652v2M56.91 894.8v-2M56.91 652v2M63.87 894.8v-2M63.87 652v2M70.83 894.8v-2M70.83 652v2M77.79 894.8v-4.2M77.79 652v4.2M84.74 894.8v-2M84.74 652v2M91.7 894.8v-2M91.7 652v2M98.66 894.8v-2M98.66 652v2M105.61 894.8v-2M105.61 652v2M112.57 894.8v-4.2M112.57 652v4.2M119.53 894.8v-2M119.53 652v2M126.49 894.8v-2M126.49 652v2M133.44 894.8v-2M133.44 652v2M140.4 894.8v-2M140.4 652v2M147.36 894.8v-4.2M147.36 652v4.2M154.31 894.8v-2M154.31 652v2M161.27 894.8v-2M161.27 652v2M168.23 894.8v-2M168.23 652v2M175.19 894.8v-2M175.19 652v2M182.14 894.8v-4.2M182.14 652v4.2M189.1 894.8v-2M189.1 652v2M196.06 894.8v-2M196.06 652v2M203.01 894.8v-2M203.01 652v2M209.97 894.8v-2M209.97 652v2M216.93 894.8v-4.2M216.93 652v4.2M223.89 894.8v-2M223.89 652v2M230.84 894.8v-2M230.84 652v2M237.8 894.8v-2M237.8 652v2M244.76 894.8v-2M244.76 652v2M251.71 894.8v-4.2M251.71 652v4.2M258.67 894.8v-2M258.67 652v2M265.63 894.8v-2M265.63 652v2M272.59 894.8v-2M272.59 652v2M279.54 894.8v-2M279.54 652v2M43 884.68h2M286.5 884.68h-2M43 874.57h2M286.5 874.57h-2M43 864.45h2M286.5 864.45h-2M43 854.33h4.2M286.5 854.33h-4.2M43 844.22h2M286.5 844.22h-2M43 834.1h2M286.5 834.1h-2M43 823.98h2M286.5 823.98h-2M43 813.87h4.2M286.5 813.87h-4.2M43 803.75h2M286.5 803.75h-2M43 793.63h2M286.5 793.63h-2M43 783.52h2M286.5 783.52h-2M43 773.4h4.2M286.5 773.4h-4.2M43 763.28h2M286.5 763.28h-2M43 753.17h2M286.5 753.17h-2M43 743.05h2M286.5 743.05h-2M43 732.93h4.2M286.5 732.93h-4.2M43 722.82h2M286.5 722.82h-2M43 712.7h2M286.5 712.7h-2M43 702.58h2M286.5 702.58h-2M43 692.47h4.2M286.5 692.47h-4.2M43 682.35h2M286.5 682.35h-2M43 672.23h2M286.5 672.23h-2M43 662.12h2M286.5 662.12h-2" stroke="#1a1a1a" stroke-width="1.2" fill="none"/>
<rect x="43" y="652" width="243.5" height="242.8" fill="none" stroke="#1a1a1a" stroke-width="1.4"/>
<text x="38.4" y="898.8" font-size="12" text-anchor="end" textLength="16.2" lengthAdjust="spacingAndGlyphs">200</text>
<text x="38.4" y="858.33" font-size="12" text-anchor="end" textLength="16.2" lengthAdjust="spacingAndGlyphs">400</text>
<text x="38.4" y="817.87" font-size="12" text-anchor="end" textLength="16.2" lengthAdjust="spacingAndGlyphs">600</text>
<text x="38.4" y="777.4" font-size="12" text-anchor="end" textLength="16.2" lengthAdjust="spacingAndGlyphs">800</text>
<text x="38.4" y="736.93" font-size="12" text-anchor="end" textLength="21.6" lengthAdjust="spacingAndGlyphs">1000</text>
<text x="38.4" y="696.47" font-size="12" text-anchor="end" textLength="21.6" lengthAdjust="spacingAndGlyphs">1200</text>
<text x="38.4" y="656" font-size="12" text-anchor="end" textLength="21.6" lengthAdjust="spacingAndGlyphs">1400</text>
<text x="43" y="908.8" font-size="12" text-anchor="middle" textLength="5.4" lengthAdjust="spacingAndGlyphs">0</text>
<text x="77.79" y="908.8" font-size="12" text-anchor="middle" textLength="13.5" lengthAdjust="spacingAndGlyphs">2.5</text>
<text x="112.57" y="908.8" font-size="12" text-anchor="middle" textLength="5.4" lengthAdjust="spacingAndGlyphs">5</text>
<text x="147.36" y="908.8" font-size="12" text-anchor="middle" textLength="13.5" lengthAdjust="spacingAndGlyphs">7.5</text>
<text x="182.14" y="908.8" font-size="12" text-anchor="middle" textLength="10.8" lengthAdjust="spacingAndGlyphs">10</text>
<text x="216.93" y="908.8" font-size="12" text-anchor="middle" textLength="18.9" lengthAdjust="spacingAndGlyphs">12.5</text>
<text x="251.71" y="908.8" font-size="12" text-anchor="middle" textLength="10.8" lengthAdjust="spacingAndGlyphs">15</text>
<text x="283.5" y="908.8" font-size="12" text-anchor="middle" textLength="18.9" lengthAdjust="spacingAndGlyphs">17.5</text>
<text x="62.4" y="666.2" font-size="12.5" text-anchor="start" textLength="43.6" lengthAdjust="spacingAndGlyphs">2HDM II</text>
<text x="50.4" y="690.4" font-size="10" textLength="49.9" lengthAdjust="spacingAndGlyphs">Λ = 10<tspan font-size="6" dy="-4.2">19</tspan><tspan dy="4.2"> GeV</tspan></text>
<text x="50.4" y="700.6" font-size="10" textLength="52.1" lengthAdjust="spacingAndGlyphs">M<tspan font-size="6.5" dy="1.5">t</tspan><tspan dy="-1.5"> = 175 GeV</tspan></text>
<rect x="123.4" y="654.3" width="165.7" height="31.1" fill="#fff" stroke="#1a1a1a" stroke-width="1.1"/>
<rect x="133" y="664" width="1.8" height="1.8" fill="#ff0000"/>
<rect x="133" y="674" width="1.8" height="1.8" fill="#008000"/>
<rect x="143.5" y="664" width="1.8" height="1.8" fill="#ff0000"/>
<rect x="143.5" y="674" width="1.8" height="1.8" fill="#008000"/>
<text x="163.2" y="667.6" font-size="9.5" text-anchor="start" textLength="98" lengthAdjust="spacingAndGlyphs">Stable + Perturbative till Λ</text>
<text x="163.2" y="677.7" font-size="9.5" text-anchor="start" textLength="114.8" lengthAdjust="spacingAndGlyphs">Metastable + Perturbative till Λ</text>
<text transform="translate(13,799.5) rotate(-90)" x="0" y="0" font-size="13.5" textLength="53.2" lengthAdjust="spacingAndGlyphs">m<tspan font-size="9" dy="1.6">A</tspan><tspan font-size="13.5" dy="-1.6"> (GeV)</tspan></text>
<text x="154" y="927.5" font-size="12.5" text-anchor="start" textLength="22.5" lengthAdjust="spacingAndGlyphs">tanβ</text>
<text x="156" y="951" font-size="14.5" text-anchor="start" font-weight="bold" textLength="17" lengthAdjust="spacingAndGlyphs">(e)</text>
<path d="M363.44 895v-2M363.44 652v2M370.39 895v-2M370.39 652v2M377.33 895v-2M377.33 652v2M384.27 895v-2M384.27 652v2M391.21 895v-4.2M391.21 652v4.2M398.16 895v-2M398.16 652v2M405.1 895v-2M405.1 652v2M412.04 895v-2M412.04 652v2M418.99 895v-2M418.99 652v2M425.93 895v-4.2M425.93 652v4.2M432.87 895v-2M432.87 652v2M439.81 895v-2M439.81 652v2M446.76 895v-2M446.76 652v2M453.7 895v-2M453.7 652v2M460.64 895v-4.2M460.64 652v4.2M467.59 895v-2M467.59 652v2M474.53 895v-2M474.53 652v2M481.47 895v-2M481.47 652v2M488.41 895v-2M488.41 652v2M495.36 895v-4.2M495.36 652v4.2M502.3 895v-2M502.3 652v2M509.24 895v-2M509.24 652v2M516.19 895v-2M516.19 652v2M523.13 895v-2M523.13 652v2M530.07 895v-4.2M530.07 652v4.2M537.01 895v-2M537.01 652v2M543.96 895v-2M543.96 652v2M550.9 895v-2M550.9 652v2M557.84 895v-2M557.84 652v2M564.79 895v-4.2M564.79 652v4.2M571.73 895v-2M571.73 652v2M578.67 895v-2M578.67 652v2M585.61 895v-2M585.61 652v2M592.56 895v-2M592.56 652v2M356.5 884.88h2M599.5 884.88h-2M356.5 874.75h2M599.5 874.75h-2M356.5 864.62h2M599.5 864.62h-2M356.5 854.5h4.2M599.5 854.5h-4.2M356.5 844.38h2M599.5 844.38h-2M356.5 834.25h2M599.5 834.25h-2M356.5 824.12h2M599.5 824.12h-2M356.5 814h4.2M599.5 814h-4.2M356.5 803.88h2M599.5 803.88h-2M356.5 793.75h2M599.5 793.75h-2M356.5 783.62h2M599.5 783.62h-2M356.5 773.5h4.2M599.5 773.5h-4.2M356.5 763.38h2M599.5 763.38h-2M356.5 753.25h2M599.5 753.25h-2M356.5 743.12h2M599.5 743.12h-2M356.5 733h4.2M599.5 733h-4.2M356.5 722.88h2M599.5 722.88h-2M356.5 712.75h2M599.5 712.75h-2M356.5 702.62h2M599.5 702.62h-2M356.5 692.5h4.2M599.5 692.5h-4.2M356.5 682.38h2M599.5 682.38h-2M356.5 672.25h2M599.5 672.25h-2M356.5 662.12h2M599.5 662.12h-2" stroke="#1a1a1a" stroke-width="1.2" fill="none"/>
<rect x="356.5" y="652" width="243" height="243" fill="none" stroke="#1a1a1a" stroke-width="1.4"/>
<text x="351.9" y="899" font-size="12" text-anchor="end" textLength="16.2" lengthAdjust="spacingAndGlyphs">200</text>
<text x="351.9" y="858.5" font-size="12" text-anchor="end" textLength="16.2" lengthAdjust="spacingAndGlyphs">400</text>
<text x="351.9" y="818" font-size="12" text-anchor="end" textLength="16.2" lengthAdjust="spacingAndGlyphs">600</text>
<text x="351.9" y="777.5" font-size="12" text-anchor="end" textLength="16.2" lengthAdjust="spacingAndGlyphs">800</text>
<text x="351.9" y="737" font-size="12" text-anchor="end" textLength="21.6" lengthAdjust="spacingAndGlyphs">1000</text>
<text x="351.9" y="696.5" font-size="12" text-anchor="end" textLength="21.6" lengthAdjust="spacingAndGlyphs">1200</text>
<text x="351.9" y="656" font-size="12" text-anchor="end" textLength="21.6" lengthAdjust="spacingAndGlyphs">1400</text>
<text x="356.5" y="909" font-size="12" text-anchor="middle" textLength="5.4" lengthAdjust="spacingAndGlyphs">0</text>
<text x="391.21" y="909" font-size="12" text-anchor="middle" textLength="13.5" lengthAdjust="spacingAndGlyphs">2.5</text>
<text x="425.93" y="909" font-size="12" text-anchor="middle" textLength="5.4" lengthAdjust="spacingAndGlyphs">5</text>
<text x="460.64" y="909" font-size="12" text-anchor="middle" textLength="13.5" lengthAdjust="spacingAndGlyphs">7.5</text>
<text x="495.36" y="909" font-size="12" text-anchor="middle" textLength="10.8" lengthAdjust="spacingAndGlyphs">10</text>
<text x="530.07" y="909" font-size="12" text-anchor="middle" textLength="18.9" lengthAdjust="spacingAndGlyphs">12.5</text>
<text x="564.79" y="909" font-size="12" text-anchor="middle" textLength="10.8" lengthAdjust="spacingAndGlyphs">15</text>
<text x="596.5" y="909" font-size="12" text-anchor="middle" textLength="18.9" lengthAdjust="spacingAndGlyphs">17.5</text>
<text x="375.9" y="666.2" font-size="12.5" text-anchor="start" textLength="43.6" lengthAdjust="spacingAndGlyphs">2HDM II</text>
<text x="363.9" y="690.4" font-size="10" textLength="49.9" lengthAdjust="spacingAndGlyphs">Λ = 10<tspan font-size="6" dy="-4.2">19</tspan><tspan dy="4.2"> GeV</tspan></text>
<text x="363.9" y="700.6" font-size="10" textLength="52.1" lengthAdjust="spacingAndGlyphs">M<tspan font-size="6.5" dy="1.5">t</tspan><tspan dy="-1.5"> = 175 GeV</tspan></text>
<rect x="436.9" y="654.3" width="165.7" height="31.1" fill="#fff" stroke="#1a1a1a" stroke-width="1.1"/>
<rect x="446.5" y="664" width="1.8" height="1.8" fill="#ff0000"/>
<rect x="446.5" y="674" width="1.8" height="1.8" fill="#008000"/>
<rect x="457" y="664" width="1.8" height="1.8" fill="#ff0000"/>
<rect x="457" y="674" width="1.8" height="1.8" fill="#008000"/>
<text x="476.7" y="667.6" font-size="9.5" text-anchor="start" textLength="98" lengthAdjust="spacingAndGlyphs">Stable + Perturbative till Λ</text>
<text x="476.7" y="677.7" font-size="9.5" text-anchor="start" textLength="114.8" lengthAdjust="spacingAndGlyphs">Metastable + Perturbative till Λ</text>
<text transform="translate(325.9,802) rotate(-90)" x="0" y="0" font-size="13.5" textLength="55.7" lengthAdjust="spacingAndGlyphs">m<tspan font-size="9" dy="1.6">H</tspan><tspan font-size="5" dy="-6">±</tspan><tspan font-size="13.5" dy="4.4"> (GeV)</tspan></text>
<text x="467.5" y="927" font-size="12.5" text-anchor="start" textLength="22" lengthAdjust="spacingAndGlyphs">tanβ</text>
<text x="469.5" y="951" font-size="14.5" text-anchor="start" font-weight="bold" textLength="16.5" lengthAdjust="spacingAndGlyphs">(f)</text>
</svg>
</body></html>
